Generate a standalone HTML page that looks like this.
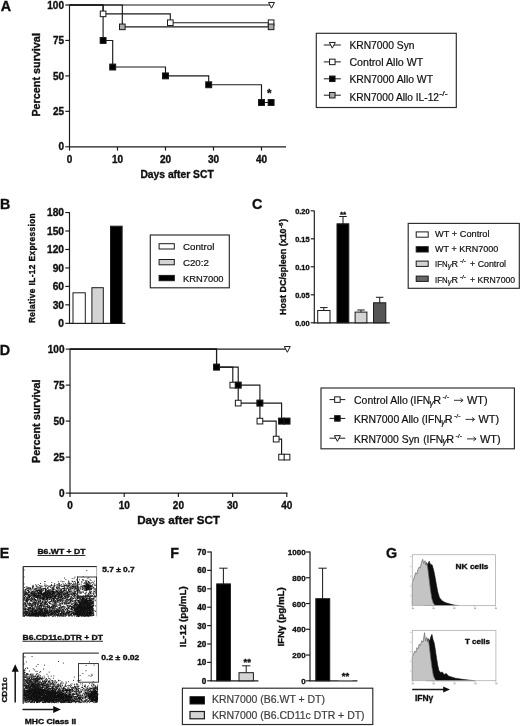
<!DOCTYPE html>
<html><head><meta charset="utf-8"><title>Figure</title>
<style>
html,body{margin:0;padding:0;background:#fff;}
body{width:520px;height:726px;overflow:hidden;}
svg{display:block;font-family:"Liberation Sans",sans-serif;}
</style></head><body>
<svg width="520" height="726" viewBox="0 0 520 726">
<defs><filter id="bl" x="0" y="0" width="520" height="726" filterUnits="userSpaceOnUse"><feGaussianBlur stdDeviation="0.35"/></filter></defs>
<rect x="0" y="0" width="520" height="726" fill="#fff"/>
<g filter="url(#bl)">
<text x="0.80" y="10.80" font-size="14.3" font-weight="bold" stroke="#111" stroke-width="0.35" fill="#111" >A</text>
<line x1="69.50" y1="4.50" x2="69.50" y2="147.30" stroke="#1a1a1a" stroke-width="1.15" />
<line x1="69.00" y1="146.80" x2="286.00" y2="146.80" stroke="#1a1a1a" stroke-width="1.15" />
<line x1="65.30" y1="146.80" x2="69.50" y2="146.80" stroke="#1a1a1a" stroke-width="1.15" />
<text x="64.00" y="150.40" font-size="10" font-weight="bold" stroke="#111" stroke-width="0.35" text-anchor="end" fill="#111" >0</text>
<line x1="65.30" y1="111.35" x2="69.50" y2="111.35" stroke="#1a1a1a" stroke-width="1.15" />
<text x="64.00" y="114.95" font-size="10" font-weight="bold" stroke="#111" stroke-width="0.35" text-anchor="end" fill="#111" >25</text>
<line x1="65.30" y1="75.90" x2="69.50" y2="75.90" stroke="#1a1a1a" stroke-width="1.15" />
<text x="64.00" y="79.50" font-size="10" font-weight="bold" stroke="#111" stroke-width="0.35" text-anchor="end" fill="#111" >50</text>
<line x1="65.30" y1="40.45" x2="69.50" y2="40.45" stroke="#1a1a1a" stroke-width="1.15" />
<text x="64.00" y="44.05" font-size="10" font-weight="bold" stroke="#111" stroke-width="0.35" text-anchor="end" fill="#111" >75</text>
<line x1="65.30" y1="5.00" x2="69.50" y2="5.00" stroke="#1a1a1a" stroke-width="1.15" />
<text x="64.00" y="8.60" font-size="10" font-weight="bold" stroke="#111" stroke-width="0.35" text-anchor="end" fill="#111" >100</text>
<line x1="69.50" y1="146.80" x2="69.50" y2="150.60" stroke="#1a1a1a" stroke-width="1.15" />
<text x="69.50" y="162.60" font-size="10" font-weight="bold" stroke="#111" stroke-width="0.35" text-anchor="middle" fill="#111" >0</text>
<line x1="117.50" y1="146.80" x2="117.50" y2="150.60" stroke="#1a1a1a" stroke-width="1.15" />
<text x="117.50" y="162.60" font-size="10" font-weight="bold" stroke="#111" stroke-width="0.35" text-anchor="middle" fill="#111" >10</text>
<line x1="165.50" y1="146.80" x2="165.50" y2="150.60" stroke="#1a1a1a" stroke-width="1.15" />
<text x="165.50" y="162.60" font-size="10" font-weight="bold" stroke="#111" stroke-width="0.35" text-anchor="middle" fill="#111" >20</text>
<line x1="213.50" y1="146.80" x2="213.50" y2="150.60" stroke="#1a1a1a" stroke-width="1.15" />
<text x="213.50" y="162.60" font-size="10" font-weight="bold" stroke="#111" stroke-width="0.35" text-anchor="middle" fill="#111" >30</text>
<line x1="261.50" y1="146.80" x2="261.50" y2="150.60" stroke="#1a1a1a" stroke-width="1.15" />
<text x="261.50" y="162.60" font-size="10" font-weight="bold" stroke="#111" stroke-width="0.35" text-anchor="middle" fill="#111" >40</text>
<text x="40.00" y="116.60" font-size="10.8" font-weight="bold" stroke="#111" stroke-width="0.35" textLength="83.5" lengthAdjust="spacingAndGlyphs" transform="rotate(-90 40.00 116.60)" fill="#111" >Percent survival</text>
<text x="140.40" y="178.30" font-size="10.5" font-weight="bold" stroke="#111" stroke-width="0.35" textLength="73.3" lengthAdjust="spacingAndGlyphs" fill="#111" >Days after SCT</text>
<path d="M69.50 5.00 L271.10 5.00" stroke="#1a1a1a" stroke-width="1.15" fill="none" />
<path d="M69.50 5.00 L103.10 5.00 L103.10 13.86 L170.30 13.86 L170.30 22.73 L271.10 22.73" stroke="#1a1a1a" stroke-width="1.15" fill="none" />
<path d="M69.50 5.00 L122.30 5.00 L122.30 26.84 L271.10 26.84" stroke="#1a1a1a" stroke-width="1.15" fill="none" />
<path d="M69.50 5.00 L103.10 5.00 L103.10 40.45 L112.70 40.45 L112.70 67.04 L165.50 67.04 L165.50 75.90 L208.70 75.90 L208.70 84.76 L261.50 84.76 L261.50 102.49 L271.10 102.49" stroke="#1a1a1a" stroke-width="1.15" fill="none" />
<path d="M268.50 2.45 L274.50 2.45 L271.50 8.15 Z" fill="#fff" stroke="#1a1a1a" stroke-width="1.0"/>
<rect x="100.30" y="11.06" width="5.60" height="5.60" fill="#fff" stroke="#1a1a1a" stroke-width="1.0"/>
<rect x="167.50" y="19.93" width="5.60" height="5.60" fill="#fff" stroke="#1a1a1a" stroke-width="1.0"/>
<rect x="268.30" y="19.93" width="5.60" height="5.60" fill="#fff" stroke="#1a1a1a" stroke-width="1.0"/>
<rect x="119.50" y="24.04" width="5.60" height="5.60" fill="#aaa" stroke="#1a1a1a" stroke-width="1.0"/>
<rect x="268.30" y="24.04" width="5.60" height="5.60" fill="#aaa" stroke="#1a1a1a" stroke-width="1.0"/>
<rect x="100.15" y="37.50" width="5.90" height="5.90" fill="#000" stroke="#1a1a1a" stroke-width="1.0"/>
<rect x="109.75" y="64.09" width="5.90" height="5.90" fill="#000" stroke="#1a1a1a" stroke-width="1.0"/>
<rect x="162.55" y="72.95" width="5.90" height="5.90" fill="#000" stroke="#1a1a1a" stroke-width="1.0"/>
<rect x="205.75" y="81.81" width="5.90" height="5.90" fill="#000" stroke="#1a1a1a" stroke-width="1.0"/>
<rect x="258.55" y="99.54" width="5.90" height="5.90" fill="#000" stroke="#1a1a1a" stroke-width="1.0"/>
<rect x="268.15" y="99.54" width="5.90" height="5.90" fill="#000" stroke="#1a1a1a" stroke-width="1.0"/>
<text x="269.30" y="97.00" font-size="11.5" font-weight="bold" stroke="#111" stroke-width="0.35" text-anchor="middle" fill="#111" >*</text>
<rect x="316.30" y="33.30" width="140.00" height="74.20" fill="#fff" stroke="#2a2a2a" stroke-width="1.15"/>
<line x1="323.80" y1="45.00" x2="340.80" y2="45.00" stroke="#1a1a1a" stroke-width="1.0" />
<path d="M329.30 42.45 L335.30 42.45 L332.30 48.15 Z" fill="#fff" stroke="#1a1a1a" stroke-width="1.0"/>
<text x="349.40" y="49.00" font-size="10.3" stroke="#111" stroke-width="0.2" textLength="65.2" lengthAdjust="spacingAndGlyphs" fill="#111" >KRN7000 Syn</text>
<line x1="323.80" y1="61.90" x2="340.80" y2="61.90" stroke="#1a1a1a" stroke-width="1.0" />
<rect x="329.55" y="59.15" width="5.50" height="5.50" fill="#fff" stroke="#1a1a1a" stroke-width="1.0"/>
<text x="349.40" y="65.70" font-size="10.3" stroke="#111" stroke-width="0.2" textLength="73.8" lengthAdjust="spacingAndGlyphs" fill="#111" >Control Allo WT</text>
<line x1="323.80" y1="78.80" x2="340.80" y2="78.80" stroke="#1a1a1a" stroke-width="1.0" />
<rect x="329.55" y="76.05" width="5.50" height="5.50" fill="#000" stroke="#1a1a1a" stroke-width="1.0"/>
<text x="349.40" y="82.60" font-size="10.3" stroke="#111" stroke-width="0.2" textLength="83.6" lengthAdjust="spacingAndGlyphs" fill="#111" >KRN7000 Allo WT</text>
<line x1="323.80" y1="95.20" x2="340.80" y2="95.20" stroke="#1a1a1a" stroke-width="1.0" />
<rect x="329.55" y="92.45" width="5.50" height="5.50" fill="#aaa" stroke="#1a1a1a" stroke-width="1.0"/>
<text x="349.40" y="101.00" font-size="10.3" stroke="#111" stroke-width="0.2" textLength="89.6" lengthAdjust="spacingAndGlyphs" fill="#111" >KRN7000 Allo IL-12</text>
<text x="439.30" y="96.30" font-size="6.5" stroke="#111" stroke-width="0.2" textLength="8.3" lengthAdjust="spacingAndGlyphs" fill="#111" >-/-</text>
<text x="-0.10" y="209.10" font-size="14.3" font-weight="bold" stroke="#111" stroke-width="0.35" fill="#111" >B</text>
<line x1="69.50" y1="212.00" x2="69.50" y2="323.80" stroke="#1a1a1a" stroke-width="1.15" />
<line x1="69.00" y1="323.30" x2="125.30" y2="323.30" stroke="#1a1a1a" stroke-width="1.15" />
<line x1="65.30" y1="323.30" x2="69.50" y2="323.30" stroke="#1a1a1a" stroke-width="1.15" />
<text x="64.00" y="327.00" font-size="10.2" font-weight="bold" stroke="#111" stroke-width="0.35" text-anchor="end" fill="#111" >0</text>
<line x1="65.30" y1="304.84" x2="69.50" y2="304.84" stroke="#1a1a1a" stroke-width="1.15" />
<text x="64.00" y="308.54" font-size="10.2" font-weight="bold" stroke="#111" stroke-width="0.35" text-anchor="end" fill="#111" >30</text>
<line x1="65.30" y1="286.38" x2="69.50" y2="286.38" stroke="#1a1a1a" stroke-width="1.15" />
<text x="64.00" y="290.08" font-size="10.2" font-weight="bold" stroke="#111" stroke-width="0.35" text-anchor="end" fill="#111" >60</text>
<line x1="65.30" y1="267.93" x2="69.50" y2="267.93" stroke="#1a1a1a" stroke-width="1.15" />
<text x="64.00" y="271.62" font-size="10.2" font-weight="bold" stroke="#111" stroke-width="0.35" text-anchor="end" fill="#111" >90</text>
<line x1="65.30" y1="249.47" x2="69.50" y2="249.47" stroke="#1a1a1a" stroke-width="1.15" />
<text x="64.00" y="253.17" font-size="10.2" font-weight="bold" stroke="#111" stroke-width="0.35" text-anchor="end" fill="#111" >120</text>
<line x1="65.30" y1="231.01" x2="69.50" y2="231.01" stroke="#1a1a1a" stroke-width="1.15" />
<text x="64.00" y="234.71" font-size="10.2" font-weight="bold" stroke="#111" stroke-width="0.35" text-anchor="end" fill="#111" >150</text>
<line x1="65.30" y1="212.55" x2="69.50" y2="212.55" stroke="#1a1a1a" stroke-width="1.15" />
<text x="64.00" y="216.25" font-size="10.2" font-weight="bold" stroke="#111" stroke-width="0.35" text-anchor="end" fill="#111" >180</text>
<rect x="73.00" y="292.80" width="12.30" height="30.50" fill="#fff" stroke="#1a1a1a" stroke-width="1.0"/>
<rect x="91.90" y="287.70" width="11.40" height="35.60" fill="#d4d4d4" stroke="#1a1a1a" stroke-width="1.0"/>
<rect x="110.50" y="226.20" width="11.60" height="97.10" fill="#000" stroke="#1a1a1a" stroke-width="1.0"/>
<text x="34.80" y="323.10" font-size="8.3" font-weight="bold" stroke="#111" stroke-width="0.35" textLength="109.8" lengthAdjust="spacing" transform="rotate(-90 34.80 323.10)" fill="#111" >Relative IL-12 Expression</text>
<rect x="150.30" y="235.00" width="79.00" height="52.80" fill="#fff" stroke="#2a2a2a" stroke-width="1.15"/>
<rect x="159.10" y="243.70" width="15.20" height="5.30" fill="#fff" stroke="#1a1a1a" stroke-width="1.0"/>
<text x="182.90" y="249.80" font-size="9.6" stroke="#111" stroke-width="0.2" textLength="31.5" lengthAdjust="spacingAndGlyphs" fill="#111" >Control</text>
<rect x="159.10" y="259.50" width="15.20" height="5.30" fill="#d4d4d4" stroke="#1a1a1a" stroke-width="1.0"/>
<text x="182.90" y="265.60" font-size="9.6" stroke="#111" stroke-width="0.2" textLength="26.0" lengthAdjust="spacingAndGlyphs" fill="#111" >C20:2</text>
<rect x="159.10" y="275.40" width="15.20" height="5.30" fill="#000" stroke="#1a1a1a" stroke-width="1.0"/>
<text x="182.90" y="281.70" font-size="9.6" stroke="#111" stroke-width="0.2" textLength="40.7" lengthAdjust="spacingAndGlyphs" fill="#111" >KRN7000</text>
<text x="251.90" y="209.40" font-size="14.3" font-weight="bold" stroke="#111" stroke-width="0.35" fill="#111" >C</text>
<line x1="314.30" y1="210.70" x2="314.30" y2="323.30" stroke="#1a1a1a" stroke-width="1.15" />
<line x1="313.80" y1="322.80" x2="389.70" y2="322.80" stroke="#1a1a1a" stroke-width="1.15" />
<line x1="310.70" y1="322.80" x2="314.30" y2="322.80" stroke="#1a1a1a" stroke-width="1.15" />
<text x="309.60" y="325.50" font-size="7.6" font-weight="bold" stroke="#111" stroke-width="0.35" text-anchor="end" textLength="14.4" lengthAdjust="spacingAndGlyphs" fill="#111" >0.00</text>
<line x1="310.70" y1="294.80" x2="314.30" y2="294.80" stroke="#1a1a1a" stroke-width="1.15" />
<text x="309.60" y="297.50" font-size="7.6" font-weight="bold" stroke="#111" stroke-width="0.35" text-anchor="end" textLength="14.4" lengthAdjust="spacingAndGlyphs" fill="#111" >0.05</text>
<line x1="310.70" y1="266.80" x2="314.30" y2="266.80" stroke="#1a1a1a" stroke-width="1.15" />
<text x="309.60" y="269.50" font-size="7.6" font-weight="bold" stroke="#111" stroke-width="0.35" text-anchor="end" textLength="14.4" lengthAdjust="spacingAndGlyphs" fill="#111" >0.10</text>
<line x1="310.70" y1="238.80" x2="314.30" y2="238.80" stroke="#1a1a1a" stroke-width="1.15" />
<text x="309.60" y="241.50" font-size="7.6" font-weight="bold" stroke="#111" stroke-width="0.35" text-anchor="end" textLength="14.4" lengthAdjust="spacingAndGlyphs" fill="#111" >0.15</text>
<line x1="310.70" y1="210.80" x2="314.30" y2="210.80" stroke="#1a1a1a" stroke-width="1.15" />
<text x="309.60" y="213.50" font-size="7.6" font-weight="bold" stroke="#111" stroke-width="0.35" text-anchor="end" textLength="14.4" lengthAdjust="spacingAndGlyphs" fill="#111" >0.20</text>
<line x1="323.80" y1="307.60" x2="323.80" y2="311.00" stroke="#1a1a1a" stroke-width="1.0" />
<line x1="320.05" y1="307.60" x2="327.55" y2="307.60" stroke="#1a1a1a" stroke-width="1.0" />
<rect x="317.70" y="310.50" width="12.30" height="12.30" fill="#fff" stroke="#1a1a1a" stroke-width="1.0"/>
<line x1="343.00" y1="216.50" x2="343.00" y2="224.00" stroke="#1a1a1a" stroke-width="1.0" />
<line x1="339.25" y1="216.50" x2="346.75" y2="216.50" stroke="#1a1a1a" stroke-width="1.0" />
<rect x="337.00" y="223.80" width="11.80" height="99.00" fill="#000" stroke="#1a1a1a" stroke-width="1.0"/>
<line x1="361.00" y1="310.00" x2="361.00" y2="313.00" stroke="#1a1a1a" stroke-width="1.0" />
<line x1="357.25" y1="310.00" x2="364.75" y2="310.00" stroke="#1a1a1a" stroke-width="1.0" />
<rect x="355.10" y="312.10" width="11.80" height="10.70" fill="#d4d4d4" stroke="#1a1a1a" stroke-width="1.0"/>
<line x1="379.70" y1="297.30" x2="379.70" y2="303.00" stroke="#1a1a1a" stroke-width="1.0" />
<line x1="375.95" y1="297.30" x2="383.45" y2="297.30" stroke="#1a1a1a" stroke-width="1.0" />
<rect x="373.50" y="302.80" width="12.30" height="20.00" fill="#555" stroke="#1a1a1a" stroke-width="1.0"/>
<text x="343.00" y="217.00" font-size="8" font-weight="bold" stroke="#111" stroke-width="0.35" text-anchor="middle" fill="#111" >**</text>
<text x="286.50" y="314.90" font-size="8.6" font-weight="bold" stroke="#111" stroke-width="0.35" textLength="86.5" lengthAdjust="spacingAndGlyphs" transform="rotate(-90 286.50 314.90)" fill="#111" >Host DC/spleen (x10</text>
<text x="283.00" y="228.00" font-size="5.5" font-weight="bold" stroke="#111" stroke-width="0.35" textLength="5.5" lengthAdjust="spacingAndGlyphs" transform="rotate(-90 283.00 228.00)" fill="#111" >-6</text>
<text x="286.50" y="221.80" font-size="8.6" font-weight="bold" stroke="#111" stroke-width="0.35" transform="rotate(-90 286.50 221.80)" fill="#111" >)</text>
<rect x="408.20" y="223.40" width="111.10" height="64.90" fill="#fff" stroke="#2a2a2a" stroke-width="1.15"/>
<rect x="416.20" y="231.90" width="12.00" height="5.30" fill="#fff" stroke="#1a1a1a" stroke-width="1.0"/>
<rect x="416.20" y="246.70" width="12.00" height="5.30" fill="#000" stroke="#1a1a1a" stroke-width="1.0"/>
<rect x="416.20" y="261.10" width="12.00" height="5.30" fill="#d4d4d4" stroke="#1a1a1a" stroke-width="1.0"/>
<rect x="416.20" y="276.10" width="12.00" height="5.30" fill="#666" stroke="#1a1a1a" stroke-width="1.0"/>
<text x="435.10" y="237.20" font-size="9.0" stroke="#111" stroke-width="0.2" textLength="54.4" lengthAdjust="spacingAndGlyphs" fill="#111" >WT + Control</text>
<text x="435.10" y="252.00" font-size="9.0" stroke="#111" stroke-width="0.2" textLength="63.2" lengthAdjust="spacingAndGlyphs" fill="#111" >WT + KRN7000</text>
<text x="435.10" y="266.80" font-size="9.0" stroke="#111" stroke-width="0.2" textLength="12.6" lengthAdjust="spacingAndGlyphs" fill="#111" >IFN</text>
<text x="447.80" y="268.30" font-size="7.38" stroke="#111" stroke-width="0.2" fill="#111" font-style="italic">γ</text>
<text x="451.50" y="266.80" font-size="9.0" stroke="#111" stroke-width="0.2" fill="#111" >R</text>
<text x="459.80" y="262.80" font-size="5.3" stroke="#111" stroke-width="0.2" textLength="6.2" lengthAdjust="spacingAndGlyphs" fill="#111" >-/-</text>
<text x="470.10" y="266.80" font-size="9.0" stroke="#111" stroke-width="0.2" textLength="36.0" lengthAdjust="spacingAndGlyphs" fill="#111" >+ Control</text>
<text x="435.10" y="282.50" font-size="9.0" stroke="#111" stroke-width="0.2" textLength="12.6" lengthAdjust="spacingAndGlyphs" fill="#111" >IFN</text>
<text x="447.80" y="284.00" font-size="7.38" stroke="#111" stroke-width="0.2" fill="#111" font-style="italic">γ</text>
<text x="451.50" y="282.50" font-size="9.0" stroke="#111" stroke-width="0.2" fill="#111" >R</text>
<text x="459.80" y="278.50" font-size="5.3" stroke="#111" stroke-width="0.2" textLength="6.2" lengthAdjust="spacingAndGlyphs" fill="#111" >-/-</text>
<text x="470.10" y="282.50" font-size="9.0" stroke="#111" stroke-width="0.2" textLength="45.0" lengthAdjust="spacingAndGlyphs" fill="#111" >+ KRN7000</text>
<text x="-0.30" y="354.50" font-size="14.3" font-weight="bold" stroke="#111" stroke-width="0.35" fill="#111" >D</text>
<line x1="70.00" y1="348.60" x2="70.00" y2="493.60" stroke="#1a1a1a" stroke-width="1.15" />
<line x1="69.50" y1="493.10" x2="287.40" y2="493.10" stroke="#1a1a1a" stroke-width="1.15" />
<line x1="65.80" y1="493.10" x2="70.00" y2="493.10" stroke="#1a1a1a" stroke-width="1.15" />
<text x="64.50" y="496.70" font-size="10" font-weight="bold" stroke="#111" stroke-width="0.35" text-anchor="end" fill="#111" >0</text>
<line x1="65.80" y1="457.10" x2="70.00" y2="457.10" stroke="#1a1a1a" stroke-width="1.15" />
<text x="64.50" y="460.70" font-size="10" font-weight="bold" stroke="#111" stroke-width="0.35" text-anchor="end" fill="#111" >25</text>
<line x1="65.80" y1="421.10" x2="70.00" y2="421.10" stroke="#1a1a1a" stroke-width="1.15" />
<text x="64.50" y="424.70" font-size="10" font-weight="bold" stroke="#111" stroke-width="0.35" text-anchor="end" fill="#111" >50</text>
<line x1="65.80" y1="385.10" x2="70.00" y2="385.10" stroke="#1a1a1a" stroke-width="1.15" />
<text x="64.50" y="388.70" font-size="10" font-weight="bold" stroke="#111" stroke-width="0.35" text-anchor="end" fill="#111" >75</text>
<line x1="65.80" y1="349.10" x2="70.00" y2="349.10" stroke="#1a1a1a" stroke-width="1.15" />
<text x="64.50" y="352.70" font-size="10" font-weight="bold" stroke="#111" stroke-width="0.35" text-anchor="end" fill="#111" >100</text>
<line x1="70.00" y1="493.10" x2="70.00" y2="496.90" stroke="#1a1a1a" stroke-width="1.15" />
<text x="70.00" y="508.60" font-size="10" font-weight="bold" stroke="#111" stroke-width="0.35" text-anchor="middle" fill="#111" >0</text>
<line x1="124.20" y1="493.10" x2="124.20" y2="496.90" stroke="#1a1a1a" stroke-width="1.15" />
<text x="124.20" y="508.60" font-size="10" font-weight="bold" stroke="#111" stroke-width="0.35" text-anchor="middle" fill="#111" >10</text>
<line x1="178.40" y1="493.10" x2="178.40" y2="496.90" stroke="#1a1a1a" stroke-width="1.15" />
<text x="178.40" y="508.60" font-size="10" font-weight="bold" stroke="#111" stroke-width="0.35" text-anchor="middle" fill="#111" >20</text>
<line x1="232.60" y1="493.10" x2="232.60" y2="496.90" stroke="#1a1a1a" stroke-width="1.15" />
<text x="232.60" y="508.60" font-size="10" font-weight="bold" stroke="#111" stroke-width="0.35" text-anchor="middle" fill="#111" >30</text>
<line x1="286.80" y1="493.10" x2="286.80" y2="496.90" stroke="#1a1a1a" stroke-width="1.15" />
<text x="286.80" y="508.60" font-size="10" font-weight="bold" stroke="#111" stroke-width="0.35" text-anchor="middle" fill="#111" >40</text>
<text x="40.00" y="463.00" font-size="10.8" font-weight="bold" stroke="#111" stroke-width="0.35" textLength="83.5" lengthAdjust="spacingAndGlyphs" transform="rotate(-90 40.00 463.00)" fill="#111" >Percent survival</text>
<text x="137.20" y="524.20" font-size="11.6" font-weight="bold" stroke="#111" stroke-width="0.35" textLength="82.7" lengthAdjust="spacingAndGlyphs" fill="#111" >Days after SCT</text>
<path d="M70.20 349.10 L287.00 349.10" stroke="#1a1a1a" stroke-width="1.15" fill="none" />
<path d="M70.20 349.10 L216.54 349.10 L216.54 367.10 L232.80 367.10 L232.80 385.10 L238.22 385.10 L238.22 403.10 L259.90 403.10 L259.90 421.10 L276.16 421.10 L276.16 439.10 L281.58 439.10 L281.58 457.10 L287.00 457.10" stroke="#1a1a1a" stroke-width="1.15" fill="none" />
<path d="M70.20 349.10 L216.54 349.10 L216.54 367.10 L238.22 367.10 L238.22 385.10 L259.90 385.10 L259.90 403.10 L281.58 403.10 L281.58 421.10 L287.00 421.10" stroke="#1a1a1a" stroke-width="1.15" fill="none" />
<path d="M284.30 346.55 L290.30 346.55 L287.30 352.25 Z" fill="#fff" stroke="#1a1a1a" stroke-width="1.0"/>
<rect x="229.95" y="382.25" width="5.70" height="5.70" fill="#fff" stroke="#1a1a1a" stroke-width="1.0"/>
<rect x="235.37" y="400.25" width="5.70" height="5.70" fill="#fff" stroke="#1a1a1a" stroke-width="1.0"/>
<rect x="257.05" y="418.25" width="5.70" height="5.70" fill="#fff" stroke="#1a1a1a" stroke-width="1.0"/>
<rect x="273.31" y="436.25" width="5.70" height="5.70" fill="#fff" stroke="#1a1a1a" stroke-width="1.0"/>
<rect x="278.73" y="454.25" width="5.70" height="5.70" fill="#fff" stroke="#1a1a1a" stroke-width="1.0"/>
<rect x="284.15" y="454.25" width="5.70" height="5.70" fill="#fff" stroke="#1a1a1a" stroke-width="1.0"/>
<rect x="213.54" y="364.10" width="6.00" height="6.00" fill="#000" stroke="#1a1a1a" stroke-width="1.0"/>
<rect x="235.22" y="382.10" width="6.00" height="6.00" fill="#000" stroke="#1a1a1a" stroke-width="1.0"/>
<rect x="256.90" y="400.10" width="6.00" height="6.00" fill="#000" stroke="#1a1a1a" stroke-width="1.0"/>
<rect x="278.58" y="418.10" width="6.00" height="6.00" fill="#000" stroke="#1a1a1a" stroke-width="1.0"/>
<rect x="284.00" y="418.10" width="6.00" height="6.00" fill="#000" stroke="#1a1a1a" stroke-width="1.0"/>
<rect x="321.00" y="388.00" width="193.40" height="60.80" fill="#fff" stroke="#2a2a2a" stroke-width="1.15"/>
<line x1="329.50" y1="399.60" x2="345.30" y2="399.60" stroke="#1a1a1a" stroke-width="1.0" />
<rect x="334.65" y="396.85" width="5.50" height="5.50" fill="#fff" stroke="#1a1a1a" stroke-width="1.0"/>
<text x="354.00" y="403.90" font-size="10.3" stroke="#111" stroke-width="0.2" textLength="53.8" lengthAdjust="spacingAndGlyphs" fill="#111" >Control Allo</text>
<text x="410.20" y="403.90" font-size="10.3" stroke="#111" stroke-width="0.2" textLength="20.0" lengthAdjust="spacingAndGlyphs" fill="#111" >(IFN</text>
<text x="429.60" y="405.70" font-size="8.446" stroke="#111" stroke-width="0.2" fill="#111" font-style="italic">γ</text>
<text x="433.20" y="403.90" font-size="10.3" stroke="#111" stroke-width="0.2" textLength="7.8" lengthAdjust="spacingAndGlyphs" fill="#111" >R</text>
<text x="442.40" y="399.30" font-size="6.0" stroke="#111" stroke-width="0.2" textLength="6.7" lengthAdjust="spacingAndGlyphs" fill="#111" >-/-</text>
<line x1="454.00" y1="400.30" x2="462.80" y2="400.30" stroke="#1a1a1a" stroke-width="0.9" />
<path d="M460.50 398.30 L463.10 400.30 L460.50 402.30" stroke="#1a1a1a" stroke-width="0.9" fill="none" />
<text x="467.00" y="403.90" font-size="10.3" stroke="#111" stroke-width="0.2" textLength="20.6" lengthAdjust="spacingAndGlyphs" fill="#111" >WT)</text>
<line x1="329.50" y1="418.40" x2="345.30" y2="418.40" stroke="#1a1a1a" stroke-width="1.0" />
<rect x="334.65" y="415.65" width="5.50" height="5.50" fill="#000" stroke="#1a1a1a" stroke-width="1.0"/>
<text x="354.00" y="423.00" font-size="10.3" stroke="#111" stroke-width="0.2" textLength="64.9" lengthAdjust="spacingAndGlyphs" fill="#111" >KRN7000 Allo</text>
<text x="421.70" y="423.00" font-size="10.3" stroke="#111" stroke-width="0.2" textLength="20.0" lengthAdjust="spacingAndGlyphs" fill="#111" >(IFN</text>
<text x="441.10" y="424.80" font-size="8.446" stroke="#111" stroke-width="0.2" fill="#111" font-style="italic">γ</text>
<text x="444.70" y="423.00" font-size="10.3" stroke="#111" stroke-width="0.2" textLength="7.8" lengthAdjust="spacingAndGlyphs" fill="#111" >R</text>
<text x="453.90" y="418.40" font-size="6.0" stroke="#111" stroke-width="0.2" textLength="6.7" lengthAdjust="spacingAndGlyphs" fill="#111" >-/-</text>
<line x1="465.50" y1="419.40" x2="474.30" y2="419.40" stroke="#1a1a1a" stroke-width="0.9" />
<path d="M472.00 417.40 L474.60 419.40 L472.00 421.40" stroke="#1a1a1a" stroke-width="0.9" fill="none" />
<text x="478.50" y="423.00" font-size="10.3" stroke="#111" stroke-width="0.2" textLength="20.6" lengthAdjust="spacingAndGlyphs" fill="#111" >WT)</text>
<line x1="329.50" y1="438.20" x2="345.30" y2="438.20" stroke="#1a1a1a" stroke-width="1.0" />
<path d="M334.40 435.65 L340.40 435.65 L337.40 441.35 Z" fill="#fff" stroke="#1a1a1a" stroke-width="1.0"/>
<text x="354.00" y="442.50" font-size="10.3" stroke="#111" stroke-width="0.2" textLength="65.6" lengthAdjust="spacingAndGlyphs" fill="#111" >KRN7000 Syn</text>
<text x="423.20" y="442.50" font-size="10.3" stroke="#111" stroke-width="0.2" textLength="20.0" lengthAdjust="spacingAndGlyphs" fill="#111" >(IFN</text>
<text x="442.60" y="444.30" font-size="8.446" stroke="#111" stroke-width="0.2" fill="#111" font-style="italic">γ</text>
<text x="446.20" y="442.50" font-size="10.3" stroke="#111" stroke-width="0.2" textLength="7.8" lengthAdjust="spacingAndGlyphs" fill="#111" >R</text>
<text x="455.40" y="437.90" font-size="6.0" stroke="#111" stroke-width="0.2" textLength="6.7" lengthAdjust="spacingAndGlyphs" fill="#111" >-/-</text>
<line x1="467.00" y1="438.90" x2="475.80" y2="438.90" stroke="#1a1a1a" stroke-width="0.9" />
<path d="M473.50 436.90 L476.10 438.90 L473.50 440.90" stroke="#1a1a1a" stroke-width="0.9" fill="none" />
<text x="480.00" y="442.50" font-size="10.3" stroke="#111" stroke-width="0.2" textLength="20.6" lengthAdjust="spacingAndGlyphs" fill="#111" >WT)</text>
<text x="-0.20" y="557.80" font-size="14.3" font-weight="bold" stroke="#111" stroke-width="0.35" fill="#111" >E</text>
<text x="37.40" y="554.00" font-size="7.4" font-weight="bold" stroke="#111" stroke-width="0.35" textLength="48.0" lengthAdjust="spacingAndGlyphs" fill="#111" >B6.WT + DT</text>
<line x1="37.40" y1="555.50" x2="85.40" y2="555.50" stroke="#1a1a1a" stroke-width="0.9" />
<text x="102.30" y="572.00" font-size="7.4" font-weight="bold" stroke="#111" stroke-width="0.35" textLength="32.4" lengthAdjust="spacingAndGlyphs" fill="#111" >5.7 ± 0.7</text>
<text x="22.50" y="639.80" font-size="7.4" font-weight="bold" stroke="#111" stroke-width="0.35" textLength="80.5" lengthAdjust="spacingAndGlyphs" fill="#111" >B6.CD11c.DTR + DT</text>
<line x1="22.50" y1="641.30" x2="103.00" y2="641.30" stroke="#1a1a1a" stroke-width="0.9" />
<text x="101.30" y="660.30" font-size="7.4" font-weight="bold" stroke="#111" stroke-width="0.35" textLength="38.0" lengthAdjust="spacingAndGlyphs" fill="#111" >0.2 ± 0.02</text>
<text x="24.70" y="724.20" font-size="7.4" font-weight="bold" stroke="#111" stroke-width="0.35" textLength="51.5" lengthAdjust="spacingAndGlyphs" fill="#111" >MHC Class II</text>
<text x="6.60" y="702.60" font-size="7.2" font-weight="bold" stroke="#111" stroke-width="0.35" textLength="25.1" lengthAdjust="spacingAndGlyphs" transform="rotate(-90 6.60 702.60)" fill="#111" >CD11c</text>
<line x1="15.20" y1="702.60" x2="15.20" y2="671.00" stroke="#1a1a1a" stroke-width="1.5" />
<path d="M15.2 664.3 L11.7 671.8 L18.7 671.8 Z" fill="#111"/>
<line x1="22.50" y1="709.50" x2="53.50" y2="709.50" stroke="#1a1a1a" stroke-width="1.5" />
<path d="M60.8 709.5 L53.2 706 L53.2 713 Z" fill="#111"/>
<path d="M24.2 587.5h0.9M23.9 591.8h0.9M23.4 592.3h0.9M23.8 593.5h0.9M24.1 594.9h0.9M23.6 594.8h0.9M24.3 595.3h0.9M23.7 596.0h0.9M23.5 595.7h0.9M24.0 597.8h0.9M23.9 597.7h0.9M24.2 598.1h0.9M23.8 597.9h0.9M23.7 599.9h0.9M23.4 599.7h0.9M23.5 599.3h0.9M23.4 600.0h0.9M23.8 602.7h0.9M24.2 603.0h0.9M23.7 603.6h0.9M23.5 604.4h0.9M23.6 604.7h0.9M23.3 605.6h0.9M24.3 606.9h0.9M23.4 608.1h0.9M24.1 608.1h0.9M23.4 608.8h0.9M23.4 608.3h0.9M23.7 609.3h0.9M23.7 611.2h0.9M23.6 612.5h0.9M23.7 612.3h0.9M23.4 613.5h0.9M23.6 614.0h0.9M23.5 613.2h0.9M24.3 613.7h0.9M23.4 614.7h0.9M23.5 616.0h0.9M23.9 616.0h0.9M23.7 615.4h0.9M24.1 616.2h0.9M25.0 590.0h0.9M24.4 589.9h0.9M25.2 590.0h0.9M24.5 591.0h0.9M25.3 591.6h0.9M24.5 592.4h0.9M25.2 593.0h0.9M24.5 593.0h0.9M24.5 593.2h0.9M25.3 593.8h0.9M24.9 594.1h0.9M24.6 594.5h0.9M24.6 594.8h0.9M24.6 594.6h0.9M25.2 596.6h0.9M25.2 596.7h0.9M24.9 596.7h0.9M24.3 599.0h0.9M24.7 600.7h0.9M24.9 601.0h0.9M24.6 603.0h0.9M25.2 603.6h0.9M24.9 603.7h0.9M24.9 604.7h0.9M25.3 604.9h0.9M24.9 606.1h0.9M25.2 605.3h0.9M24.6 607.3h0.9M25.0 608.9h0.9M24.5 609.1h0.9M25.3 608.4h0.9M24.5 609.6h0.9M24.8 609.5h0.9M24.5 609.5h0.9M25.1 609.2h0.9M24.7 610.8h0.9M24.8 610.3h0.9M24.6 611.2h0.9M25.1 611.5h0.9M24.5 611.6h0.9M25.2 612.8h0.9M25.0 612.3h0.9M24.4 612.9h0.9M25.3 613.8h0.9M25.2 614.3h0.9M25.3 615.5h0.9M24.5 615.7h0.9M24.6 615.3h0.9M25.8 587.0h0.9M26.3 588.5h0.9M25.7 589.5h0.9M25.4 589.3h0.9M25.5 591.3h0.9M25.6 592.5h0.9M25.8 592.4h0.9M25.8 592.5h0.9M26.3 593.5h0.9M25.7 593.2h0.9M25.7 593.7h0.9M25.8 594.2h0.9M25.7 595.2h0.9M25.9 597.7h0.9M25.7 599.2h0.9M25.5 598.9h0.9M26.0 598.2h0.9M26.2 599.1h0.9M25.9 599.7h0.9M26.2 600.0h0.9M26.2 599.8h0.9M25.4 600.3h0.9M25.7 600.3h0.9M26.2 600.8h0.9M25.3 602.0h0.9M26.1 601.7h0.9M25.9 601.9h0.9M25.4 603.5h0.9M26.1 605.2h0.9M25.8 605.9h0.9M25.5 606.5h0.9M26.1 606.5h0.9M25.9 606.2h0.9M26.0 608.9h0.9M25.8 609.7h0.9M25.8 612.0h0.9M26.3 611.6h0.9M25.6 611.4h0.9M26.3 611.4h0.9M26.3 612.3h0.9M26.2 612.7h0.9M25.3 613.7h0.9M25.8 613.5h0.9M25.5 613.5h0.9M25.6 614.0h0.9M25.3 614.0h0.9M25.6 614.6h0.9M25.7 615.2h0.9M25.9 614.6h0.9M25.8 614.5h0.9M26.6 587.2h0.9M26.8 588.5h0.9M27.0 590.5h0.9M26.9 590.6h0.9M26.6 594.1h0.9M27.3 593.6h0.9M26.4 594.5h0.9M26.9 597.1h0.9M26.9 597.6h0.9M26.7 597.3h0.9M26.8 598.8h0.9M27.2 598.4h0.9M26.7 599.6h0.9M26.4 600.9h0.9M27.2 600.7h0.9M26.9 600.2h0.9M26.4 601.4h0.9M26.9 601.9h0.9M27.3 601.9h0.9M27.0 602.0h0.9M26.8 601.8h0.9M27.2 603.8h0.9M26.6 604.8h0.9M26.4 605.7h0.9M26.6 606.8h0.9M27.3 608.8h0.9M26.6 610.2h0.9M27.0 609.5h0.9M27.0 612.1h0.9M26.6 611.2h0.9M26.7 611.6h0.9M26.5 613.2h0.9M26.6 613.0h0.9M26.6 612.4h0.9M27.1 612.5h0.9M26.7 613.9h0.9M27.3 613.3h0.9M26.7 613.4h0.9M26.4 614.6h0.9M27.2 615.1h0.9M27.3 615.9h0.9M26.4 615.9h0.9M26.7 615.6h0.9M26.7 615.4h0.9M27.4 587.3h0.9M28.3 587.5h0.9M27.6 589.2h0.9M27.9 588.5h0.9M27.6 589.2h0.9M27.6 590.7h0.9M28.3 591.2h0.9M27.7 590.5h0.9M27.8 590.7h0.9M28.1 591.9h0.9M27.6 592.6h0.9M28.1 592.3h0.9M27.5 593.0h0.9M27.4 593.8h0.9M27.4 594.3h0.9M27.8 594.9h0.9M27.8 594.4h0.9M27.7 594.8h0.9M28.2 595.5h0.9M27.9 595.6h0.9M28.1 595.4h0.9M27.6 595.4h0.9M27.7 596.6h0.9M28.3 596.7h0.9M28.3 597.3h0.9M27.8 598.0h0.9M27.6 598.3h0.9M27.5 599.2h0.9M27.8 599.5h0.9M28.1 600.1h0.9M27.4 599.8h0.9M27.7 600.3h0.9M27.3 603.5h0.9M28.0 603.4h0.9M28.1 604.7h0.9M27.4 607.4h0.9M28.0 607.6h0.9M28.3 608.5h0.9M28.2 610.2h0.9M27.7 609.4h0.9M28.2 610.6h0.9M28.2 610.6h0.9M27.3 611.8h0.9M28.0 612.1h0.9M27.7 612.7h0.9M27.9 614.1h0.9M28.3 614.4h0.9M27.5 615.1h0.9M28.3 615.6h0.9M28.2 615.8h0.9M28.9 587.8h0.9M28.8 588.8h0.9M28.8 589.6h0.9M29.1 592.0h0.9M28.8 591.4h0.9M28.5 592.6h0.9M29.0 594.3h0.9M29.1 595.0h0.9M28.8 595.6h0.9M29.3 596.9h0.9M29.1 596.4h0.9M29.1 598.1h0.9M28.4 597.6h0.9M29.1 597.4h0.9M29.2 597.5h0.9M28.8 599.1h0.9M28.8 599.5h0.9M29.1 603.3h0.9M28.9 603.8h0.9M28.7 604.1h0.9M29.3 604.8h0.9M28.7 605.0h0.9M28.6 605.2h0.9M29.1 605.6h0.9M29.1 607.5h0.9M28.3 608.2h0.9M28.5 608.8h0.9M28.8 608.7h0.9M29.2 608.3h0.9M28.3 609.6h0.9M28.4 609.6h0.9M28.5 610.8h0.9M28.8 610.3h0.9M28.4 611.8h0.9M29.2 612.0h0.9M29.0 612.8h0.9M28.7 612.8h0.9M28.9 613.6h0.9M28.6 613.3h0.9M29.1 613.2h0.9M28.9 614.1h0.9M28.5 613.4h0.9M28.6 614.5h0.9M28.4 615.1h0.9M29.1 614.9h0.9M28.3 615.0h0.9M28.4 615.4h0.9M28.4 615.5h0.9M29.1 615.9h0.9M29.2 615.9h0.9M30.0 588.2h0.9M29.8 588.0h0.9M30.1 588.8h0.9M29.6 588.4h0.9M30.2 589.3h0.9M29.4 592.2h0.9M30.0 592.8h0.9M29.9 593.6h0.9M30.1 594.0h0.9M30.2 595.1h0.9M29.4 595.2h0.9M30.2 596.0h0.9M29.4 596.3h0.9M30.1 596.4h0.9M29.6 596.6h0.9M30.0 598.6h0.9M30.2 599.8h0.9M29.4 599.6h0.9M30.0 600.7h0.9M29.5 601.1h0.9M29.3 602.4h0.9M29.8 603.7h0.9M30.1 603.4h0.9M30.2 604.5h0.9M30.0 605.7h0.9M29.4 605.8h0.9M29.7 607.6h0.9M30.2 607.3h0.9M30.2 607.2h0.9M29.5 607.5h0.9M29.6 608.7h0.9M29.9 609.0h0.9M30.1 608.8h0.9M29.5 610.0h0.9M29.8 611.0h0.9M29.9 610.3h0.9M29.6 611.9h0.9M30.2 611.4h0.9M29.5 611.4h0.9M29.7 612.4h0.9M30.3 612.9h0.9M29.7 614.2h0.9M30.1 613.9h0.9M29.5 614.6h0.9M29.4 614.6h0.9M30.1 614.9h0.9M29.9 615.6h0.9M30.1 616.1h0.9M29.8 615.8h0.9M31.0 589.1h0.9M30.8 591.2h0.9M30.4 590.7h0.9M30.9 592.7h0.9M31.0 592.7h0.9M31.0 593.0h0.9M31.0 593.6h0.9M31.1 593.3h0.9M31.3 593.6h0.9M30.7 595.6h0.9M31.0 595.6h0.9M31.1 597.1h0.9M31.1 597.6h0.9M31.1 599.0h0.9M30.6 600.2h0.9M30.7 599.8h0.9M30.9 600.3h0.9M31.2 600.6h0.9M31.2 600.5h0.9M30.8 601.4h0.9M30.6 603.5h0.9M31.0 604.9h0.9M31.2 606.1h0.9M31.1 605.3h0.9M31.2 605.8h0.9M30.4 608.3h0.9M30.6 609.0h0.9M31.2 610.0h0.9M31.0 611.1h0.9M31.1 611.0h0.9M30.5 610.9h0.9M30.6 611.3h0.9M30.8 611.3h0.9M30.8 611.3h0.9M30.8 611.7h0.9M30.9 612.1h0.9M31.3 613.3h0.9M31.0 613.8h0.9M30.4 613.8h0.9M31.0 614.1h0.9M30.7 614.2h0.9M30.8 613.7h0.9M31.0 614.5h0.9M31.2 614.6h0.9M30.8 615.8h0.9M31.2 615.5h0.9M31.2 615.6h0.9M30.8 615.5h0.9M32.0 586.0h0.9M31.9 586.8h0.9M32.0 587.4h0.9M32.1 588.3h0.9M32.2 592.0h0.9M31.9 591.5h0.9M31.6 591.6h0.9M32.3 592.3h0.9M31.9 592.2h0.9M32.2 593.6h0.9M31.3 593.6h0.9M32.0 594.4h0.9M31.5 594.2h0.9M31.3 594.9h0.9M31.5 595.2h0.9M31.4 595.1h0.9M32.0 595.4h0.9M32.1 596.9h0.9M32.2 596.9h0.9M32.3 598.9h0.9M31.3 598.2h0.9M32.0 599.0h0.9M31.4 598.5h0.9M32.2 599.7h0.9M31.8 601.9h0.9M32.0 603.6h0.9M31.7 604.0h0.9M31.4 605.2h0.9M32.0 605.0h0.9M31.7 604.8h0.9M31.8 606.1h0.9M31.7 605.9h0.9M31.9 606.1h0.9M31.3 606.5h0.9M31.4 608.0h0.9M32.1 608.1h0.9M31.9 607.5h0.9M31.4 608.8h0.9M32.1 608.4h0.9M32.1 609.1h0.9M31.6 608.8h0.9M31.6 610.0h0.9M32.1 609.7h0.9M32.1 610.4h0.9M31.5 611.4h0.9M32.0 611.6h0.9M31.9 611.6h0.9M31.8 611.3h0.9M31.4 612.2h0.9M31.7 611.3h0.9M31.8 612.2h0.9M31.4 613.2h0.9M32.2 612.7h0.9M31.9 612.5h0.9M31.5 613.4h0.9M31.4 613.3h0.9M31.9 614.1h0.9M31.8 614.1h0.9M32.2 613.3h0.9M31.9 613.6h0.9M31.4 614.2h0.9M31.5 615.2h0.9M32.3 614.4h0.9M31.4 614.5h0.9M31.7 615.1h0.9M32.2 615.0h0.9M31.4 615.0h0.9M31.5 616.0h0.9M32.3 615.9h0.9M31.6 615.8h0.9M32.8 585.3h0.9M32.8 586.5h0.9M33.2 586.7h0.9M32.6 587.3h0.9M32.5 589.1h0.9M32.6 591.0h0.9M32.8 591.5h0.9M33.3 592.3h0.9M32.6 593.5h0.9M32.5 593.6h0.9M33.3 594.2h0.9M33.2 594.3h0.9M33.1 594.5h0.9M33.1 595.5h0.9M33.2 596.7h0.9M33.2 597.4h0.9M32.5 599.0h0.9M32.4 599.3h0.9M32.5 600.8h0.9M33.0 601.0h0.9M32.4 601.9h0.9M33.1 602.5h0.9M33.2 603.1h0.9M33.2 603.7h0.9M32.5 605.0h0.9M32.7 605.8h0.9M32.5 607.9h0.9M33.1 608.1h0.9M33.1 608.3h0.9M33.2 609.2h0.9M32.4 610.2h0.9M32.6 609.4h0.9M32.4 609.5h0.9M32.4 610.9h0.9M32.9 611.8h0.9M32.4 612.3h0.9M32.8 612.7h0.9M32.6 612.3h0.9M32.7 612.3h0.9M33.2 614.1h0.9M32.7 613.6h0.9M33.2 613.7h0.9M32.7 614.1h0.9M33.1 613.5h0.9M32.8 615.2h0.9M33.3 614.4h0.9M32.8 614.8h0.9M32.7 614.7h0.9M32.4 614.6h0.9M32.8 614.2h0.9M32.5 615.2h0.9M33.1 615.1h0.9M33.0 615.5h0.9M33.0 615.5h0.9M32.9 616.1h0.9M33.0 615.5h0.9M33.9 588.9h0.9M33.5 588.9h0.9M33.9 589.7h0.9M33.6 590.7h0.9M33.7 592.1h0.9M33.6 591.8h0.9M34.1 592.4h0.9M33.4 593.1h0.9M33.8 592.3h0.9M33.6 594.2h0.9M34.1 593.4h0.9M33.7 593.6h0.9M33.8 595.0h0.9M34.0 595.1h0.9M33.5 595.1h0.9M33.3 595.0h0.9M33.9 594.7h0.9M34.3 594.8h0.9M33.7 595.0h0.9M34.1 595.5h0.9M33.7 595.8h0.9M33.7 595.5h0.9M34.1 596.0h0.9M33.6 596.3h0.9M33.9 596.8h0.9M33.8 599.1h0.9M33.3 598.2h0.9M33.9 598.7h0.9M34.3 599.0h0.9M33.9 599.2h0.9M33.7 599.8h0.9M33.7 600.1h0.9M34.0 599.7h0.9M33.9 601.8h0.9M34.0 603.2h0.9M33.7 602.7h0.9M34.1 602.4h0.9M33.4 604.1h0.9M34.0 604.0h0.9M34.3 604.1h0.9M33.6 604.7h0.9M33.5 605.8h0.9M34.3 606.8h0.9M34.0 608.2h0.9M33.6 609.0h0.9M33.8 609.8h0.9M33.6 609.8h0.9M33.5 611.0h0.9M33.4 610.3h0.9M33.5 610.7h0.9M34.2 610.8h0.9M34.1 611.5h0.9M34.0 611.6h0.9M34.2 612.8h0.9M33.7 612.6h0.9M34.0 613.4h0.9M33.4 614.1h0.9M34.2 613.5h0.9M34.2 614.0h0.9M33.6 613.8h0.9M33.6 615.1h0.9M33.8 615.0h0.9M33.6 614.4h0.9M33.7 614.4h0.9M34.3 614.5h0.9M33.9 614.3h0.9M33.5 616.0h0.9M33.7 615.4h0.9M33.5 615.5h0.9M35.3 584.7h0.9M35.2 588.8h0.9M34.9 589.4h0.9M34.8 590.7h0.9M35.0 591.8h0.9M34.6 591.6h0.9M35.0 593.3h0.9M34.9 593.6h0.9M34.6 594.4h0.9M34.5 594.9h0.9M34.5 595.5h0.9M34.4 595.9h0.9M35.0 595.6h0.9M34.7 595.9h0.9M35.0 595.4h0.9M34.4 597.1h0.9M35.1 596.9h0.9M34.4 596.2h0.9M34.6 597.6h0.9M35.2 599.8h0.9M35.0 599.5h0.9M34.3 601.0h0.9M35.1 600.5h0.9M34.6 602.3h0.9M35.1 602.4h0.9M35.0 603.6h0.9M35.1 604.0h0.9M35.3 604.6h0.9M34.4 605.9h0.9M34.8 605.7h0.9M35.3 605.3h0.9M35.1 605.2h0.9M35.0 606.0h0.9M35.3 606.8h0.9M34.4 607.6h0.9M34.6 608.3h0.9M34.6 609.7h0.9M34.8 610.1h0.9M34.9 610.5h0.9M35.1 610.7h0.9M35.1 610.4h0.9M34.6 611.6h0.9M34.5 611.3h0.9M34.6 611.4h0.9M35.0 611.6h0.9M34.4 611.5h0.9M34.3 613.2h0.9M35.1 612.3h0.9M35.0 613.2h0.9M34.9 613.2h0.9M35.2 613.8h0.9M35.0 614.1h0.9M35.0 613.5h0.9M35.1 615.0h0.9M34.6 614.4h0.9M34.5 616.0h0.9M34.7 615.6h0.9M34.9 615.6h0.9M35.2 615.4h0.9M34.4 615.8h0.9M35.0 616.0h0.9M35.0 616.1h0.9M35.8 585.5h0.9M35.8 586.5h0.9M35.6 588.6h0.9M35.9 588.5h0.9M35.5 588.3h0.9M36.3 590.1h0.9M36.0 590.8h0.9M35.6 590.8h0.9M36.3 590.7h0.9M36.0 590.5h0.9M35.7 591.1h0.9M35.4 592.9h0.9M35.7 592.8h0.9M35.4 593.4h0.9M36.2 593.7h0.9M35.4 594.1h0.9M35.9 594.5h0.9M35.4 595.7h0.9M35.9 595.3h0.9M35.7 595.3h0.9M36.3 596.9h0.9M35.4 597.0h0.9M35.7 596.4h0.9M36.3 596.8h0.9M36.1 596.3h0.9M35.6 597.6h0.9M35.6 599.9h0.9M36.2 601.1h0.9M35.5 600.9h0.9M35.7 601.0h0.9M36.0 601.0h0.9M35.4 602.8h0.9M35.4 602.7h0.9M36.1 602.3h0.9M35.5 603.6h0.9M36.2 603.8h0.9M35.9 607.5h0.9M36.2 608.7h0.9M36.0 609.0h0.9M35.7 609.4h0.9M35.5 611.0h0.9M36.0 610.6h0.9M35.8 610.4h0.9M35.7 611.4h0.9M36.2 611.8h0.9M35.4 611.4h0.9M35.7 611.7h0.9M35.9 612.5h0.9M35.4 612.7h0.9M36.3 612.2h0.9M35.6 613.8h0.9M35.9 614.2h0.9M36.3 613.2h0.9M35.9 614.0h0.9M36.1 614.9h0.9M35.8 614.8h0.9M35.7 614.8h0.9M35.7 614.3h0.9M35.7 614.5h0.9M36.3 614.7h0.9M35.7 614.4h0.9M35.6 614.5h0.9M35.5 614.2h0.9M36.2 614.7h0.9M35.4 615.5h0.9M35.6 615.9h0.9M35.9 616.1h0.9M36.7 586.4h0.9M36.5 587.9h0.9M37.3 587.8h0.9M36.5 589.4h0.9M36.9 590.1h0.9M36.7 590.9h0.9M37.0 590.6h0.9M36.7 591.2h0.9M37.0 591.5h0.9M36.8 592.2h0.9M37.3 592.8h0.9M36.9 593.9h0.9M36.5 594.3h0.9M36.9 595.8h0.9M36.9 595.9h0.9M36.9 595.5h0.9M37.1 597.2h0.9M36.8 596.5h0.9M36.9 597.1h0.9M36.5 596.2h0.9M36.8 596.9h0.9M37.1 597.3h0.9M36.4 597.3h0.9M36.4 597.7h0.9M37.3 598.6h0.9M37.1 600.1h0.9M37.3 602.7h0.9M37.1 603.7h0.9M37.1 604.3h0.9M37.0 604.6h0.9M36.9 605.6h0.9M36.6 606.5h0.9M36.8 606.4h0.9M36.5 607.0h0.9M37.3 607.4h0.9M37.2 609.1h0.9M36.7 609.7h0.9M37.2 609.4h0.9M37.0 609.8h0.9M37.2 610.6h0.9M37.1 611.1h0.9M36.5 611.1h0.9M36.4 612.2h0.9M36.3 612.1h0.9M36.5 612.9h0.9M36.4 612.5h0.9M37.1 613.9h0.9M36.4 613.7h0.9M36.6 613.6h0.9M36.4 613.2h0.9M37.3 613.5h0.9M36.8 614.4h0.9M37.0 614.3h0.9M37.1 614.7h0.9M36.5 616.2h0.9M37.2 615.9h0.9M36.6 615.4h0.9M36.6 615.3h0.9M37.7 584.6h0.9M37.9 587.1h0.9M37.6 588.4h0.9M38.0 590.5h0.9M38.0 590.7h0.9M37.6 591.2h0.9M38.0 592.9h0.9M37.7 592.9h0.9M37.7 592.7h0.9M37.9 592.9h0.9M37.7 592.8h0.9M38.2 593.7h0.9M38.1 593.7h0.9M37.8 593.4h0.9M37.9 595.0h0.9M37.6 594.4h0.9M38.2 594.7h0.9M37.7 596.0h0.9M38.1 595.3h0.9M37.5 595.5h0.9M37.4 595.6h0.9M37.7 597.2h0.9M38.0 596.6h0.9M37.8 597.0h0.9M37.7 597.7h0.9M37.6 597.6h0.9M37.5 598.8h0.9M37.4 598.4h0.9M37.6 600.0h0.9M37.4 599.8h0.9M37.8 601.0h0.9M37.8 601.6h0.9M38.0 601.5h0.9M37.7 602.6h0.9M37.9 603.1h0.9M38.0 604.5h0.9M37.4 605.0h0.9M37.8 606.1h0.9M37.9 606.7h0.9M37.8 608.1h0.9M37.8 607.7h0.9M37.4 608.9h0.9M37.9 609.0h0.9M38.1 608.3h0.9M37.6 608.3h0.9M37.4 610.0h0.9M38.0 610.9h0.9M38.0 611.6h0.9M37.3 613.2h0.9M37.6 612.5h0.9M37.6 612.5h0.9M38.2 612.8h0.9M37.8 612.6h0.9M37.4 612.5h0.9M37.9 613.6h0.9M37.8 613.7h0.9M37.9 613.6h0.9M38.1 613.4h0.9M38.2 613.8h0.9M37.9 614.5h0.9M37.6 615.0h0.9M37.6 614.9h0.9M37.8 615.8h0.9M37.4 616.1h0.9M37.4 615.8h0.9M37.5 616.1h0.9M37.9 616.0h0.9M37.8 615.9h0.9M39.2 585.5h0.9M38.9 587.4h0.9M39.2 588.4h0.9M38.7 589.8h0.9M38.6 589.7h0.9M38.4 589.7h0.9M39.2 590.3h0.9M39.3 591.2h0.9M39.3 590.7h0.9M39.1 591.7h0.9M39.2 592.8h0.9M38.9 592.3h0.9M39.2 594.0h0.9M38.9 595.2h0.9M38.7 595.1h0.9M38.7 595.6h0.9M39.1 596.5h0.9M38.4 596.8h0.9M39.1 597.8h0.9M38.8 598.3h0.9M38.9 599.6h0.9M38.5 601.1h0.9M38.7 601.0h0.9M38.4 602.1h0.9M38.4 601.7h0.9M38.8 602.4h0.9M38.5 603.6h0.9M38.5 603.3h0.9M39.3 605.7h0.9M39.1 605.8h0.9M39.0 605.4h0.9M38.6 606.2h0.9M39.2 607.3h0.9M38.9 607.4h0.9M38.6 608.8h0.9M39.3 608.2h0.9M38.9 608.9h0.9M39.3 609.2h0.9M39.3 609.6h0.9M38.7 609.3h0.9M38.7 610.3h0.9M38.5 610.4h0.9M38.7 611.2h0.9M39.0 612.0h0.9M39.1 611.3h0.9M39.0 611.5h0.9M38.5 612.2h0.9M39.0 611.9h0.9M38.5 612.0h0.9M39.3 612.1h0.9M39.1 612.0h0.9M39.3 613.0h0.9M38.6 613.0h0.9M38.6 612.4h0.9M38.8 612.4h0.9M38.8 613.1h0.9M39.0 612.9h0.9M38.7 613.0h0.9M39.1 612.9h0.9M39.3 613.0h0.9M38.7 612.3h0.9M38.8 613.2h0.9M38.4 614.0h0.9M38.7 613.8h0.9M38.8 613.5h0.9M38.5 613.6h0.9M39.2 613.8h0.9M39.0 614.6h0.9M39.0 615.0h0.9M39.2 615.4h0.9M38.6 616.2h0.9M40.1 583.5h0.9M39.8 586.6h0.9M40.0 587.6h0.9M40.3 587.6h0.9M40.0 587.8h0.9M40.0 589.1h0.9M40.3 589.3h0.9M40.1 591.1h0.9M40.1 590.9h0.9M39.4 590.5h0.9M39.9 591.8h0.9M39.4 591.6h0.9M40.1 591.8h0.9M39.9 592.6h0.9M40.3 592.8h0.9M39.5 593.8h0.9M40.2 594.0h0.9M39.7 593.3h0.9M39.8 594.1h0.9M39.5 593.9h0.9M39.5 593.5h0.9M39.7 595.2h0.9M39.7 595.6h0.9M39.4 595.5h0.9M39.7 595.6h0.9M40.3 595.5h0.9M40.1 596.5h0.9M39.5 597.0h0.9M39.8 596.8h0.9M40.0 597.0h0.9M39.6 597.8h0.9M39.6 598.0h0.9M39.4 598.0h0.9M39.6 598.3h0.9M39.9 599.0h0.9M40.0 598.6h0.9M39.6 599.8h0.9M40.3 600.9h0.9M39.7 600.6h0.9M40.1 600.5h0.9M39.5 601.1h0.9M40.2 601.3h0.9M39.7 601.3h0.9M40.2 602.9h0.9M39.9 603.5h0.9M40.0 605.0h0.9M39.8 605.1h0.9M40.2 604.9h0.9M40.0 605.9h0.9M39.9 605.5h0.9M39.4 605.8h0.9M39.5 606.4h0.9M39.4 609.0h0.9M39.7 608.2h0.9M40.0 608.3h0.9M39.6 608.3h0.9M40.2 609.3h0.9M39.6 609.8h0.9M39.7 609.5h0.9M40.2 611.0h0.9M39.9 610.2h0.9M40.1 610.2h0.9M40.0 611.9h0.9M39.9 611.6h0.9M39.8 612.3h0.9M39.8 612.9h0.9M40.0 612.7h0.9M39.7 612.4h0.9M39.7 612.5h0.9M39.5 612.9h0.9M39.8 612.6h0.9M39.5 612.9h0.9M39.5 612.5h0.9M39.3 614.1h0.9M40.1 613.8h0.9M39.6 613.6h0.9M39.5 613.8h0.9M40.3 613.5h0.9M39.4 613.4h0.9M39.7 614.1h0.9M40.1 613.7h0.9M39.4 613.3h0.9M39.4 614.8h0.9M39.8 614.4h0.9M39.6 614.2h0.9M40.2 614.9h0.9M40.3 615.2h0.9M39.8 614.9h0.9M39.7 615.0h0.9M40.2 614.3h0.9M39.9 615.6h0.9M40.5 585.7h0.9M41.0 586.6h0.9M40.8 588.6h0.9M41.0 589.9h0.9M40.8 589.3h0.9M40.6 591.2h0.9M40.6 590.6h0.9M40.4 592.2h0.9M41.1 591.2h0.9M40.4 591.4h0.9M41.3 591.4h0.9M40.3 593.0h0.9M40.4 593.2h0.9M41.0 592.4h0.9M41.1 592.4h0.9M40.8 592.3h0.9M41.2 593.8h0.9M41.2 593.7h0.9M40.9 593.8h0.9M40.9 594.5h0.9M40.7 594.2h0.9M41.2 596.0h0.9M40.5 596.6h0.9M40.4 597.2h0.9M41.1 598.0h0.9M41.2 597.3h0.9M40.5 598.8h0.9M41.3 599.0h0.9M40.8 602.6h0.9M40.9 602.8h0.9M41.0 604.0h0.9M40.8 604.1h0.9M40.5 604.1h0.9M40.8 603.9h0.9M40.6 603.5h0.9M40.7 603.5h0.9M41.2 606.2h0.9M41.1 605.5h0.9M40.6 605.6h0.9M40.4 605.4h0.9M41.1 607.1h0.9M41.1 606.7h0.9M40.4 607.0h0.9M40.7 607.7h0.9M40.9 608.8h0.9M40.5 609.5h0.9M41.2 609.2h0.9M40.6 609.9h0.9M41.3 609.4h0.9M40.8 609.9h0.9M41.0 609.9h0.9M40.4 610.9h0.9M40.5 610.5h0.9M40.4 611.3h0.9M40.3 611.6h0.9M40.5 611.3h0.9M40.8 612.2h0.9M41.0 611.5h0.9M41.1 611.4h0.9M40.8 612.9h0.9M40.4 613.1h0.9M40.7 613.0h0.9M41.2 614.0h0.9M41.0 613.5h0.9M41.2 614.4h0.9M40.4 616.2h0.9M40.7 615.9h0.9M40.9 615.4h0.9M40.4 615.2h0.9M42.2 588.3h0.9M41.4 589.6h0.9M41.4 589.7h0.9M41.4 590.7h0.9M41.8 591.3h0.9M41.8 593.1h0.9M41.6 593.9h0.9M41.6 594.4h0.9M42.2 594.4h0.9M41.4 594.5h0.9M42.3 594.7h0.9M42.1 594.3h0.9M41.8 594.5h0.9M42.3 595.7h0.9M41.5 595.2h0.9M42.0 595.7h0.9M41.8 597.8h0.9M42.0 597.3h0.9M42.1 598.1h0.9M41.6 598.8h0.9M42.2 598.3h0.9M41.5 598.2h0.9M41.8 598.3h0.9M42.3 599.6h0.9M42.0 599.2h0.9M41.8 601.1h0.9M41.8 601.2h0.9M42.2 601.4h0.9M42.3 602.5h0.9M41.7 602.5h0.9M41.7 603.4h0.9M41.9 604.5h0.9M42.0 605.3h0.9M42.3 606.3h0.9M41.6 608.4h0.9M41.9 608.7h0.9M41.7 609.1h0.9M41.4 610.1h0.9M41.4 609.2h0.9M41.6 609.5h0.9M42.3 610.1h0.9M41.8 609.7h0.9M41.6 610.9h0.9M41.9 611.0h0.9M42.2 611.2h0.9M41.5 610.3h0.9M41.6 611.6h0.9M41.9 611.9h0.9M41.4 611.9h0.9M42.0 611.7h0.9M41.8 612.9h0.9M42.0 612.8h0.9M41.7 614.2h0.9M42.2 613.4h0.9M42.1 613.6h0.9M42.0 614.0h0.9M41.5 613.4h0.9M41.5 613.5h0.9M41.7 614.6h0.9M42.0 615.6h0.9M41.5 615.7h0.9M41.3 615.9h0.9M41.5 615.6h0.9M42.4 586.2h0.9M42.6 588.5h0.9M42.4 590.1h0.9M43.3 589.3h0.9M42.7 590.7h0.9M42.6 590.3h0.9M43.0 592.9h0.9M42.5 594.1h0.9M42.9 593.3h0.9M42.5 593.9h0.9M42.7 593.9h0.9M42.9 594.4h0.9M43.0 595.0h0.9M43.1 594.4h0.9M42.5 595.8h0.9M42.4 595.8h0.9M42.6 595.5h0.9M43.1 596.4h0.9M42.6 596.8h0.9M43.0 596.8h0.9M43.0 597.5h0.9M42.5 597.4h0.9M43.1 598.3h0.9M42.9 598.3h0.9M42.4 598.7h0.9M42.5 599.1h0.9M43.2 598.7h0.9M42.5 598.3h0.9M43.0 599.7h0.9M43.1 599.3h0.9M42.6 601.9h0.9M43.0 604.0h0.9M43.3 605.1h0.9M42.8 605.8h0.9M43.3 607.1h0.9M42.4 609.0h0.9M43.1 608.6h0.9M43.3 610.3h0.9M42.4 611.3h0.9M42.5 611.7h0.9M42.7 612.3h0.9M42.6 613.2h0.9M42.4 612.5h0.9M43.1 613.1h0.9M42.5 614.2h0.9M42.4 614.0h0.9M42.7 613.4h0.9M42.6 613.7h0.9M43.3 613.3h0.9M43.2 613.5h0.9M42.5 613.9h0.9M42.7 613.4h0.9M43.1 614.8h0.9M43.2 615.2h0.9M42.7 615.0h0.9M43.1 614.5h0.9M42.6 616.1h0.9M42.7 615.8h0.9M43.2 616.0h0.9M42.6 616.1h0.9M44.3 583.9h0.9M44.2 585.7h0.9M43.7 588.4h0.9M43.4 588.5h0.9M43.4 589.0h0.9M44.1 593.2h0.9M43.6 592.8h0.9M44.2 592.7h0.9M43.9 594.0h0.9M43.8 593.7h0.9M43.7 594.1h0.9M44.0 593.4h0.9M43.7 593.6h0.9M43.9 594.6h0.9M44.0 594.6h0.9M43.4 594.7h0.9M44.2 595.0h0.9M44.2 596.2h0.9M43.8 595.6h0.9M44.0 596.1h0.9M43.5 595.5h0.9M43.8 596.9h0.9M43.5 597.2h0.9M44.3 596.8h0.9M44.2 597.6h0.9M44.3 597.4h0.9M43.4 597.7h0.9M44.2 598.1h0.9M44.0 599.0h0.9M43.8 598.8h0.9M43.6 598.5h0.9M43.8 598.7h0.9M43.3 599.5h0.9M43.6 600.7h0.9M43.5 600.8h0.9M43.9 601.9h0.9M44.2 603.1h0.9M43.4 603.1h0.9M43.8 602.3h0.9M43.8 604.8h0.9M44.3 604.5h0.9M43.5 605.4h0.9M43.5 606.4h0.9M43.4 606.4h0.9M43.5 607.7h0.9M43.5 608.8h0.9M43.5 608.4h0.9M43.4 608.9h0.9M44.3 608.6h0.9M44.0 609.6h0.9M43.5 610.1h0.9M44.2 610.9h0.9M43.6 611.8h0.9M44.0 611.9h0.9M44.3 611.3h0.9M43.7 612.1h0.9M43.4 613.1h0.9M44.1 612.2h0.9M43.7 612.7h0.9M43.8 612.6h0.9M44.2 612.5h0.9M43.9 613.1h0.9M44.0 612.7h0.9M43.7 613.6h0.9M44.2 613.7h0.9M43.6 613.5h0.9M44.2 613.4h0.9M44.0 613.2h0.9M43.6 614.3h0.9M43.6 614.9h0.9M44.1 615.1h0.9M44.1 616.1h0.9M43.7 615.3h0.9M44.2 616.0h0.9M43.9 616.2h0.9M43.4 615.3h0.9M43.5 615.2h0.9M44.5 581.4h0.9M44.5 581.6h0.9M44.8 586.0h0.9M45.2 586.8h0.9M44.9 588.3h0.9M44.5 588.6h0.9M45.0 588.2h0.9M45.1 589.6h0.9M45.0 589.8h0.9M45.1 589.6h0.9M44.6 591.1h0.9M45.1 591.0h0.9M45.2 591.2h0.9M45.0 590.5h0.9M45.1 590.5h0.9M44.8 591.5h0.9M45.3 591.3h0.9M45.2 592.8h0.9M44.8 593.1h0.9M44.4 593.0h0.9M44.4 592.5h0.9M44.6 593.9h0.9M45.0 593.3h0.9M44.8 593.9h0.9M45.2 595.1h0.9M45.3 594.6h0.9M44.9 595.0h0.9M45.1 595.3h0.9M45.0 595.3h0.9M45.3 595.7h0.9M45.1 595.3h0.9M45.0 595.6h0.9M44.6 596.0h0.9M45.2 598.1h0.9M44.7 600.1h0.9M44.5 599.3h0.9M45.1 599.3h0.9M44.7 600.4h0.9M45.2 601.4h0.9M45.2 601.8h0.9M45.3 602.0h0.9M44.4 603.1h0.9M45.1 602.9h0.9M45.1 602.4h0.9M45.0 603.8h0.9M44.7 603.4h0.9M44.5 603.7h0.9M44.8 603.5h0.9M45.1 604.8h0.9M44.9 607.2h0.9M44.7 606.7h0.9M44.6 606.2h0.9M44.5 606.3h0.9M44.9 608.1h0.9M44.9 609.1h0.9M45.0 608.6h0.9M44.9 608.5h0.9M44.3 609.8h0.9M44.5 609.7h0.9M44.4 610.0h0.9M44.4 610.6h0.9M45.3 610.5h0.9M44.9 610.2h0.9M44.7 611.1h0.9M44.9 611.0h0.9M44.3 610.4h0.9M45.3 611.5h0.9M45.2 611.7h0.9M45.2 613.2h0.9M44.4 612.9h0.9M44.6 612.3h0.9M44.7 612.9h0.9M45.2 613.5h0.9M44.5 613.4h0.9M44.5 613.8h0.9M45.1 613.4h0.9M44.8 613.8h0.9M44.9 613.6h0.9M44.9 613.2h0.9M44.4 613.6h0.9M44.4 614.7h0.9M44.7 614.5h0.9M45.1 614.4h0.9M45.0 615.0h0.9M44.4 615.5h0.9M44.4 615.8h0.9M44.8 615.5h0.9M44.8 616.1h0.9M44.6 615.4h0.9M45.5 584.9h0.9M46.2 586.2h0.9M45.4 588.9h0.9M46.0 589.4h0.9M45.7 589.9h0.9M45.4 590.7h0.9M45.8 591.7h0.9M45.5 591.9h0.9M45.5 592.7h0.9M45.5 592.9h0.9M46.0 592.8h0.9M46.3 592.2h0.9M46.0 593.0h0.9M45.4 593.8h0.9M46.3 594.6h0.9M45.3 594.3h0.9M46.1 595.1h0.9M46.0 594.4h0.9M46.2 594.9h0.9M45.3 595.2h0.9M45.7 596.1h0.9M45.5 596.7h0.9M45.8 596.5h0.9M45.7 596.7h0.9M45.9 596.4h0.9M45.6 596.7h0.9M45.8 596.6h0.9M46.0 596.4h0.9M45.9 596.5h0.9M46.1 596.9h0.9M45.7 597.5h0.9M45.7 597.9h0.9M46.1 597.7h0.9M46.1 597.4h0.9M45.7 599.0h0.9M46.1 598.4h0.9M46.0 599.8h0.9M46.0 599.5h0.9M46.3 601.7h0.9M45.7 602.3h0.9M46.1 602.9h0.9M45.8 602.6h0.9M46.2 604.6h0.9M45.8 604.5h0.9M46.3 604.4h0.9M45.7 607.1h0.9M46.2 606.6h0.9M46.2 608.6h0.9M45.7 608.8h0.9M45.7 609.6h0.9M45.5 611.2h0.9M46.0 611.8h0.9M45.6 611.4h0.9M46.2 612.1h0.9M45.4 612.5h0.9M46.0 612.8h0.9M45.8 612.3h0.9M46.2 613.3h0.9M46.3 613.4h0.9M46.2 613.4h0.9M46.1 615.0h0.9M45.6 615.0h0.9M45.6 615.8h0.9M46.1 616.0h0.9M45.9 615.6h0.9M46.8 585.7h0.9M47.2 587.6h0.9M46.9 588.5h0.9M47.0 590.7h0.9M46.7 590.5h0.9M46.7 591.4h0.9M47.0 591.9h0.9M46.8 591.6h0.9M46.6 592.0h0.9M46.5 593.2h0.9M47.0 592.9h0.9M46.8 592.7h0.9M46.5 592.4h0.9M46.9 593.4h0.9M46.8 593.5h0.9M46.9 593.3h0.9M46.8 593.8h0.9M46.9 594.8h0.9M47.1 594.8h0.9M46.8 596.2h0.9M47.2 595.9h0.9M46.4 595.8h0.9M46.4 596.1h0.9M47.3 595.9h0.9M47.2 596.7h0.9M46.3 597.1h0.9M47.2 597.5h0.9M46.4 597.5h0.9M46.4 597.3h0.9M47.0 597.3h0.9M46.5 597.5h0.9M47.1 598.5h0.9M47.3 599.0h0.9M47.1 598.4h0.9M46.4 599.1h0.9M46.9 598.8h0.9M47.0 599.7h0.9M47.3 600.5h0.9M47.1 601.0h0.9M46.7 601.4h0.9M46.8 603.2h0.9M47.1 603.9h0.9M46.7 604.9h0.9M47.0 604.6h0.9M47.2 605.7h0.9M47.1 606.6h0.9M47.1 606.3h0.9M46.8 607.6h0.9M46.8 608.2h0.9M46.9 609.8h0.9M46.5 610.0h0.9M46.6 610.1h0.9M46.4 610.6h0.9M46.8 610.3h0.9M46.6 611.1h0.9M46.7 610.3h0.9M46.5 610.8h0.9M46.5 610.7h0.9M47.3 611.4h0.9M46.4 612.0h0.9M46.9 611.7h0.9M46.5 612.0h0.9M47.0 612.6h0.9M46.8 612.3h0.9M47.0 612.9h0.9M47.2 614.1h0.9M46.4 613.4h0.9M46.4 613.5h0.9M46.6 614.7h0.9M46.7 615.0h0.9M46.3 615.5h0.9M46.4 615.9h0.9M48.0 586.8h0.9M47.6 587.8h0.9M47.7 589.1h0.9M48.0 589.8h0.9M47.6 590.9h0.9M48.1 590.4h0.9M47.8 591.5h0.9M47.9 591.5h0.9M47.5 591.9h0.9M48.1 592.3h0.9M48.1 592.3h0.9M48.3 592.2h0.9M47.8 593.6h0.9M47.5 593.7h0.9M47.6 594.2h0.9M48.0 595.0h0.9M47.7 595.0h0.9M47.6 594.3h0.9M47.4 594.6h0.9M47.5 595.7h0.9M47.8 596.1h0.9M48.2 595.4h0.9M47.9 595.6h0.9M47.4 598.1h0.9M47.4 597.5h0.9M48.0 597.2h0.9M47.7 597.3h0.9M47.5 598.4h0.9M48.2 602.6h0.9M48.1 605.3h0.9M48.2 606.3h0.9M47.4 606.9h0.9M47.8 607.4h0.9M47.8 607.5h0.9M47.6 608.8h0.9M47.4 610.7h0.9M47.8 610.9h0.9M48.3 612.1h0.9M48.3 612.1h0.9M47.6 612.0h0.9M47.4 613.1h0.9M47.5 612.5h0.9M47.9 612.4h0.9M47.8 612.9h0.9M47.4 612.9h0.9M47.4 613.4h0.9M48.3 613.6h0.9M47.8 613.6h0.9M48.3 615.2h0.9M48.1 615.2h0.9M47.8 615.0h0.9M47.6 614.9h0.9M48.0 615.1h0.9M48.2 615.1h0.9M47.7 616.0h0.9M48.2 616.0h0.9M48.0 615.4h0.9M48.3 586.2h0.9M48.6 591.2h0.9M48.7 591.2h0.9M49.2 590.3h0.9M49.0 592.0h0.9M48.9 592.5h0.9M48.7 592.4h0.9M49.0 592.8h0.9M49.3 593.6h0.9M48.4 593.5h0.9M49.0 594.1h0.9M49.0 593.9h0.9M49.3 594.0h0.9M48.8 593.7h0.9M48.9 595.0h0.9M48.6 594.9h0.9M48.8 595.5h0.9M49.3 596.2h0.9M49.3 596.4h0.9M48.4 596.7h0.9M48.3 596.7h0.9M48.6 597.5h0.9M48.8 597.6h0.9M49.0 597.7h0.9M48.7 597.8h0.9M49.3 597.4h0.9M48.4 598.3h0.9M48.9 599.2h0.9M48.7 599.5h0.9M49.0 599.3h0.9M48.9 599.6h0.9M48.8 599.6h0.9M48.9 602.1h0.9M49.3 602.0h0.9M48.4 602.1h0.9M49.3 603.0h0.9M48.9 603.6h0.9M48.9 606.1h0.9M48.9 606.1h0.9M48.8 606.8h0.9M49.1 607.2h0.9M48.9 607.9h0.9M49.3 607.2h0.9M49.1 608.2h0.9M49.0 609.0h0.9M48.6 609.9h0.9M49.3 611.0h0.9M49.3 610.4h0.9M48.8 610.6h0.9M48.9 612.0h0.9M49.3 611.2h0.9M49.2 612.6h0.9M48.9 613.1h0.9M48.4 612.5h0.9M48.6 613.9h0.9M48.5 615.0h0.9M49.2 614.4h0.9M49.3 615.0h0.9M49.2 616.0h0.9M50.0 585.9h0.9M49.5 586.0h0.9M49.4 586.5h0.9M50.1 587.4h0.9M49.4 590.0h0.9M49.4 589.9h0.9M49.8 591.2h0.9M49.7 591.4h0.9M50.1 591.9h0.9M49.7 592.5h0.9M49.6 592.9h0.9M49.5 592.5h0.9M50.3 594.1h0.9M49.8 593.8h0.9M50.2 593.5h0.9M49.6 593.3h0.9M50.3 594.7h0.9M49.7 595.0h0.9M50.2 594.6h0.9M49.6 595.7h0.9M49.6 595.6h0.9M49.8 596.1h0.9M50.2 596.1h0.9M50.2 596.6h0.9M50.3 596.2h0.9M50.2 597.0h0.9M49.7 597.0h0.9M49.5 598.0h0.9M50.1 597.3h0.9M50.3 597.4h0.9M50.2 599.1h0.9M50.0 598.6h0.9M50.3 601.6h0.9M49.7 601.6h0.9M49.6 603.5h0.9M49.8 603.6h0.9M50.3 603.8h0.9M50.1 607.6h0.9M49.9 607.7h0.9M49.4 607.3h0.9M50.2 609.0h0.9M49.6 608.3h0.9M49.4 609.7h0.9M49.4 609.9h0.9M49.6 610.4h0.9M49.5 611.0h0.9M50.0 611.6h0.9M49.9 611.4h0.9M50.3 611.9h0.9M49.9 611.8h0.9M49.6 613.0h0.9M50.0 614.5h0.9M50.1 614.5h0.9M50.1 614.8h0.9M50.1 615.2h0.9M49.7 615.2h0.9M51.0 584.6h0.9M50.9 585.8h0.9M51.1 585.4h0.9M50.5 589.9h0.9M50.4 590.0h0.9M50.6 590.7h0.9M51.1 591.9h0.9M50.9 591.5h0.9M51.3 592.2h0.9M50.8 594.1h0.9M50.4 594.0h0.9M51.2 594.5h0.9M50.7 595.3h0.9M50.9 596.6h0.9M51.2 598.0h0.9M50.9 597.7h0.9M50.7 597.3h0.9M51.2 597.8h0.9M51.0 599.4h0.9M50.9 600.0h0.9M51.0 600.4h0.9M51.0 601.2h0.9M50.6 601.3h0.9M50.5 601.7h0.9M51.0 604.1h0.9M50.7 607.2h0.9M50.7 607.2h0.9M51.2 606.4h0.9M51.2 608.0h0.9M51.1 607.8h0.9M51.1 609.9h0.9M51.1 610.2h0.9M51.3 610.6h0.9M50.4 611.7h0.9M50.4 612.1h0.9M51.0 611.6h0.9M51.3 612.1h0.9M51.1 612.8h0.9M50.3 613.1h0.9M51.3 613.5h0.9M50.4 613.3h0.9M51.3 613.9h0.9M50.5 613.3h0.9M51.3 614.2h0.9M50.7 614.3h0.9M51.3 614.3h0.9M51.3 615.0h0.9M51.0 615.7h0.9M51.3 582.5h0.9M52.1 588.0h0.9M51.6 587.9h0.9M51.5 587.8h0.9M51.7 589.0h0.9M52.1 589.2h0.9M52.1 590.9h0.9M52.0 591.8h0.9M51.8 592.0h0.9M51.9 591.3h0.9M51.8 591.6h0.9M51.8 591.8h0.9M51.7 593.2h0.9M51.4 592.2h0.9M51.6 593.2h0.9M52.2 594.1h0.9M51.6 593.7h0.9M51.7 593.3h0.9M52.1 594.7h0.9M51.7 594.4h0.9M52.1 595.1h0.9M52.2 594.3h0.9M51.4 595.9h0.9M51.4 596.0h0.9M52.0 595.7h0.9M52.2 596.1h0.9M51.8 596.4h0.9M52.3 596.9h0.9M51.7 597.8h0.9M52.1 598.5h0.9M52.3 599.2h0.9M51.7 598.8h0.9M51.7 600.2h0.9M51.5 600.8h0.9M52.2 602.7h0.9M52.1 604.4h0.9M51.5 606.3h0.9M51.5 606.5h0.9M51.8 607.6h0.9M52.1 608.1h0.9M52.3 608.7h0.9M52.0 608.6h0.9M52.2 609.6h0.9M51.5 610.5h0.9M52.0 610.7h0.9M51.3 610.9h0.9M51.6 611.4h0.9M51.6 612.5h0.9M51.7 613.0h0.9M52.1 612.9h0.9M51.5 613.5h0.9M51.9 614.0h0.9M51.9 613.6h0.9M52.3 614.5h0.9M52.2 614.3h0.9M52.0 614.6h0.9M52.2 614.5h0.9M52.1 616.2h0.9M52.5 585.4h0.9M52.9 586.9h0.9M53.2 587.2h0.9M52.6 587.3h0.9M52.6 589.1h0.9M53.0 588.3h0.9M53.0 589.5h0.9M52.5 589.4h0.9M52.7 589.3h0.9M52.7 591.0h0.9M52.4 590.5h0.9M52.6 591.3h0.9M53.2 591.5h0.9M52.7 591.7h0.9M52.4 591.9h0.9M53.1 592.0h0.9M53.2 591.5h0.9M52.5 592.0h0.9M53.2 592.7h0.9M53.1 592.5h0.9M52.7 592.7h0.9M53.1 593.8h0.9M52.7 593.5h0.9M53.2 594.0h0.9M52.6 593.3h0.9M52.5 594.2h0.9M52.4 596.1h0.9M52.4 595.3h0.9M53.0 595.8h0.9M53.1 595.9h0.9M53.3 595.3h0.9M52.9 598.0h0.9M52.5 597.7h0.9M53.3 599.0h0.9M53.0 598.5h0.9M53.1 598.7h0.9M53.1 598.6h0.9M53.1 599.7h0.9M53.3 599.2h0.9M53.2 599.9h0.9M52.7 600.9h0.9M53.2 600.6h0.9M52.5 601.3h0.9M52.9 601.5h0.9M53.2 604.0h0.9M52.6 604.8h0.9M53.2 605.3h0.9M52.5 605.5h0.9M52.5 605.6h0.9M52.6 606.2h0.9M52.6 606.3h0.9M52.9 606.5h0.9M52.6 607.9h0.9M53.0 607.9h0.9M52.6 608.2h0.9M53.2 610.1h0.9M53.2 610.0h0.9M52.6 610.9h0.9M52.7 611.5h0.9M52.9 611.3h0.9M52.5 613.2h0.9M52.9 613.0h0.9M52.4 612.7h0.9M53.1 613.2h0.9M53.3 613.7h0.9M53.3 613.5h0.9M52.9 616.1h0.9M53.3 616.1h0.9M52.6 616.0h0.9M54.1 584.2h0.9M54.3 583.7h0.9M54.0 586.0h0.9M53.7 585.8h0.9M54.2 586.2h0.9M53.5 588.1h0.9M53.7 588.8h0.9M53.4 589.9h0.9M53.3 592.0h0.9M53.9 591.6h0.9M53.3 591.6h0.9M53.6 591.8h0.9M54.0 592.3h0.9M53.6 592.6h0.9M53.5 593.6h0.9M54.0 593.5h0.9M54.1 593.4h0.9M54.2 594.3h0.9M54.1 594.9h0.9M53.9 596.0h0.9M53.5 596.7h0.9M53.9 597.1h0.9M54.3 596.8h0.9M53.7 596.4h0.9M54.3 597.6h0.9M54.3 597.6h0.9M54.0 598.1h0.9M54.3 598.3h0.9M54.1 599.8h0.9M53.4 600.2h0.9M53.8 600.2h0.9M54.2 601.6h0.9M54.3 601.6h0.9M54.1 602.2h0.9M53.6 602.5h0.9M53.6 603.8h0.9M54.1 603.3h0.9M53.9 604.6h0.9M54.0 605.3h0.9M53.4 606.0h0.9M54.0 605.8h0.9M53.6 605.5h0.9M53.7 606.5h0.9M53.4 607.2h0.9M53.7 607.3h0.9M54.1 608.0h0.9M53.3 608.3h0.9M54.2 609.0h0.9M54.2 609.3h0.9M54.3 610.6h0.9M54.1 611.4h0.9M53.7 611.5h0.9M54.3 611.3h0.9M53.8 611.3h0.9M54.3 611.7h0.9M54.0 611.7h0.9M54.1 611.5h0.9M54.2 612.9h0.9M53.9 612.6h0.9M53.9 612.3h0.9M53.4 612.5h0.9M54.0 613.9h0.9M53.6 614.8h0.9M53.7 614.5h0.9M53.5 615.1h0.9M54.0 615.1h0.9M53.8 615.3h0.9M54.6 585.6h0.9M54.7 589.6h0.9M55.2 590.9h0.9M54.6 592.1h0.9M55.2 592.3h0.9M54.8 592.8h0.9M54.9 593.9h0.9M54.3 595.0h0.9M55.2 595.1h0.9M54.4 595.0h0.9M55.2 596.0h0.9M55.2 595.6h0.9M54.7 596.3h0.9M55.1 596.4h0.9M54.5 596.5h0.9M55.0 596.8h0.9M54.9 597.4h0.9M54.6 597.3h0.9M54.4 597.6h0.9M54.5 598.8h0.9M54.9 598.2h0.9M55.1 600.4h0.9M54.9 600.7h0.9M54.8 601.7h0.9M55.2 602.2h0.9M55.3 603.2h0.9M55.1 602.4h0.9M54.9 602.6h0.9M55.0 604.7h0.9M55.1 606.2h0.9M55.0 606.7h0.9M55.3 606.6h0.9M54.8 607.7h0.9M54.8 608.3h0.9M54.9 610.6h0.9M54.5 610.2h0.9M54.6 611.9h0.9M54.8 612.0h0.9M54.3 611.3h0.9M54.7 612.6h0.9M54.7 613.2h0.9M55.3 613.7h0.9M54.9 613.3h0.9M55.1 613.6h0.9M55.0 613.5h0.9M55.2 613.6h0.9M54.6 614.7h0.9M55.3 614.3h0.9M54.7 616.0h0.9M55.0 616.0h0.9M56.2 588.2h0.9M55.9 587.3h0.9M56.2 587.4h0.9M55.8 590.3h0.9M56.0 590.7h0.9M55.7 591.6h0.9M55.6 591.9h0.9M56.2 591.3h0.9M55.8 592.2h0.9M56.2 591.7h0.9M55.8 593.0h0.9M56.3 593.2h0.9M56.1 594.6h0.9M55.4 595.3h0.9M55.4 595.6h0.9M56.3 595.6h0.9M55.8 596.7h0.9M56.2 598.9h0.9M55.5 598.3h0.9M56.3 601.2h0.9M56.1 602.0h0.9M55.4 602.4h0.9M55.5 602.8h0.9M55.3 604.2h0.9M55.6 603.5h0.9M56.1 605.1h0.9M55.3 605.8h0.9M55.4 606.4h0.9M56.0 606.3h0.9M55.9 608.6h0.9M55.9 610.1h0.9M55.7 609.6h0.9M55.9 610.5h0.9M55.8 610.9h0.9M55.4 610.7h0.9M56.0 611.5h0.9M55.6 611.7h0.9M55.9 611.4h0.9M56.2 613.1h0.9M56.3 612.4h0.9M55.4 612.8h0.9M56.0 614.4h0.9M55.7 615.0h0.9M56.0 614.8h0.9M55.6 615.2h0.9M56.4 584.9h0.9M56.9 584.9h0.9M56.8 586.0h0.9M56.5 587.1h0.9M57.0 588.1h0.9M56.8 589.0h0.9M56.7 588.3h0.9M57.2 588.9h0.9M56.9 591.4h0.9M56.7 591.3h0.9M56.8 591.2h0.9M57.0 591.8h0.9M57.2 592.7h0.9M57.3 592.7h0.9M56.5 594.2h0.9M57.0 594.7h0.9M56.6 594.6h0.9M57.0 594.4h0.9M56.5 594.7h0.9M56.6 596.2h0.9M56.4 596.7h0.9M57.2 597.0h0.9M56.5 598.9h0.9M56.5 598.5h0.9M57.2 598.8h0.9M56.8 598.9h0.9M56.4 599.6h0.9M56.4 600.2h0.9M57.2 600.5h0.9M57.1 600.9h0.9M57.2 601.7h0.9M57.1 602.0h0.9M56.4 604.1h0.9M56.9 605.1h0.9M56.9 606.7h0.9M57.3 609.5h0.9M56.8 609.3h0.9M56.7 609.3h0.9M56.6 611.1h0.9M56.4 611.0h0.9M57.2 610.3h0.9M56.9 611.7h0.9M57.2 612.1h0.9M56.7 611.2h0.9M56.4 613.1h0.9M56.7 612.7h0.9M57.3 612.4h0.9M56.9 613.9h0.9M57.1 615.1h0.9M57.0 614.7h0.9M57.2 615.0h0.9M56.7 615.5h0.9M57.2 616.0h0.9M57.9 581.7h0.9M57.8 584.3h0.9M58.2 585.2h0.9M57.6 586.6h0.9M57.7 587.7h0.9M57.6 588.2h0.9M57.4 590.9h0.9M57.7 591.1h0.9M57.6 591.7h0.9M58.0 592.5h0.9M57.8 592.8h0.9M57.4 593.3h0.9M57.5 593.4h0.9M58.0 593.5h0.9M57.5 594.3h0.9M58.0 594.8h0.9M57.9 595.9h0.9M57.8 595.3h0.9M57.7 596.1h0.9M58.1 597.1h0.9M57.7 596.6h0.9M57.5 597.9h0.9M57.8 598.2h0.9M57.5 599.2h0.9M58.2 598.8h0.9M57.9 598.6h0.9M57.8 598.3h0.9M57.5 600.1h0.9M57.9 600.5h0.9M58.2 600.4h0.9M57.4 601.7h0.9M57.9 602.0h0.9M58.0 605.2h0.9M57.8 608.1h0.9M57.7 607.8h0.9M57.4 609.1h0.9M57.6 609.4h0.9M57.5 610.2h0.9M58.1 610.4h0.9M57.9 610.2h0.9M57.4 610.4h0.9M57.3 612.2h0.9M57.8 612.1h0.9M57.4 612.0h0.9M57.8 611.4h0.9M57.9 612.4h0.9M57.9 613.9h0.9M58.3 613.5h0.9M57.6 615.1h0.9M58.3 615.1h0.9M57.7 615.0h0.9M58.0 615.0h0.9M58.1 614.7h0.9M58.2 615.2h0.9M57.3 615.7h0.9M57.4 616.0h0.9M58.9 583.6h0.9M58.4 583.3h0.9M59.2 584.4h0.9M59.2 585.4h0.9M58.7 585.7h0.9M58.6 587.1h0.9M58.6 587.7h0.9M58.8 588.2h0.9M59.3 588.5h0.9M58.4 589.4h0.9M58.5 590.1h0.9M58.6 590.7h0.9M59.2 591.6h0.9M58.8 592.8h0.9M58.4 592.7h0.9M58.5 593.4h0.9M59.0 594.0h0.9M58.4 593.6h0.9M58.6 593.7h0.9M58.9 594.6h0.9M58.8 594.7h0.9M59.0 594.4h0.9M59.2 594.4h0.9M59.3 595.4h0.9M58.4 596.0h0.9M58.5 596.0h0.9M58.3 595.3h0.9M58.7 595.3h0.9M59.3 597.0h0.9M58.5 597.1h0.9M59.2 596.8h0.9M58.7 597.4h0.9M58.7 599.0h0.9M59.2 599.7h0.9M59.0 599.4h0.9M58.9 600.3h0.9M58.6 601.0h0.9M58.7 602.7h0.9M58.8 602.9h0.9M58.9 604.5h0.9M59.1 607.5h0.9M58.9 607.2h0.9M58.8 608.7h0.9M59.0 608.5h0.9M59.1 610.1h0.9M58.6 609.9h0.9M59.2 610.4h0.9M59.1 610.9h0.9M59.0 611.6h0.9M58.8 611.7h0.9M58.5 611.5h0.9M59.2 612.0h0.9M59.0 611.9h0.9M58.8 611.8h0.9M58.8 613.2h0.9M58.4 613.5h0.9M59.1 615.0h0.9M58.8 616.2h0.9M58.9 615.9h0.9M58.4 615.2h0.9M59.5 585.4h0.9M59.4 586.6h0.9M60.1 589.0h0.9M60.3 589.8h0.9M60.3 590.5h0.9M59.8 590.5h0.9M60.3 591.9h0.9M59.8 592.0h0.9M59.4 591.8h0.9M59.8 592.5h0.9M59.9 592.6h0.9M59.8 592.7h0.9M59.5 593.3h0.9M60.2 594.1h0.9M59.5 593.6h0.9M59.6 594.7h0.9M59.3 594.5h0.9M59.8 594.9h0.9M59.5 594.3h0.9M59.7 594.3h0.9M60.1 596.1h0.9M59.4 597.2h0.9M60.3 597.4h0.9M60.2 598.0h0.9M59.4 597.3h0.9M60.0 598.9h0.9M59.5 600.1h0.9M60.2 601.0h0.9M59.8 600.8h0.9M59.8 601.0h0.9M59.8 601.4h0.9M59.5 603.7h0.9M59.9 603.8h0.9M60.0 605.1h0.9M59.4 605.5h0.9M59.6 605.6h0.9M60.3 606.9h0.9M60.3 607.4h0.9M60.2 609.0h0.9M59.6 608.3h0.9M59.8 609.9h0.9M60.2 610.1h0.9M59.7 610.2h0.9M59.5 611.7h0.9M60.0 613.5h0.9M59.4 614.0h0.9M60.0 614.3h0.9M60.3 614.9h0.9M59.9 614.3h0.9M60.3 615.3h0.9M60.6 581.2h0.9M61.1 584.7h0.9M60.4 585.3h0.9M61.1 586.4h0.9M61.1 589.2h0.9M60.8 589.5h0.9M60.4 590.8h0.9M61.0 590.2h0.9M61.2 591.1h0.9M61.3 591.8h0.9M60.8 592.0h0.9M60.9 592.6h0.9M60.6 593.9h0.9M61.2 593.7h0.9M61.1 595.0h0.9M60.7 594.4h0.9M60.9 595.6h0.9M61.2 595.9h0.9M61.1 595.8h0.9M61.1 595.3h0.9M60.4 596.9h0.9M61.1 596.9h0.9M60.6 596.7h0.9M61.1 597.2h0.9M61.0 597.7h0.9M60.4 597.6h0.9M60.8 599.0h0.9M60.4 599.1h0.9M60.5 599.4h0.9M60.7 599.9h0.9M61.0 600.2h0.9M60.7 600.2h0.9M60.5 601.0h0.9M60.4 603.3h0.9M60.4 604.7h0.9M60.5 606.3h0.9M60.9 607.6h0.9M61.3 607.9h0.9M60.9 607.5h0.9M60.7 608.8h0.9M60.8 611.0h0.9M61.1 610.9h0.9M60.9 611.2h0.9M60.5 611.4h0.9M61.2 612.3h0.9M61.3 613.1h0.9M61.1 613.8h0.9M61.1 613.3h0.9M60.4 613.7h0.9M60.9 613.9h0.9M60.5 613.8h0.9M60.8 614.6h0.9M60.8 614.3h0.9M60.4 614.5h0.9M60.5 615.1h0.9M61.0 615.6h0.9M60.6 615.8h0.9M60.6 616.0h0.9M60.4 615.8h0.9M62.0 581.7h0.9M61.8 586.3h0.9M61.9 586.4h0.9M62.0 588.8h0.9M61.8 588.6h0.9M61.7 591.2h0.9M61.8 592.0h0.9M61.4 591.4h0.9M61.3 591.7h0.9M61.8 592.2h0.9M62.1 592.7h0.9M61.5 593.1h0.9M61.4 592.4h0.9M61.6 594.0h0.9M61.7 594.1h0.9M62.2 595.3h0.9M61.8 596.4h0.9M61.5 596.4h0.9M62.1 596.8h0.9M61.5 596.5h0.9M61.6 598.4h0.9M62.0 598.8h0.9M61.8 599.0h0.9M61.9 598.5h0.9M62.0 599.1h0.9M62.1 600.6h0.9M61.9 602.2h0.9M62.1 601.5h0.9M61.4 602.1h0.9M62.1 603.8h0.9M61.6 603.3h0.9M62.1 603.7h0.9M61.5 603.8h0.9M61.8 606.7h0.9M61.8 606.6h0.9M62.1 607.1h0.9M61.3 608.9h0.9M61.7 610.0h0.9M62.2 609.3h0.9M62.2 609.6h0.9M61.9 610.7h0.9M62.0 611.9h0.9M61.5 612.2h0.9M61.9 612.7h0.9M61.6 612.7h0.9M62.0 615.7h0.9M61.9 616.0h0.9M62.7 583.8h0.9M63.0 585.1h0.9M63.2 586.5h0.9M63.3 588.7h0.9M63.1 588.6h0.9M63.3 590.8h0.9M62.8 590.2h0.9M63.0 591.4h0.9M62.9 592.9h0.9M63.0 593.7h0.9M63.1 594.1h0.9M62.7 594.1h0.9M63.2 594.6h0.9M62.8 594.7h0.9M63.0 595.8h0.9M62.6 597.8h0.9M62.7 598.1h0.9M62.6 598.4h0.9M63.0 600.1h0.9M63.1 606.2h0.9M62.5 606.8h0.9M63.2 607.1h0.9M62.9 609.2h0.9M63.1 610.0h0.9M62.7 609.2h0.9M62.7 611.0h0.9M63.3 610.6h0.9M62.6 611.2h0.9M62.6 611.9h0.9M62.8 613.0h0.9M63.3 613.0h0.9M63.0 613.0h0.9M62.9 613.6h0.9M62.3 614.2h0.9M62.6 614.1h0.9M62.3 613.6h0.9M63.2 615.0h0.9M62.8 614.8h0.9M63.1 614.7h0.9M62.8 614.7h0.9M62.7 615.9h0.9M62.7 616.1h0.9M63.3 616.0h0.9M64.0 578.0h0.9M63.5 581.7h0.9M64.3 584.8h0.9M64.1 585.6h0.9M63.9 585.8h0.9M64.0 586.6h0.9M64.3 587.5h0.9M63.3 588.1h0.9M64.3 588.6h0.9M64.1 589.0h0.9M63.7 588.6h0.9M63.7 588.5h0.9M64.3 590.0h0.9M63.9 589.8h0.9M63.8 590.4h0.9M63.6 591.1h0.9M64.0 590.6h0.9M63.3 591.6h0.9M63.9 592.5h0.9M64.1 593.9h0.9M63.7 593.2h0.9M64.2 594.2h0.9M64.3 594.8h0.9M63.7 595.1h0.9M64.2 594.8h0.9M64.2 596.3h0.9M64.2 596.5h0.9M63.4 597.5h0.9M63.6 598.6h0.9M64.0 598.6h0.9M63.4 599.8h0.9M63.4 600.9h0.9M63.7 602.3h0.9M63.4 602.6h0.9M63.9 603.7h0.9M64.0 603.7h0.9M63.7 604.0h0.9M63.8 606.6h0.9M63.5 606.6h0.9M63.8 607.5h0.9M63.8 608.4h0.9M64.0 608.9h0.9M63.7 611.1h0.9M63.5 611.7h0.9M64.3 611.3h0.9M63.7 611.4h0.9M63.4 612.9h0.9M63.8 613.0h0.9M63.6 613.8h0.9M63.4 614.1h0.9M63.4 614.8h0.9M64.1 614.3h0.9M65.1 583.6h0.9M65.1 585.8h0.9M65.2 585.3h0.9M64.4 588.3h0.9M64.3 590.7h0.9M64.6 590.3h0.9M64.8 593.4h0.9M65.3 594.3h0.9M65.0 595.0h0.9M64.8 595.1h0.9M65.2 596.6h0.9M64.6 596.2h0.9M64.5 596.3h0.9M65.3 596.5h0.9M64.7 597.2h0.9M64.7 597.5h0.9M65.3 597.6h0.9M65.2 598.3h0.9M65.1 598.8h0.9M65.3 601.1h0.9M64.7 600.9h0.9M65.1 600.9h0.9M64.4 602.3h0.9M64.9 602.3h0.9M65.3 603.9h0.9M65.2 607.1h0.9M65.1 609.8h0.9M65.2 609.3h0.9M65.3 609.9h0.9M64.6 612.7h0.9M64.8 613.1h0.9M65.3 614.1h0.9M65.1 613.7h0.9M64.4 613.4h0.9M65.0 614.5h0.9M64.9 616.2h0.9M65.3 615.8h0.9M64.4 616.1h0.9M64.4 615.3h0.9M65.4 579.6h0.9M66.1 585.4h0.9M66.0 586.8h0.9M65.5 588.7h0.9M66.2 588.8h0.9M66.2 589.3h0.9M65.3 590.3h0.9M66.2 590.7h0.9M65.4 591.3h0.9M65.6 592.3h0.9M65.6 592.7h0.9M65.5 593.9h0.9M65.5 594.1h0.9M65.4 593.3h0.9M66.3 593.6h0.9M65.9 593.8h0.9M66.1 596.0h0.9M65.8 597.1h0.9M66.3 598.2h0.9M66.2 599.3h0.9M65.9 599.5h0.9M65.5 601.0h0.9M66.0 600.8h0.9M66.0 602.0h0.9M65.6 602.1h0.9M65.7 603.7h0.9M65.9 604.0h0.9M65.7 604.1h0.9M65.5 603.7h0.9M66.1 608.7h0.9M66.0 608.3h0.9M65.5 610.0h0.9M66.2 612.0h0.9M66.3 612.2h0.9M65.7 612.7h0.9M66.2 612.3h0.9M66.2 612.9h0.9M65.7 613.9h0.9M65.8 613.9h0.9M65.3 615.1h0.9M65.7 615.4h0.9M66.4 584.5h0.9M66.7 585.8h0.9M67.2 586.3h0.9M66.9 587.7h0.9M67.2 588.5h0.9M66.7 591.9h0.9M66.9 592.1h0.9M66.5 591.5h0.9M67.0 592.5h0.9M67.0 592.5h0.9M66.5 592.5h0.9M67.1 592.9h0.9M67.1 593.5h0.9M67.0 593.7h0.9M66.6 594.9h0.9M66.3 595.6h0.9M66.9 595.3h0.9M67.2 595.3h0.9M66.9 595.5h0.9M66.6 596.4h0.9M67.3 597.3h0.9M66.6 597.5h0.9M67.2 598.3h0.9M66.7 599.6h0.9M67.2 600.0h0.9M66.7 601.0h0.9M67.0 601.2h0.9M66.4 602.6h0.9M66.9 603.5h0.9M66.7 605.1h0.9M66.8 605.6h0.9M67.2 605.6h0.9M66.9 606.5h0.9M67.3 607.8h0.9M67.3 608.9h0.9M67.2 609.8h0.9M67.0 609.5h0.9M67.1 609.7h0.9M67.2 610.9h0.9M66.7 611.2h0.9M67.2 610.9h0.9M67.2 612.0h0.9M66.9 611.7h0.9M66.7 612.5h0.9M67.2 613.6h0.9M66.4 613.2h0.9M66.4 614.3h0.9M66.3 615.1h0.9M68.1 581.0h0.9M67.9 582.1h0.9M67.8 583.0h0.9M67.8 583.7h0.9M67.3 585.6h0.9M68.1 585.3h0.9M67.7 586.2h0.9M68.0 586.4h0.9M67.4 588.2h0.9M68.1 588.1h0.9M68.0 589.6h0.9M68.3 589.6h0.9M68.2 590.5h0.9M68.2 590.3h0.9M67.8 592.4h0.9M67.4 593.8h0.9M67.4 593.9h0.9M67.9 594.1h0.9M67.4 594.9h0.9M68.0 594.8h0.9M67.8 594.7h0.9M68.2 594.6h0.9M67.8 596.7h0.9M67.7 597.0h0.9M67.6 597.2h0.9M67.5 596.5h0.9M68.2 596.4h0.9M67.7 597.7h0.9M67.4 599.6h0.9M68.1 599.7h0.9M68.3 600.2h0.9M67.7 600.3h0.9M67.5 602.7h0.9M67.8 603.4h0.9M68.1 603.6h0.9M67.8 606.2h0.9M68.0 607.6h0.9M68.2 607.8h0.9M67.7 608.3h0.9M67.7 608.5h0.9M68.0 610.3h0.9M67.5 610.9h0.9M67.7 612.6h0.9M68.1 612.7h0.9M68.1 613.2h0.9M68.1 612.7h0.9M68.3 614.2h0.9M67.9 613.8h0.9M67.4 613.8h0.9M67.6 614.9h0.9M67.6 614.8h0.9M68.2 615.7h0.9M68.6 581.9h0.9M68.5 583.9h0.9M68.9 583.6h0.9M69.0 584.0h0.9M69.3 585.1h0.9M68.5 585.4h0.9M68.8 585.3h0.9M68.6 585.9h0.9M69.0 587.5h0.9M68.3 589.1h0.9M69.3 589.6h0.9M68.7 591.1h0.9M68.4 591.3h0.9M69.0 591.7h0.9M68.7 591.9h0.9M68.7 592.3h0.9M69.1 594.0h0.9M68.5 594.9h0.9M68.7 594.8h0.9M68.5 596.0h0.9M69.2 596.4h0.9M69.3 599.9h0.9M69.2 599.6h0.9M68.6 601.1h0.9M68.8 603.0h0.9M68.6 602.4h0.9M68.4 602.7h0.9M68.6 603.8h0.9M68.5 605.8h0.9M68.6 605.3h0.9M68.6 606.9h0.9M69.2 606.6h0.9M68.8 607.8h0.9M68.9 608.2h0.9M68.9 610.8h0.9M69.2 612.1h0.9M68.9 612.0h0.9M68.9 611.6h0.9M68.5 611.7h0.9M68.3 612.6h0.9M68.9 613.0h0.9M68.6 612.2h0.9M69.1 612.4h0.9M69.2 612.8h0.9M69.3 614.3h0.9M68.5 614.8h0.9M68.4 615.7h0.9M68.7 615.6h0.9M68.7 616.1h0.9M69.4 583.0h0.9M69.6 583.6h0.9M70.3 584.3h0.9M69.9 586.2h0.9M70.3 587.1h0.9M69.6 587.0h0.9M69.7 588.0h0.9M69.8 588.4h0.9M69.6 589.1h0.9M70.1 589.8h0.9M69.4 591.0h0.9M69.7 592.1h0.9M70.1 591.9h0.9M69.6 591.3h0.9M69.5 591.5h0.9M69.5 594.1h0.9M69.3 594.8h0.9M69.8 596.8h0.9M70.2 598.2h0.9M69.9 598.6h0.9M70.1 598.4h0.9M69.6 598.7h0.9M69.3 599.6h0.9M70.2 599.3h0.9M70.2 600.5h0.9M69.7 601.9h0.9M70.1 601.9h0.9M70.0 601.6h0.9M69.6 602.3h0.9M69.6 603.5h0.9M69.9 605.6h0.9M69.9 606.0h0.9M69.7 606.4h0.9M69.7 609.8h0.9M70.1 611.9h0.9M69.5 611.7h0.9M69.6 611.9h0.9M69.4 613.2h0.9M69.7 614.6h0.9M70.0 615.0h0.9M69.5 615.2h0.9M69.6 615.8h0.9M71.0 583.6h0.9M71.3 585.7h0.9M70.8 586.9h0.9M70.9 587.2h0.9M71.3 588.0h0.9M70.5 588.6h0.9M70.6 589.7h0.9M71.0 590.9h0.9M70.8 592.9h0.9M70.4 593.3h0.9M70.8 594.1h0.9M70.5 594.8h0.9M71.1 594.6h0.9M71.1 596.6h0.9M70.5 598.1h0.9M71.0 597.3h0.9M70.8 598.2h0.9M70.4 599.8h0.9M71.3 599.9h0.9M70.6 600.8h0.9M70.7 600.4h0.9M70.4 601.1h0.9M70.8 602.1h0.9M71.2 604.0h0.9M70.8 604.5h0.9M71.2 606.6h0.9M71.2 607.0h0.9M70.6 606.6h0.9M71.0 606.4h0.9M70.6 606.4h0.9M70.8 608.7h0.9M70.5 608.4h0.9M70.7 608.6h0.9M71.0 608.4h0.9M70.6 609.1h0.9M70.8 610.0h0.9M71.1 609.4h0.9M70.8 609.8h0.9M70.8 611.8h0.9M70.9 611.5h0.9M71.1 614.2h0.9M70.4 614.1h0.9M70.8 614.0h0.9M71.1 613.3h0.9M70.9 613.3h0.9M70.6 615.0h0.9M71.0 614.5h0.9M71.1 615.8h0.9M71.8 578.6h0.9M71.6 581.2h0.9M72.1 581.6h0.9M72.1 585.0h0.9M72.0 584.8h0.9M71.7 587.1h0.9M72.0 586.5h0.9M72.0 586.4h0.9M71.8 588.4h0.9M72.1 588.8h0.9M71.7 588.6h0.9M71.4 591.6h0.9M71.7 593.2h0.9M72.1 592.7h0.9M71.5 593.7h0.9M71.8 594.4h0.9M72.1 595.6h0.9M71.7 595.3h0.9M72.3 598.1h0.9M71.7 597.7h0.9M71.7 598.9h0.9M71.9 599.3h0.9M71.5 600.7h0.9M72.0 601.6h0.9M72.3 601.4h0.9M71.7 603.5h0.9M71.6 604.0h0.9M71.9 604.7h0.9M71.4 607.0h0.9M71.4 606.9h0.9M71.5 606.9h0.9M71.4 606.3h0.9M72.2 606.7h0.9M72.0 607.6h0.9M71.8 607.5h0.9M71.6 607.5h0.9M72.2 608.6h0.9M72.3 610.1h0.9M72.2 609.5h0.9M72.2 609.8h0.9M72.2 612.2h0.9M71.7 612.1h0.9M71.3 612.0h0.9M71.4 611.7h0.9M72.0 613.0h0.9M72.1 613.7h0.9M71.6 615.7h0.9M72.2 616.0h0.9M72.6 581.7h0.9M73.0 583.2h0.9M72.9 584.4h0.9M73.0 586.0h0.9M72.7 586.5h0.9M72.8 587.2h0.9M72.4 586.9h0.9M72.6 587.9h0.9M72.8 588.2h0.9M72.7 590.9h0.9M73.3 592.6h0.9M72.8 593.9h0.9M73.1 593.9h0.9M72.7 594.7h0.9M72.9 596.5h0.9M73.2 598.3h0.9M72.7 598.4h0.9M72.9 598.6h0.9M73.3 598.4h0.9M72.7 600.9h0.9M72.5 600.9h0.9M73.2 603.1h0.9M73.1 605.8h0.9M72.6 605.9h0.9M73.2 606.9h0.9M73.0 607.6h0.9M73.3 608.3h0.9M73.3 610.2h0.9M72.5 611.3h0.9M73.2 612.5h0.9M73.3 612.3h0.9M73.2 612.7h0.9M72.8 612.4h0.9M72.8 613.0h0.9M72.9 613.2h0.9M73.1 613.8h0.9M73.2 613.5h0.9M72.7 615.0h0.9M73.0 614.7h0.9M73.7 578.3h0.9M74.2 581.6h0.9M73.8 584.3h0.9M73.4 585.7h0.9M74.0 586.3h0.9M73.5 586.2h0.9M73.6 587.3h0.9M74.0 589.0h0.9M74.1 589.9h0.9M73.4 589.9h0.9M73.8 591.9h0.9M73.8 593.1h0.9M73.9 592.8h0.9M73.6 593.9h0.9M73.9 594.1h0.9M74.1 593.5h0.9M73.5 593.9h0.9M73.4 593.7h0.9M73.6 593.6h0.9M74.2 594.9h0.9M74.2 594.8h0.9M74.0 595.1h0.9M73.4 595.9h0.9M74.2 595.6h0.9M74.2 597.0h0.9M74.2 600.6h0.9M74.2 602.2h0.9M73.4 603.4h0.9M74.1 604.8h0.9M73.8 604.9h0.9M73.9 605.2h0.9M73.5 605.1h0.9M74.1 604.6h0.9M73.9 606.2h0.9M73.6 606.0h0.9M74.0 607.1h0.9M74.2 606.9h0.9M73.8 608.2h0.9M74.3 607.2h0.9M73.6 607.4h0.9M73.5 608.5h0.9M74.3 608.3h0.9M74.0 609.5h0.9M74.3 609.5h0.9M74.0 609.2h0.9M74.1 610.6h0.9M73.5 611.1h0.9M74.0 610.5h0.9M73.4 610.8h0.9M73.5 612.9h0.9M74.1 613.8h0.9M73.9 613.3h0.9M74.2 614.1h0.9M73.6 615.2h0.9M73.6 614.5h0.9M74.1 616.0h0.9M74.5 577.1h0.9M74.5 581.3h0.9M75.1 582.7h0.9M74.7 584.0h0.9M74.7 584.1h0.9M74.7 583.8h0.9M74.8 585.9h0.9M74.5 586.4h0.9M74.8 587.2h0.9M74.7 587.8h0.9M74.6 588.0h0.9M74.5 587.6h0.9M75.0 588.6h0.9M75.1 592.0h0.9M74.9 591.7h0.9M74.5 591.4h0.9M74.4 591.3h0.9M74.9 593.0h0.9M74.5 593.8h0.9M74.5 593.3h0.9M74.3 594.2h0.9M74.4 596.1h0.9M74.7 595.5h0.9M75.0 595.7h0.9M74.4 596.9h0.9M74.6 597.7h0.9M74.8 598.5h0.9M74.9 601.0h0.9M74.9 600.5h0.9M74.8 601.7h0.9M75.2 601.8h0.9M74.9 601.7h0.9M74.5 602.4h0.9M74.4 603.2h0.9M74.9 603.4h0.9M75.2 603.6h0.9M74.8 605.0h0.9M74.8 604.4h0.9M74.8 604.5h0.9M74.6 605.0h0.9M74.4 606.0h0.9M75.1 605.9h0.9M74.8 607.0h0.9M74.4 608.0h0.9M74.3 607.5h0.9M74.7 607.9h0.9M74.5 608.5h0.9M74.4 609.2h0.9M74.9 608.7h0.9M74.4 609.1h0.9M74.6 609.3h0.9M74.9 609.5h0.9M74.8 610.6h0.9M74.8 610.6h0.9M74.5 610.3h0.9M75.2 611.7h0.9M74.8 611.5h0.9M74.7 612.2h0.9M74.7 612.0h0.9M74.5 611.8h0.9M74.7 612.8h0.9M74.7 613.1h0.9M74.6 614.1h0.9M75.0 613.9h0.9M74.9 613.9h0.9M75.3 613.9h0.9M74.7 615.1h0.9M74.5 614.4h0.9M74.5 614.5h0.9M74.7 614.6h0.9M74.8 614.2h0.9M74.7 614.7h0.9M76.0 584.1h0.9M75.7 585.5h0.9M75.8 586.3h0.9M75.3 586.3h0.9M75.3 587.3h0.9M76.3 588.9h0.9M75.7 588.3h0.9M75.5 589.0h0.9M75.5 589.8h0.9M76.3 590.7h0.9M75.6 593.3h0.9M75.5 593.4h0.9M76.0 594.4h0.9M75.5 595.3h0.9M75.8 599.1h0.9M75.7 599.6h0.9M75.5 600.3h0.9M75.4 601.8h0.9M76.0 602.7h0.9M75.4 603.9h0.9M75.7 603.5h0.9M75.4 603.4h0.9M75.6 605.1h0.9M75.6 604.8h0.9M76.3 604.7h0.9M75.8 605.2h0.9M75.4 605.2h0.9M76.3 605.7h0.9M76.2 606.2h0.9M75.5 606.5h0.9M76.3 607.1h0.9M75.6 607.7h0.9M76.3 607.8h0.9M76.2 607.4h0.9M75.8 608.1h0.9M75.9 608.0h0.9M76.2 609.2h0.9M75.7 608.9h0.9M75.9 609.1h0.9M75.6 608.7h0.9M75.6 609.0h0.9M76.0 608.2h0.9M75.9 610.0h0.9M75.6 610.5h0.9M75.6 611.0h0.9M75.7 610.9h0.9M75.9 610.4h0.9M75.4 611.4h0.9M75.7 611.9h0.9M76.2 611.8h0.9M75.5 611.6h0.9M75.5 611.5h0.9M75.7 612.5h0.9M76.1 612.2h0.9M76.0 613.2h0.9M76.0 612.2h0.9M75.4 613.0h0.9M75.5 612.6h0.9M76.2 613.9h0.9M76.3 614.0h0.9M76.3 613.5h0.9M76.0 613.4h0.9M75.4 613.5h0.9M76.3 613.5h0.9M75.6 614.1h0.9M75.3 614.3h0.9M75.7 614.4h0.9M76.2 614.6h0.9M76.2 614.7h0.9M75.8 616.2h0.9M76.3 616.1h0.9M77.0 577.0h0.9M76.5 579.9h0.9M76.5 579.6h0.9M77.2 582.2h0.9M76.7 586.2h0.9M76.5 586.9h0.9M77.3 586.3h0.9M76.5 587.9h0.9M76.5 588.7h0.9M76.8 590.4h0.9M76.5 590.8h0.9M77.2 592.2h0.9M76.7 591.4h0.9M77.2 591.8h0.9M77.1 592.3h0.9M77.0 596.1h0.9M76.7 596.5h0.9M76.3 596.5h0.9M76.5 597.4h0.9M77.3 597.8h0.9M76.7 597.7h0.9M76.8 597.5h0.9M77.2 598.5h0.9M76.8 598.4h0.9M76.8 599.2h0.9M76.5 600.7h0.9M76.8 600.5h0.9M76.4 602.8h0.9M77.0 603.2h0.9M77.1 605.0h0.9M76.8 605.1h0.9M76.4 605.1h0.9M76.7 604.7h0.9M77.1 604.4h0.9M76.8 604.2h0.9M77.3 606.7h0.9M77.2 606.5h0.9M76.8 606.4h0.9M76.5 607.9h0.9M77.3 608.0h0.9M76.6 608.1h0.9M76.8 607.8h0.9M77.0 607.8h0.9M77.2 608.1h0.9M76.6 609.2h0.9M77.0 608.6h0.9M77.3 608.3h0.9M77.1 608.8h0.9M76.3 608.7h0.9M76.5 610.1h0.9M76.9 609.8h0.9M76.6 609.4h0.9M76.7 609.2h0.9M76.5 610.7h0.9M77.0 610.5h0.9M76.5 610.3h0.9M76.7 610.6h0.9M77.3 612.1h0.9M76.6 611.5h0.9M76.8 611.4h0.9M77.1 612.1h0.9M77.0 611.6h0.9M77.1 612.5h0.9M76.4 612.7h0.9M76.4 612.7h0.9M77.2 612.8h0.9M76.6 612.4h0.9M76.9 612.7h0.9M77.2 612.4h0.9M76.9 613.4h0.9M76.7 613.7h0.9M77.3 613.7h0.9M76.7 613.2h0.9M76.7 614.9h0.9M77.0 614.3h0.9M76.4 614.7h0.9M76.9 614.8h0.9M76.6 615.8h0.9M76.8 615.2h0.9M77.1 616.0h0.9M77.3 616.1h0.9M77.9 582.0h0.9M77.7 581.8h0.9M77.9 582.1h0.9M78.2 582.8h0.9M78.0 582.5h0.9M78.3 584.4h0.9M77.5 585.8h0.9M77.4 586.5h0.9M77.4 586.7h0.9M78.0 587.6h0.9M78.2 588.2h0.9M77.6 588.2h0.9M78.2 589.2h0.9M78.0 590.0h0.9M77.7 590.1h0.9M78.1 589.7h0.9M77.4 590.7h0.9M77.9 591.3h0.9M77.5 592.7h0.9M78.3 595.1h0.9M78.3 595.9h0.9M77.4 595.3h0.9M77.4 595.5h0.9M77.9 596.6h0.9M77.4 597.1h0.9M78.0 597.2h0.9M78.0 596.8h0.9M77.8 598.6h0.9M77.3 598.4h0.9M77.5 598.3h0.9M78.2 600.6h0.9M78.2 600.4h0.9M77.6 600.7h0.9M77.6 600.5h0.9M77.9 601.8h0.9M78.2 601.8h0.9M78.3 601.7h0.9M77.8 601.2h0.9M77.7 601.7h0.9M77.6 604.1h0.9M77.8 604.3h0.9M77.6 604.7h0.9M77.9 605.8h0.9M77.5 605.8h0.9M77.9 606.8h0.9M77.7 606.6h0.9M78.0 606.6h0.9M77.8 606.6h0.9M77.6 606.8h0.9M78.2 606.4h0.9M78.0 606.7h0.9M78.0 606.9h0.9M77.7 606.2h0.9M78.2 607.7h0.9M77.8 607.9h0.9M77.9 608.2h0.9M77.5 607.3h0.9M77.9 607.4h0.9M77.6 608.2h0.9M77.9 607.5h0.9M77.7 607.4h0.9M78.3 609.1h0.9M77.4 609.1h0.9M77.9 609.2h0.9M77.8 608.6h0.9M77.3 608.8h0.9M77.7 609.5h0.9M77.6 609.3h0.9M77.6 609.5h0.9M78.2 609.2h0.9M77.8 609.7h0.9M77.5 609.9h0.9M77.5 609.9h0.9M77.5 610.1h0.9M77.5 610.3h0.9M77.6 611.2h0.9M78.2 611.5h0.9M77.5 611.4h0.9M78.1 612.2h0.9M77.7 611.9h0.9M78.1 612.3h0.9M77.7 612.9h0.9M77.4 613.2h0.9M77.9 612.9h0.9M78.1 613.4h0.9M77.4 613.8h0.9M77.4 614.0h0.9M78.2 613.5h0.9M78.0 614.3h0.9M77.7 614.4h0.9M77.4 614.7h0.9M77.8 615.6h0.9M78.2 616.2h0.9M78.1 616.1h0.9M77.6 615.3h0.9M77.6 615.7h0.9M78.1 615.9h0.9M78.2 616.0h0.9M77.6 615.3h0.9M79.1 579.8h0.9M79.2 584.2h0.9M78.8 590.3h0.9M78.8 590.8h0.9M79.3 590.3h0.9M79.3 591.4h0.9M78.5 592.7h0.9M78.8 597.3h0.9M79.1 597.9h0.9M78.4 597.6h0.9M79.2 599.3h0.9M79.0 601.1h0.9M79.2 600.4h0.9M78.8 602.1h0.9M78.3 601.9h0.9M79.2 602.3h0.9M79.0 602.5h0.9M78.4 602.4h0.9M79.3 603.3h0.9M79.0 603.7h0.9M78.9 604.1h0.9M79.3 604.9h0.9M78.8 604.4h0.9M79.2 604.8h0.9M79.3 605.1h0.9M78.4 605.3h0.9M78.5 606.0h0.9M79.1 605.9h0.9M78.7 606.1h0.9M78.5 605.4h0.9M78.9 606.7h0.9M78.5 607.0h0.9M79.1 607.0h0.9M78.4 606.4h0.9M79.1 607.0h0.9M78.9 607.1h0.9M78.8 606.4h0.9M78.4 607.7h0.9M79.2 607.8h0.9M79.2 607.8h0.9M79.3 607.2h0.9M78.8 607.4h0.9M79.1 607.5h0.9M78.7 608.5h0.9M79.0 608.8h0.9M78.5 608.9h0.9M79.2 610.1h0.9M78.8 611.0h0.9M79.3 610.8h0.9M78.4 610.7h0.9M78.5 610.7h0.9M79.1 610.9h0.9M78.8 610.4h0.9M79.3 611.1h0.9M78.8 610.3h0.9M79.0 610.6h0.9M78.7 610.6h0.9M79.1 611.7h0.9M78.5 611.5h0.9M78.9 611.9h0.9M79.0 611.9h0.9M79.0 613.0h0.9M79.3 613.0h0.9M79.2 612.8h0.9M78.6 612.5h0.9M78.4 613.4h0.9M79.1 614.0h0.9M78.4 613.4h0.9M79.3 613.4h0.9M79.3 614.5h0.9M78.8 614.7h0.9M78.9 614.8h0.9M78.4 615.1h0.9M78.9 614.3h0.9M78.8 614.4h0.9M78.8 614.9h0.9M78.9 615.4h0.9M78.4 615.9h0.9M78.4 615.3h0.9M79.0 616.2h0.9M78.4 615.9h0.9M79.8 586.9h0.9M79.4 587.9h0.9M79.7 589.0h0.9M79.7 592.8h0.9M79.7 592.3h0.9M79.5 593.4h0.9M79.9 596.1h0.9M80.0 597.0h0.9M79.5 596.4h0.9M79.6 597.9h0.9M79.5 597.3h0.9M79.3 597.8h0.9M79.5 598.8h0.9M79.7 598.7h0.9M80.2 598.7h0.9M79.8 599.3h0.9M79.7 600.4h0.9M79.7 602.0h0.9M79.9 602.1h0.9M79.9 601.8h0.9M79.6 603.0h0.9M79.4 602.4h0.9M80.0 602.9h0.9M79.7 604.2h0.9M79.9 603.5h0.9M80.0 604.2h0.9M79.8 603.6h0.9M80.2 604.7h0.9M80.2 604.3h0.9M79.7 604.2h0.9M80.2 605.1h0.9M79.8 604.7h0.9M80.3 604.6h0.9M79.6 604.3h0.9M79.8 605.8h0.9M79.5 605.4h0.9M80.0 606.2h0.9M79.4 605.9h0.9M79.8 605.2h0.9M79.5 605.5h0.9M80.0 605.3h0.9M79.7 605.8h0.9M80.1 606.2h0.9M79.6 606.9h0.9M80.2 606.9h0.9M80.0 607.2h0.9M79.6 606.8h0.9M80.2 606.9h0.9M79.3 606.7h0.9M80.2 607.9h0.9M79.7 607.8h0.9M79.6 607.3h0.9M79.8 607.2h0.9M79.6 608.0h0.9M80.3 607.4h0.9M79.5 607.6h0.9M79.8 607.3h0.9M79.8 609.0h0.9M79.3 608.4h0.9M79.4 609.0h0.9M80.0 608.4h0.9M80.2 608.4h0.9M79.5 610.1h0.9M80.2 609.5h0.9M79.4 609.8h0.9M79.5 610.1h0.9M80.0 610.6h0.9M80.3 611.0h0.9M79.8 610.9h0.9M79.9 610.8h0.9M79.3 610.4h0.9M79.6 610.9h0.9M80.2 610.8h0.9M80.0 611.5h0.9M79.6 611.4h0.9M79.7 611.8h0.9M79.4 612.1h0.9M79.3 611.9h0.9M79.7 612.1h0.9M79.7 613.0h0.9M80.0 612.6h0.9M79.5 613.6h0.9M79.4 613.7h0.9M79.7 613.5h0.9M80.1 613.9h0.9M79.4 613.8h0.9M80.3 613.8h0.9M79.5 614.5h0.9M79.8 615.0h0.9M80.1 614.2h0.9M80.1 614.8h0.9M80.2 615.3h0.9M80.8 584.1h0.9M80.4 586.1h0.9M81.3 586.8h0.9M80.4 587.9h0.9M80.4 588.8h0.9M80.4 591.9h0.9M81.3 592.7h0.9M80.6 593.5h0.9M80.6 597.8h0.9M80.5 600.0h0.9M81.2 599.3h0.9M80.7 599.7h0.9M81.1 601.1h0.9M81.0 600.9h0.9M80.6 600.5h0.9M80.8 602.2h0.9M81.0 601.9h0.9M80.7 602.2h0.9M80.8 601.9h0.9M80.7 602.9h0.9M80.5 602.4h0.9M81.0 602.7h0.9M81.1 603.6h0.9M80.8 603.6h0.9M80.3 603.3h0.9M81.0 604.8h0.9M80.6 604.5h0.9M80.3 605.0h0.9M80.7 604.5h0.9M80.4 605.4h0.9M80.9 605.5h0.9M80.4 606.1h0.9M80.6 606.6h0.9M81.0 606.5h0.9M80.7 607.1h0.9M80.8 607.2h0.9M80.6 607.4h0.9M80.5 608.0h0.9M81.3 607.5h0.9M81.1 607.5h0.9M80.9 607.4h0.9M81.2 607.7h0.9M80.5 608.4h0.9M81.3 608.8h0.9M80.3 608.4h0.9M80.9 608.7h0.9M81.3 609.1h0.9M80.4 609.0h0.9M81.3 608.9h0.9M80.9 610.1h0.9M81.1 609.9h0.9M80.5 609.4h0.9M80.6 609.9h0.9M80.4 609.9h0.9M80.4 609.4h0.9M80.6 609.7h0.9M81.0 610.1h0.9M80.6 609.3h0.9M81.2 609.8h0.9M81.2 609.9h0.9M80.6 611.1h0.9M81.2 610.4h0.9M81.3 611.2h0.9M80.4 611.4h0.9M81.1 611.5h0.9M81.0 611.6h0.9M81.0 611.5h0.9M80.4 611.9h0.9M80.6 611.4h0.9M80.8 611.7h0.9M81.2 611.9h0.9M80.9 613.1h0.9M80.9 612.4h0.9M81.3 613.0h0.9M80.6 612.6h0.9M81.2 613.9h0.9M81.1 613.8h0.9M80.3 614.7h0.9M81.1 614.3h0.9M80.5 615.4h0.9M80.6 616.1h0.9M81.2 615.3h0.9M80.9 615.6h0.9M81.4 581.6h0.9M81.4 582.4h0.9M81.4 586.3h0.9M82.0 587.3h0.9M82.0 587.4h0.9M82.2 588.0h0.9M81.9 589.6h0.9M82.0 589.3h0.9M81.8 589.3h0.9M81.5 592.1h0.9M81.5 596.3h0.9M81.4 596.9h0.9M81.4 596.7h0.9M81.7 596.9h0.9M81.4 596.9h0.9M82.3 596.5h0.9M81.7 596.9h0.9M81.8 597.3h0.9M81.9 597.6h0.9M82.3 597.9h0.9M81.7 599.1h0.9M82.3 598.4h0.9M81.8 598.6h0.9M82.0 598.8h0.9M81.6 599.1h0.9M82.1 599.4h0.9M81.4 600.0h0.9M82.0 599.9h0.9M82.1 599.4h0.9M82.2 599.8h0.9M81.5 600.8h0.9M82.0 600.6h0.9M81.4 601.1h0.9M82.0 601.8h0.9M81.6 601.5h0.9M81.5 602.9h0.9M81.6 603.1h0.9M81.7 602.5h0.9M82.0 603.1h0.9M81.3 603.7h0.9M82.0 603.5h0.9M81.7 603.6h0.9M81.7 603.4h0.9M81.9 603.9h0.9M81.8 604.4h0.9M82.0 604.6h0.9M81.7 606.0h0.9M81.6 606.0h0.9M81.8 605.3h0.9M81.9 605.5h0.9M81.5 606.2h0.9M81.5 607.0h0.9M81.9 606.4h0.9M82.1 607.2h0.9M81.8 607.2h0.9M81.8 606.2h0.9M81.8 606.6h0.9M81.4 607.9h0.9M81.4 607.4h0.9M81.8 608.1h0.9M81.6 607.2h0.9M82.0 607.9h0.9M82.0 608.6h0.9M81.7 608.5h0.9M81.4 609.0h0.9M82.1 608.2h0.9M81.8 608.2h0.9M81.9 608.4h0.9M82.3 608.5h0.9M81.6 609.4h0.9M82.1 609.6h0.9M82.2 609.5h0.9M81.5 610.7h0.9M81.9 610.4h0.9M81.3 611.3h0.9M82.1 611.9h0.9M81.5 611.5h0.9M81.6 612.1h0.9M81.7 611.9h0.9M81.6 612.8h0.9M81.5 613.8h0.9M81.8 613.3h0.9M81.4 613.7h0.9M82.0 613.6h0.9M81.8 613.8h0.9M82.0 613.9h0.9M81.7 613.4h0.9M82.2 613.2h0.9M81.8 614.8h0.9M82.0 614.3h0.9M82.1 614.5h0.9M81.7 614.3h0.9M81.4 616.0h0.9M81.3 615.6h0.9M81.4 616.0h0.9M82.3 615.2h0.9M81.7 616.2h0.9M81.6 615.5h0.9M82.7 576.6h0.9M82.3 579.5h0.9M82.5 580.0h0.9M83.3 580.4h0.9M82.6 585.5h0.9M82.7 585.9h0.9M82.5 586.6h0.9M83.3 586.7h0.9M82.7 588.0h0.9M83.0 588.2h0.9M83.2 589.8h0.9M82.6 591.7h0.9M83.1 592.3h0.9M83.2 595.9h0.9M83.2 596.5h0.9M82.5 596.4h0.9M82.8 598.1h0.9M83.3 597.4h0.9M83.3 597.3h0.9M83.0 599.1h0.9M83.2 598.8h0.9M82.5 598.4h0.9M82.9 599.5h0.9M82.5 600.1h0.9M82.4 599.8h0.9M83.1 601.0h0.9M82.3 600.4h0.9M83.1 601.1h0.9M82.9 601.1h0.9M82.4 600.5h0.9M82.7 601.5h0.9M83.1 601.9h0.9M82.7 601.9h0.9M82.6 601.7h0.9M82.5 601.5h0.9M82.7 602.7h0.9M83.2 603.0h0.9M82.6 602.3h0.9M82.4 603.6h0.9M83.1 603.3h0.9M82.8 603.3h0.9M82.5 603.8h0.9M83.0 604.1h0.9M82.7 603.4h0.9M82.3 604.3h0.9M82.9 604.7h0.9M83.0 606.2h0.9M83.1 605.4h0.9M82.7 605.6h0.9M83.2 607.2h0.9M83.3 606.6h0.9M83.0 606.4h0.9M82.7 608.0h0.9M82.8 609.1h0.9M82.8 609.2h0.9M83.1 608.3h0.9M83.2 608.9h0.9M82.5 609.6h0.9M83.3 609.8h0.9M82.8 609.8h0.9M83.0 609.8h0.9M82.9 610.2h0.9M82.8 611.0h0.9M83.3 610.3h0.9M82.5 610.7h0.9M82.9 611.2h0.9M82.4 610.3h0.9M83.0 611.6h0.9M82.5 611.3h0.9M83.1 611.7h0.9M83.1 612.7h0.9M82.9 612.5h0.9M83.3 612.5h0.9M82.7 612.3h0.9M83.2 613.0h0.9M82.4 612.3h0.9M83.2 613.9h0.9M82.8 614.2h0.9M82.8 615.2h0.9M83.2 614.8h0.9M83.2 614.7h0.9M82.8 614.9h0.9M82.5 614.8h0.9M82.8 615.3h0.9M82.9 615.3h0.9M83.2 615.2h0.9M83.1 615.5h0.9M83.3 615.5h0.9M84.0 582.8h0.9M83.5 583.5h0.9M84.3 586.1h0.9M83.7 585.5h0.9M83.7 586.2h0.9M83.8 585.6h0.9M84.1 588.1h0.9M84.3 587.9h0.9M84.3 589.0h0.9M84.0 589.9h0.9M84.1 596.6h0.9M83.6 597.8h0.9M84.1 599.0h0.9M83.4 598.6h0.9M83.4 599.0h0.9M83.5 599.1h0.9M84.0 599.4h0.9M84.0 601.0h0.9M84.3 600.8h0.9M83.8 600.7h0.9M84.0 602.1h0.9M83.8 602.0h0.9M83.6 601.4h0.9M84.2 601.8h0.9M84.3 601.8h0.9M83.6 601.3h0.9M84.2 601.5h0.9M84.1 602.9h0.9M83.7 603.1h0.9M83.8 603.0h0.9M83.4 602.5h0.9M84.2 603.2h0.9M83.6 603.5h0.9M83.8 603.3h0.9M83.8 603.3h0.9M83.5 605.1h0.9M83.7 605.1h0.9M83.6 604.7h0.9M83.9 604.6h0.9M83.9 606.0h0.9M83.8 605.6h0.9M84.0 605.4h0.9M83.8 605.4h0.9M84.2 606.0h0.9M83.7 606.0h0.9M83.9 605.9h0.9M84.1 607.0h0.9M83.5 606.9h0.9M83.6 606.5h0.9M83.7 607.0h0.9M84.0 606.6h0.9M84.0 607.0h0.9M83.5 607.1h0.9M83.7 607.7h0.9M83.8 607.7h0.9M84.2 607.3h0.9M84.0 607.5h0.9M83.4 607.7h0.9M83.5 607.7h0.9M83.8 608.8h0.9M84.0 608.3h0.9M84.2 608.6h0.9M83.4 608.6h0.9M83.7 609.7h0.9M83.7 609.4h0.9M83.9 609.3h0.9M83.5 609.6h0.9M84.3 609.6h0.9M84.3 609.9h0.9M84.0 610.1h0.9M84.3 610.2h0.9M84.0 610.3h0.9M84.1 610.6h0.9M83.5 611.0h0.9M83.6 611.1h0.9M83.7 611.3h0.9M83.6 611.5h0.9M84.0 611.3h0.9M83.5 612.2h0.9M84.0 611.3h0.9M84.2 612.0h0.9M83.4 612.7h0.9M83.9 613.0h0.9M83.4 612.3h0.9M83.4 612.6h0.9M83.6 613.5h0.9M83.6 613.5h0.9M83.6 613.5h0.9M83.9 613.8h0.9M83.9 614.5h0.9M83.5 614.6h0.9M84.2 616.0h0.9M83.4 616.2h0.9M83.3 616.0h0.9M83.8 616.1h0.9M84.3 615.9h0.9M85.1 581.1h0.9M85.3 583.3h0.9M84.6 584.1h0.9M84.8 585.8h0.9M84.9 586.1h0.9M84.4 585.9h0.9M84.6 587.0h0.9M85.1 587.0h0.9M84.8 586.2h0.9M84.4 586.8h0.9M85.1 588.2h0.9M85.3 589.7h0.9M85.3 590.5h0.9M84.4 590.5h0.9M85.2 593.0h0.9M85.0 594.1h0.9M84.5 593.6h0.9M85.2 595.5h0.9M84.6 596.3h0.9M85.0 596.6h0.9M84.6 597.3h0.9M84.5 598.6h0.9M85.1 599.8h0.9M84.9 600.1h0.9M85.0 599.8h0.9M85.3 599.7h0.9M84.4 599.2h0.9M84.9 600.2h0.9M84.4 600.3h0.9M84.6 600.6h0.9M84.5 600.9h0.9M85.1 601.0h0.9M84.7 601.2h0.9M84.9 601.3h0.9M84.8 601.4h0.9M84.4 602.1h0.9M84.7 602.2h0.9M85.1 601.8h0.9M84.8 601.8h0.9M84.5 603.0h0.9M85.3 602.6h0.9M84.5 602.4h0.9M84.6 602.6h0.9M84.4 603.5h0.9M84.9 603.8h0.9M84.6 603.3h0.9M84.9 603.4h0.9M84.3 604.2h0.9M85.1 604.1h0.9M84.6 604.6h0.9M84.8 604.8h0.9M84.5 604.4h0.9M84.4 604.6h0.9M85.2 605.4h0.9M84.8 605.8h0.9M85.0 606.9h0.9M84.9 606.6h0.9M84.8 606.9h0.9M84.6 607.8h0.9M84.4 607.5h0.9M84.5 607.7h0.9M84.5 608.0h0.9M84.4 607.6h0.9M85.1 608.0h0.9M85.0 608.4h0.9M84.5 608.8h0.9M84.7 608.3h0.9M84.5 609.0h0.9M84.7 609.0h0.9M84.9 608.2h0.9M84.7 608.8h0.9M84.8 610.2h0.9M84.6 609.2h0.9M85.0 609.9h0.9M85.2 609.3h0.9M84.5 610.2h0.9M84.8 610.3h0.9M84.4 610.3h0.9M84.7 612.1h0.9M84.4 611.3h0.9M84.8 611.6h0.9M84.4 612.0h0.9M84.6 612.8h0.9M85.1 612.7h0.9M84.7 612.7h0.9M85.0 612.4h0.9M85.2 612.6h0.9M84.7 612.7h0.9M85.1 612.4h0.9M84.5 612.7h0.9M84.5 613.4h0.9M84.8 614.9h0.9M85.1 615.2h0.9M84.3 614.7h0.9M84.7 614.6h0.9M85.1 614.6h0.9M84.9 615.0h0.9M85.1 615.9h0.9M84.5 615.8h0.9M85.2 616.0h0.9M84.7 615.6h0.9M84.9 615.6h0.9M86.3 570.6h0.9M85.7 580.3h0.9M86.0 582.1h0.9M85.7 581.4h0.9M85.3 582.5h0.9M86.0 582.4h0.9M85.5 583.9h0.9M86.0 583.8h0.9M86.2 584.5h0.9M85.6 584.6h0.9M86.2 584.9h0.9M85.9 585.4h0.9M85.3 586.1h0.9M85.7 586.0h0.9M86.2 586.1h0.9M86.1 585.9h0.9M86.2 586.7h0.9M86.3 586.5h0.9M85.4 586.3h0.9M86.2 587.0h0.9M85.8 586.9h0.9M85.4 587.1h0.9M85.6 586.4h0.9M85.7 588.1h0.9M86.1 587.9h0.9M86.1 587.6h0.9M85.7 587.7h0.9M86.2 587.4h0.9M86.0 587.7h0.9M85.5 588.5h0.9M85.5 588.8h0.9M85.9 588.9h0.9M86.1 589.2h0.9M85.9 588.8h0.9M85.6 589.5h0.9M85.8 589.6h0.9M86.3 590.5h0.9M85.9 590.8h0.9M85.8 590.7h0.9M86.1 592.7h0.9M85.9 595.6h0.9M85.4 596.9h0.9M85.3 596.7h0.9M85.6 596.9h0.9M85.5 597.5h0.9M86.0 598.6h0.9M85.9 598.4h0.9M85.7 598.4h0.9M86.0 599.1h0.9M85.7 598.7h0.9M86.0 599.5h0.9M85.8 599.8h0.9M85.9 600.2h0.9M86.2 601.1h0.9M85.4 600.4h0.9M86.1 602.1h0.9M86.1 601.5h0.9M86.1 601.5h0.9M86.1 602.7h0.9M85.9 602.5h0.9M85.9 602.2h0.9M86.1 603.2h0.9M86.0 603.9h0.9M85.6 603.3h0.9M86.0 603.3h0.9M86.2 603.2h0.9M86.2 604.0h0.9M85.8 604.1h0.9M85.4 604.9h0.9M86.0 605.1h0.9M85.7 604.6h0.9M86.2 605.0h0.9M86.1 605.4h0.9M85.9 606.0h0.9M86.1 605.9h0.9M86.1 606.8h0.9M86.0 606.4h0.9M85.5 607.2h0.9M85.5 607.4h0.9M85.8 607.7h0.9M85.4 608.1h0.9M86.0 607.7h0.9M85.6 607.6h0.9M86.2 607.6h0.9M85.6 608.3h0.9M86.2 609.1h0.9M86.1 608.7h0.9M85.4 608.7h0.9M86.2 608.9h0.9M85.3 609.2h0.9M85.3 609.6h0.9M85.3 609.3h0.9M86.0 610.0h0.9M85.7 609.4h0.9M85.6 610.8h0.9M85.8 610.3h0.9M85.7 610.5h0.9M86.1 610.4h0.9M86.0 610.9h0.9M85.6 612.1h0.9M85.5 612.2h0.9M85.5 611.2h0.9M85.7 612.5h0.9M86.0 612.5h0.9M85.8 612.9h0.9M85.8 614.0h0.9M85.9 613.9h0.9M86.3 613.4h0.9M85.7 613.3h0.9M86.1 614.4h0.9M86.1 614.7h0.9M86.0 614.3h0.9M85.9 614.3h0.9M86.0 615.0h0.9M85.7 614.6h0.9M86.0 614.8h0.9M86.3 615.0h0.9M86.0 615.9h0.9M86.2 615.3h0.9M85.8 615.5h0.9M85.7 615.5h0.9M87.3 578.2h0.9M86.7 580.8h0.9M87.1 583.9h0.9M86.6 583.5h0.9M86.7 583.3h0.9M87.0 584.5h0.9M87.2 585.7h0.9M86.9 585.5h0.9M87.3 585.8h0.9M87.3 586.9h0.9M86.5 586.6h0.9M86.4 587.7h0.9M87.2 587.5h0.9M87.0 587.3h0.9M87.2 588.1h0.9M86.6 587.9h0.9M87.1 587.6h0.9M87.2 587.2h0.9M87.0 588.7h0.9M86.9 588.6h0.9M86.9 588.8h0.9M86.6 588.6h0.9M86.9 589.6h0.9M86.5 589.3h0.9M86.4 589.9h0.9M86.6 594.9h0.9M87.1 595.8h0.9M86.9 595.2h0.9M86.4 596.3h0.9M86.9 597.4h0.9M86.8 598.5h0.9M87.3 598.7h0.9M86.5 599.9h0.9M86.7 600.6h0.9M87.2 601.1h0.9M86.7 601.1h0.9M87.1 600.9h0.9M86.7 600.5h0.9M86.6 600.9h0.9M86.8 600.4h0.9M86.5 601.0h0.9M86.9 601.3h0.9M86.8 602.2h0.9M87.2 603.1h0.9M86.3 602.8h0.9M87.1 603.0h0.9M86.4 603.7h0.9M87.3 603.9h0.9M86.8 603.5h0.9M86.5 603.6h0.9M86.6 603.7h0.9M86.9 603.6h0.9M86.9 603.6h0.9M86.8 603.7h0.9M87.2 604.1h0.9M86.5 605.0h0.9M87.2 604.8h0.9M86.5 604.3h0.9M87.1 604.8h0.9M86.9 605.8h0.9M86.5 605.5h0.9M87.1 606.2h0.9M86.8 606.1h0.9M87.2 606.1h0.9M86.5 605.6h0.9M87.0 606.0h0.9M87.2 605.3h0.9M87.0 605.2h0.9M87.0 606.6h0.9M87.1 606.5h0.9M87.3 606.3h0.9M86.5 607.4h0.9M86.8 608.0h0.9M87.0 607.4h0.9M86.7 608.0h0.9M86.8 608.4h0.9M86.6 608.5h0.9M87.2 608.3h0.9M86.8 610.1h0.9M87.1 609.5h0.9M87.3 611.2h0.9M86.5 611.0h0.9M86.9 610.6h0.9M86.8 611.1h0.9M86.8 610.8h0.9M87.2 611.2h0.9M86.9 611.5h0.9M87.0 611.8h0.9M86.5 612.7h0.9M86.6 612.3h0.9M87.1 612.7h0.9M87.2 612.3h0.9M86.7 612.3h0.9M87.2 612.6h0.9M86.9 612.3h0.9M86.8 613.5h0.9M86.4 613.2h0.9M87.2 614.2h0.9M86.9 613.3h0.9M86.5 613.5h0.9M86.4 613.5h0.9M87.1 614.9h0.9M87.1 614.6h0.9M87.1 614.3h0.9M87.1 614.9h0.9M86.9 614.8h0.9M86.8 614.6h0.9M87.0 615.2h0.9M87.2 615.2h0.9M86.5 615.9h0.9M86.8 615.5h0.9M86.8 616.1h0.9M87.0 615.6h0.9M88.3 577.8h0.9M87.7 582.1h0.9M88.3 582.0h0.9M88.2 581.5h0.9M87.8 582.2h0.9M87.7 583.9h0.9M87.7 584.5h0.9M88.2 585.0h0.9M88.0 584.8h0.9M87.6 584.5h0.9M88.1 586.1h0.9M87.5 586.1h0.9M87.8 585.3h0.9M87.9 585.4h0.9M87.9 586.7h0.9M87.8 586.7h0.9M87.5 586.6h0.9M87.9 587.0h0.9M88.0 586.3h0.9M87.5 586.7h0.9M88.1 586.5h0.9M88.1 586.4h0.9M87.6 587.1h0.9M87.5 587.0h0.9M87.9 586.2h0.9M87.8 586.7h0.9M87.5 586.6h0.9M87.9 587.9h0.9M88.2 587.3h0.9M88.1 587.4h0.9M88.3 587.5h0.9M88.2 587.4h0.9M88.3 587.7h0.9M87.6 588.1h0.9M87.8 588.5h0.9M87.9 588.9h0.9M87.9 588.2h0.9M87.6 588.5h0.9M87.8 588.5h0.9M87.5 588.4h0.9M87.8 589.1h0.9M87.5 589.2h0.9M88.0 589.6h0.9M87.5 589.5h0.9M88.0 589.3h0.9M87.4 590.0h0.9M88.1 589.2h0.9M87.9 593.6h0.9M88.1 594.3h0.9M87.3 596.0h0.9M88.1 595.6h0.9M87.8 596.6h0.9M87.8 596.5h0.9M88.2 596.6h0.9M87.7 599.1h0.9M88.3 598.6h0.9M87.4 600.1h0.9M87.8 600.8h0.9M87.8 600.7h0.9M87.8 600.6h0.9M87.9 600.6h0.9M87.6 600.6h0.9M87.6 602.1h0.9M87.3 601.5h0.9M87.4 602.2h0.9M87.6 602.6h0.9M88.3 603.1h0.9M87.9 602.9h0.9M88.0 603.0h0.9M87.6 603.6h0.9M87.6 603.8h0.9M87.4 603.5h0.9M88.3 604.9h0.9M88.1 604.3h0.9M87.7 604.5h0.9M88.2 605.0h0.9M87.5 605.2h0.9M88.3 605.2h0.9M88.2 605.9h0.9M87.6 605.4h0.9M87.4 606.5h0.9M88.3 607.0h0.9M88.0 607.2h0.9M88.2 608.2h0.9M88.1 607.5h0.9M87.9 607.3h0.9M87.8 608.0h0.9M87.5 607.4h0.9M87.7 607.6h0.9M87.7 607.5h0.9M87.4 607.8h0.9M87.8 607.8h0.9M87.4 608.7h0.9M87.4 609.1h0.9M88.1 608.3h0.9M87.5 608.9h0.9M87.9 608.6h0.9M87.7 608.4h0.9M87.7 608.3h0.9M87.4 608.4h0.9M87.5 609.6h0.9M87.7 610.3h0.9M88.0 610.6h0.9M87.8 610.4h0.9M88.3 610.5h0.9M87.5 610.6h0.9M87.6 610.4h0.9M88.0 610.6h0.9M88.2 612.2h0.9M87.9 612.0h0.9M87.4 614.0h0.9M88.0 613.5h0.9M87.9 613.7h0.9M87.6 613.7h0.9M88.3 614.4h0.9M87.9 616.1h0.9M87.5 615.7h0.9M87.7 615.3h0.9M88.1 615.4h0.9M87.5 615.3h0.9M88.1 615.9h0.9M87.7 615.7h0.9M87.7 615.7h0.9M88.3 581.7h0.9M88.9 582.5h0.9M88.5 583.6h0.9M89.3 583.2h0.9M88.8 585.0h0.9M88.7 585.2h0.9M89.3 585.7h0.9M89.3 585.8h0.9M88.7 585.4h0.9M88.8 586.3h0.9M88.8 586.7h0.9M88.5 586.7h0.9M89.3 587.1h0.9M88.4 588.1h0.9M88.3 587.7h0.9M89.3 587.8h0.9M88.3 587.5h0.9M89.1 587.9h0.9M88.5 588.3h0.9M88.6 588.6h0.9M88.8 589.4h0.9M88.4 589.5h0.9M89.0 589.8h0.9M89.0 591.1h0.9M89.1 592.2h0.9M88.5 593.1h0.9M88.4 595.1h0.9M89.2 594.3h0.9M88.7 596.4h0.9M89.3 596.8h0.9M88.6 597.1h0.9M89.2 596.7h0.9M89.3 597.4h0.9M89.0 598.0h0.9M88.4 598.7h0.9M89.2 598.5h0.9M89.0 600.0h0.9M89.3 599.6h0.9M89.2 601.0h0.9M88.9 600.5h0.9M89.1 600.3h0.9M89.1 600.6h0.9M88.8 601.3h0.9M88.6 601.8h0.9M88.5 602.1h0.9M88.6 602.6h0.9M88.5 602.5h0.9M89.0 604.2h0.9M89.3 604.2h0.9M88.8 603.9h0.9M89.3 603.9h0.9M89.2 604.1h0.9M88.9 604.1h0.9M88.7 604.0h0.9M88.8 603.4h0.9M89.2 604.2h0.9M89.1 605.1h0.9M88.5 604.2h0.9M89.2 604.5h0.9M88.9 605.1h0.9M88.5 604.7h0.9M88.4 605.1h0.9M88.6 605.9h0.9M89.2 605.7h0.9M89.0 605.7h0.9M88.9 605.5h0.9M88.5 606.1h0.9M88.9 605.5h0.9M88.6 605.5h0.9M88.7 606.2h0.9M89.2 606.5h0.9M89.1 607.1h0.9M88.7 606.5h0.9M89.0 607.6h0.9M89.1 608.0h0.9M88.6 607.7h0.9M88.4 607.5h0.9M88.9 608.0h0.9M88.5 608.0h0.9M89.1 608.9h0.9M88.6 609.2h0.9M89.2 608.6h0.9M88.5 609.0h0.9M89.0 609.3h0.9M88.7 609.6h0.9M88.9 610.0h0.9M88.8 610.2h0.9M88.5 609.9h0.9M88.7 609.4h0.9M88.9 610.2h0.9M89.2 611.1h0.9M89.0 610.7h0.9M89.2 611.2h0.9M88.9 610.3h0.9M88.8 610.4h0.9M88.8 610.8h0.9M89.0 611.7h0.9M89.1 612.2h0.9M88.8 612.7h0.9M88.4 612.5h0.9M89.0 613.1h0.9M88.4 612.5h0.9M88.8 612.6h0.9M88.6 612.4h0.9M88.6 612.3h0.9M88.6 612.3h0.9M88.8 613.6h0.9M89.3 613.4h0.9M88.4 613.4h0.9M89.3 613.8h0.9M89.1 613.7h0.9M89.0 613.6h0.9M88.9 613.9h0.9M89.1 614.1h0.9M88.8 614.4h0.9M88.9 614.5h0.9M89.2 614.3h0.9M89.2 615.2h0.9M88.7 615.0h0.9M88.6 615.3h0.9M88.5 616.1h0.9M88.8 616.1h0.9M89.7 579.7h0.9M89.7 584.1h0.9M90.1 585.4h0.9M90.3 586.7h0.9M89.5 586.7h0.9M89.8 586.3h0.9M89.4 586.7h0.9M90.1 588.0h0.9M89.9 588.1h0.9M89.7 587.6h0.9M89.8 589.8h0.9M89.4 589.7h0.9M90.2 589.3h0.9M89.7 591.6h0.9M89.6 592.5h0.9M90.2 592.8h0.9M89.9 592.3h0.9M89.6 593.2h0.9M90.2 593.4h0.9M89.6 596.2h0.9M89.7 595.9h0.9M89.6 596.4h0.9M89.4 596.7h0.9M90.3 596.9h0.9M90.1 598.0h0.9M89.6 599.0h0.9M89.4 599.9h0.9M89.6 600.1h0.9M89.9 599.9h0.9M90.0 600.1h0.9M89.7 601.0h0.9M89.9 600.8h0.9M89.4 600.4h0.9M89.5 600.3h0.9M90.0 601.3h0.9M90.3 601.2h0.9M89.4 601.9h0.9M89.7 601.8h0.9M90.1 602.8h0.9M90.2 602.3h0.9M89.6 602.2h0.9M89.4 602.7h0.9M89.5 604.1h0.9M89.9 603.6h0.9M90.3 604.8h0.9M90.1 605.1h0.9M89.4 604.3h0.9M89.7 606.0h0.9M89.9 605.9h0.9M89.4 606.5h0.9M89.4 606.3h0.9M90.1 606.7h0.9M89.7 606.9h0.9M89.6 607.1h0.9M89.6 606.4h0.9M89.6 607.2h0.9M90.2 606.4h0.9M89.9 607.4h0.9M89.9 607.9h0.9M89.8 608.1h0.9M90.2 607.4h0.9M89.7 608.3h0.9M90.3 610.0h0.9M89.7 609.7h0.9M89.4 609.3h0.9M89.5 610.4h0.9M89.6 611.1h0.9M89.6 610.9h0.9M89.4 612.0h0.9M90.3 611.6h0.9M90.2 612.1h0.9M89.6 612.0h0.9M90.1 611.9h0.9M89.6 611.3h0.9M89.7 611.5h0.9M89.9 611.6h0.9M90.0 612.5h0.9M90.2 613.1h0.9M89.8 612.5h0.9M90.3 613.5h0.9M89.7 614.0h0.9M89.6 613.9h0.9M89.3 613.6h0.9M89.4 614.0h0.9M89.6 615.0h0.9M90.0 614.6h0.9M89.5 614.4h0.9M89.9 615.8h0.9M89.4 615.2h0.9M89.9 615.6h0.9M90.2 615.4h0.9M89.7 615.5h0.9M90.5 580.5h0.9M90.7 582.6h0.9M90.4 583.4h0.9M90.5 586.2h0.9M90.3 585.4h0.9M91.0 585.8h0.9M90.6 586.5h0.9M90.8 586.3h0.9M90.9 588.1h0.9M91.1 588.2h0.9M90.6 588.5h0.9M90.8 589.5h0.9M91.1 589.2h0.9M90.5 591.0h0.9M91.2 591.7h0.9M90.6 593.8h0.9M90.4 595.8h0.9M90.8 595.2h0.9M91.0 596.4h0.9M91.0 598.8h0.9M90.4 598.4h0.9M90.8 599.2h0.9M91.0 600.0h0.9M91.3 600.7h0.9M90.9 600.8h0.9M90.5 600.6h0.9M90.8 601.0h0.9M90.9 600.5h0.9M90.5 601.5h0.9M91.1 602.3h0.9M90.9 603.1h0.9M90.9 602.4h0.9M90.5 603.0h0.9M91.1 603.9h0.9M91.0 603.2h0.9M90.7 603.7h0.9M90.7 604.8h0.9M90.8 604.5h0.9M90.6 605.5h0.9M90.6 605.6h0.9M91.3 606.3h0.9M90.6 606.9h0.9M91.0 606.5h0.9M91.0 607.4h0.9M90.9 608.1h0.9M91.0 608.1h0.9M90.7 607.5h0.9M90.9 607.6h0.9M90.4 608.4h0.9M90.4 608.9h0.9M90.5 608.5h0.9M90.5 609.4h0.9M91.0 609.7h0.9M91.3 609.4h0.9M91.0 609.6h0.9M90.6 609.9h0.9M90.7 609.4h0.9M90.7 610.3h0.9M90.5 610.4h0.9M90.4 610.7h0.9M91.0 611.1h0.9M90.5 611.4h0.9M91.2 611.9h0.9M90.4 611.4h0.9M90.6 612.7h0.9M90.7 613.0h0.9M90.5 613.1h0.9M90.9 612.6h0.9M91.3 612.5h0.9M91.3 614.0h0.9M90.6 614.0h0.9M90.4 613.6h0.9M90.9 613.5h0.9M90.3 613.8h0.9M90.9 613.9h0.9M90.5 613.3h0.9M90.4 613.7h0.9M91.0 615.3h0.9M90.8 615.6h0.9M92.1 582.2h0.9M92.0 584.7h0.9M91.6 585.4h0.9M91.6 586.4h0.9M91.9 586.9h0.9M91.8 588.6h0.9M91.7 593.2h0.9M92.0 595.5h0.9M91.9 598.9h0.9M91.5 598.4h0.9M91.8 599.0h0.9M92.2 599.9h0.9M91.9 602.9h0.9M92.2 602.9h0.9M91.8 603.3h0.9M91.9 603.9h0.9M91.8 603.6h0.9M92.1 605.8h0.9M91.9 606.6h0.9M92.2 606.8h0.9M91.9 606.8h0.9M92.1 607.2h0.9M91.5 607.2h0.9M91.6 607.7h0.9M91.8 607.6h0.9M91.6 607.2h0.9M92.3 607.5h0.9M91.7 608.4h0.9M91.4 609.0h0.9M91.8 608.4h0.9M91.4 609.8h0.9M91.9 610.2h0.9M91.6 609.3h0.9M91.9 609.9h0.9M92.2 610.8h0.9M91.6 610.6h0.9M92.2 612.0h0.9M92.0 613.1h0.9M91.6 613.0h0.9M91.6 613.2h0.9M92.0 613.5h0.9M91.6 614.8h0.9M91.6 614.7h0.9M91.4 616.0h0.9M92.3 615.5h0.9M93.2 582.8h0.9M92.7 587.8h0.9M93.2 587.3h0.9M93.3 587.4h0.9M93.3 592.0h0.9M93.0 593.2h0.9M93.0 594.3h0.9M92.8 597.2h0.9M92.9 598.8h0.9M93.3 598.6h0.9M93.1 598.7h0.9M93.3 599.9h0.9M92.5 600.1h0.9M92.5 601.6h0.9M92.4 602.1h0.9M92.8 602.2h0.9M92.4 601.7h0.9M92.9 601.6h0.9M93.0 601.5h0.9M92.4 602.1h0.9M92.9 601.5h0.9M92.6 602.7h0.9M93.3 603.6h0.9M92.5 603.7h0.9M92.5 603.4h0.9M92.3 605.2h0.9M93.2 604.8h0.9M93.3 605.4h0.9M92.8 605.8h0.9M92.7 605.8h0.9M92.9 606.1h0.9M92.8 605.6h0.9M92.9 605.2h0.9M92.5 608.7h0.9M92.9 608.9h0.9M92.5 609.1h0.9M92.9 609.2h0.9M93.2 610.9h0.9M92.4 610.8h0.9M92.6 611.0h0.9M92.4 610.9h0.9M92.6 612.0h0.9M93.2 612.8h0.9M92.7 612.2h0.9M92.9 613.3h0.9M93.3 614.0h0.9M93.3 615.1h0.9M93.0 614.3h0.9M92.8 614.8h0.9M92.6 615.4h0.9M93.3 615.4h0.9M93.9 581.1h0.9M93.4 583.9h0.9M93.9 585.3h0.9M93.6 588.7h0.9M93.4 590.1h0.9M93.7 591.5h0.9M93.8 591.7h0.9M93.5 593.8h0.9M94.1 596.3h0.9M94.0 597.9h0.9M94.5 584.3h0.9M94.9 585.6h0.9M94.7 588.6h0.9M94.7 589.9h0.9M95.0 590.2h0.9M94.6 589.2h0.9M95.3 591.4h0.9M95.3 592.6h0.9M94.8 593.3h0.9M94.4 595.2h0.9M95.0 596.7h0.9M94.5 596.2h0.9M95.1 597.1h0.9M94.6 600.0h0.9M94.9 600.8h0.9M95.0 605.9h0.9M94.4 610.4h0.9M94.9 611.5h0.9" stroke="#111" stroke-width="0.9" fill="none"/>
<line x1="23.20" y1="566.60" x2="23.20" y2="616.70" stroke="#1a1a1a" stroke-width="1.2" />
<line x1="23.20" y1="566.60" x2="96.90" y2="566.60" stroke="#1a1a1a" stroke-width="1.0" />
<line x1="96.60" y1="566.60" x2="96.60" y2="616.40" stroke="#777" stroke-width="0.6" />
<rect x="77.50" y="577.00" width="19.00" height="19.20" fill="none" stroke="#222" stroke-width="0.9"/>
<line x1="23.20" y1="570.00" x2="24.80" y2="570.00" stroke="#1a1a1a" stroke-width="0.6" />
<line x1="23.20" y1="577.00" x2="24.80" y2="577.00" stroke="#1a1a1a" stroke-width="0.6" />
<line x1="23.20" y1="584.00" x2="24.80" y2="584.00" stroke="#1a1a1a" stroke-width="0.6" />
<line x1="23.20" y1="591.00" x2="24.80" y2="591.00" stroke="#1a1a1a" stroke-width="0.6" />
<line x1="23.20" y1="598.00" x2="24.80" y2="598.00" stroke="#1a1a1a" stroke-width="0.6" />
<line x1="23.20" y1="605.00" x2="24.80" y2="605.00" stroke="#1a1a1a" stroke-width="0.6" />
<line x1="23.20" y1="612.00" x2="24.80" y2="612.00" stroke="#1a1a1a" stroke-width="0.6" />
<path d="M24.1 670.1h0.9M23.5 670.0h0.9M23.4 670.9h0.9M23.8 672.6h0.9M24.1 672.4h0.9M23.4 673.5h0.9M24.0 672.8h0.9M23.4 673.8h0.9M24.1 674.4h0.9M23.7 675.5h0.9M23.6 676.5h0.9M23.7 677.2h0.9M23.4 677.3h0.9M24.3 679.4h0.9M23.7 678.8h0.9M23.9 680.0h0.9M23.5 680.1h0.9M23.5 680.2h0.9M24.2 681.4h0.9M24.1 682.1h0.9M23.9 683.6h0.9M23.6 683.7h0.9M24.2 685.2h0.9M24.2 685.0h0.9M23.6 685.2h0.9M23.5 685.7h0.9M24.2 688.4h0.9M23.6 689.7h0.9M24.0 690.2h0.9M23.9 689.8h0.9M23.6 690.0h0.9M23.8 690.0h0.9M23.7 691.3h0.9M24.0 691.4h0.9M24.0 690.8h0.9M23.9 692.0h0.9M23.9 692.1h0.9M23.7 691.9h0.9M24.3 692.7h0.9M23.6 692.2h0.9M24.2 692.9h0.9M23.8 693.4h0.9M23.8 694.5h0.9M23.4 694.0h0.9M24.0 693.8h0.9M24.1 694.1h0.9M24.2 693.9h0.9M24.2 695.7h0.9M23.5 695.2h0.9M23.9 695.3h0.9M23.4 695.3h0.9M24.3 695.2h0.9M23.5 695.0h0.9M24.2 695.1h0.9M23.9 695.9h0.9M23.5 697.2h0.9M23.5 697.3h0.9M23.7 697.6h0.9M23.5 697.8h0.9M23.9 698.2h0.9M24.3 699.6h0.9M23.6 698.9h0.9M24.0 700.0h0.9M23.8 700.8h0.9M24.6 656.9h0.9M25.0 668.5h0.9M24.7 670.2h0.9M24.6 672.4h0.9M24.8 674.6h0.9M24.4 676.3h0.9M25.0 677.6h0.9M24.5 677.4h0.9M24.6 677.1h0.9M24.7 679.5h0.9M24.9 680.5h0.9M25.3 680.7h0.9M25.1 681.2h0.9M24.4 682.5h0.9M25.2 683.3h0.9M24.9 683.7h0.9M25.2 685.1h0.9M24.9 685.0h0.9M24.6 686.1h0.9M24.6 686.7h0.9M25.3 685.8h0.9M25.2 687.5h0.9M25.0 687.2h0.9M25.1 687.6h0.9M24.5 686.7h0.9M25.2 688.6h0.9M24.4 689.4h0.9M24.4 688.8h0.9M25.2 690.6h0.9M24.5 690.8h0.9M24.4 691.0h0.9M24.9 690.8h0.9M24.7 692.6h0.9M25.1 692.4h0.9M24.6 691.9h0.9M24.7 692.9h0.9M24.4 693.0h0.9M24.7 693.8h0.9M24.6 694.2h0.9M24.7 694.0h0.9M25.1 694.4h0.9M25.3 694.2h0.9M24.9 694.3h0.9M24.9 695.2h0.9M24.5 695.1h0.9M25.3 695.0h0.9M24.5 695.4h0.9M24.8 695.3h0.9M24.5 695.2h0.9M24.4 696.0h0.9M24.4 695.7h0.9M25.1 696.5h0.9M24.3 695.9h0.9M24.5 696.1h0.9M24.9 696.9h0.9M24.7 697.4h0.9M24.3 698.4h0.9M25.1 698.4h0.9M24.9 698.1h0.9M24.4 698.1h0.9M25.1 699.3h0.9M25.1 700.3h0.9M24.9 699.8h0.9M24.8 700.6h0.9M25.0 700.6h0.9M24.7 701.5h0.9M24.7 702.1h0.9M24.7 702.2h0.9M25.9 662.0h0.9M26.3 674.2h0.9M25.9 673.8h0.9M26.1 674.0h0.9M25.8 675.1h0.9M25.8 676.2h0.9M25.6 676.1h0.9M25.4 675.9h0.9M25.9 677.4h0.9M25.5 680.3h0.9M25.8 681.1h0.9M26.3 680.8h0.9M25.8 681.5h0.9M26.1 682.6h0.9M26.2 682.8h0.9M25.4 685.3h0.9M26.1 685.0h0.9M26.1 685.1h0.9M25.8 685.4h0.9M26.0 686.5h0.9M26.1 686.3h0.9M26.0 687.5h0.9M25.8 687.0h0.9M25.7 686.9h0.9M26.1 687.2h0.9M25.4 687.8h0.9M25.8 687.8h0.9M26.0 687.9h0.9M26.3 688.3h0.9M26.0 690.6h0.9M25.7 690.5h0.9M26.3 690.7h0.9M26.0 691.6h0.9M25.7 691.5h0.9M25.4 691.8h0.9M25.7 692.1h0.9M26.0 692.7h0.9M26.3 691.8h0.9M25.4 693.6h0.9M26.0 693.2h0.9M25.4 694.4h0.9M25.4 694.2h0.9M25.5 693.8h0.9M25.4 694.1h0.9M25.5 695.1h0.9M26.3 694.8h0.9M26.2 695.5h0.9M25.8 695.4h0.9M26.2 696.4h0.9M26.3 695.8h0.9M25.9 696.4h0.9M26.0 697.1h0.9M26.1 697.6h0.9M26.2 698.5h0.9M25.4 698.7h0.9M25.7 699.1h0.9M25.4 698.9h0.9M26.2 699.4h0.9M26.3 700.6h0.9M25.9 700.7h0.9M25.7 700.9h0.9M25.4 701.4h0.9M26.1 702.3h0.9M26.7 667.7h0.9M27.2 673.6h0.9M27.1 674.6h0.9M26.6 676.0h0.9M26.5 678.0h0.9M27.1 678.0h0.9M26.7 678.6h0.9M26.9 678.1h0.9M26.5 679.3h0.9M26.5 680.4h0.9M26.6 679.8h0.9M26.6 680.1h0.9M27.0 681.1h0.9M26.4 682.6h0.9M27.3 682.6h0.9M26.4 681.9h0.9M26.6 681.9h0.9M26.6 681.8h0.9M27.2 683.3h0.9M27.2 683.0h0.9M26.9 683.3h0.9M27.1 685.2h0.9M26.5 685.7h0.9M26.6 686.7h0.9M27.1 685.8h0.9M27.0 685.8h0.9M26.8 687.7h0.9M26.4 687.1h0.9M27.3 688.4h0.9M26.6 687.9h0.9M26.8 688.4h0.9M27.1 688.0h0.9M26.5 687.8h0.9M26.3 689.1h0.9M26.5 689.9h0.9M27.1 690.4h0.9M27.0 690.5h0.9M26.5 690.7h0.9M26.3 691.5h0.9M26.5 691.7h0.9M27.2 691.0h0.9M26.6 692.0h0.9M26.7 692.6h0.9M26.9 692.3h0.9M27.1 691.8h0.9M26.9 692.5h0.9M26.4 692.6h0.9M27.3 693.1h0.9M26.6 694.4h0.9M26.7 694.2h0.9M26.7 694.5h0.9M26.9 694.1h0.9M27.0 695.6h0.9M26.4 695.0h0.9M27.1 695.4h0.9M26.9 695.4h0.9M26.7 695.9h0.9M27.3 695.8h0.9M26.7 696.1h0.9M27.0 695.7h0.9M27.0 695.7h0.9M26.5 696.1h0.9M26.5 697.0h0.9M26.4 697.5h0.9M26.9 697.5h0.9M27.3 698.0h0.9M27.0 698.5h0.9M26.7 699.0h0.9M26.8 699.3h0.9M27.0 699.5h0.9M27.0 699.0h0.9M26.7 700.6h0.9M26.7 699.9h0.9M26.4 700.4h0.9M26.5 702.2h0.9M27.3 668.5h0.9M28.0 674.7h0.9M27.4 673.9h0.9M27.4 676.7h0.9M28.0 677.2h0.9M28.3 678.4h0.9M27.4 679.6h0.9M27.8 678.9h0.9M27.5 680.1h0.9M28.3 679.8h0.9M27.8 680.8h0.9M28.1 681.0h0.9M27.4 681.7h0.9M28.1 682.9h0.9M28.0 683.1h0.9M28.3 683.6h0.9M27.7 683.8h0.9M27.5 683.7h0.9M28.0 685.6h0.9M27.9 686.1h0.9M28.3 685.7h0.9M28.3 686.0h0.9M28.0 686.4h0.9M27.8 686.5h0.9M28.3 687.5h0.9M27.9 687.3h0.9M27.6 687.9h0.9M28.2 689.2h0.9M28.2 688.9h0.9M27.4 690.3h0.9M27.4 690.6h0.9M27.6 690.0h0.9M27.7 690.2h0.9M28.3 689.8h0.9M27.7 691.1h0.9M27.5 690.8h0.9M28.3 691.4h0.9M27.4 691.5h0.9M27.7 691.1h0.9M28.1 691.0h0.9M28.1 692.3h0.9M27.7 692.6h0.9M27.9 692.7h0.9M27.5 692.5h0.9M27.9 692.8h0.9M27.4 692.8h0.9M27.4 693.0h0.9M28.1 693.3h0.9M28.2 694.0h0.9M28.0 694.6h0.9M27.8 694.0h0.9M27.4 694.4h0.9M28.0 694.4h0.9M27.4 694.0h0.9M27.6 695.6h0.9M28.2 695.3h0.9M28.3 696.0h0.9M28.3 696.0h0.9M27.4 696.0h0.9M28.2 696.6h0.9M27.9 697.1h0.9M27.6 697.6h0.9M28.0 697.2h0.9M28.3 696.9h0.9M27.5 697.7h0.9M27.4 697.4h0.9M28.3 698.4h0.9M28.0 699.5h0.9M27.7 700.2h0.9M27.5 701.2h0.9M27.5 701.4h0.9M27.9 701.9h0.9M27.4 702.2h0.9M28.9 671.1h0.9M28.9 675.9h0.9M29.3 676.7h0.9M29.3 677.7h0.9M29.1 677.9h0.9M29.2 678.5h0.9M29.0 678.5h0.9M28.7 678.5h0.9M29.3 678.3h0.9M28.7 679.4h0.9M28.3 680.2h0.9M29.2 680.7h0.9M29.1 682.3h0.9M29.0 681.8h0.9M28.5 682.6h0.9M28.6 683.8h0.9M28.6 684.3h0.9M28.5 684.1h0.9M28.8 684.0h0.9M29.0 684.6h0.9M29.2 685.6h0.9M28.4 684.7h0.9M28.5 686.5h0.9M28.8 686.3h0.9M29.3 687.6h0.9M29.3 687.7h0.9M28.7 688.0h0.9M29.1 688.1h0.9M28.4 688.1h0.9M28.6 690.2h0.9M28.9 690.6h0.9M29.0 690.0h0.9M29.3 690.3h0.9M28.4 690.2h0.9M28.6 690.1h0.9M28.9 690.5h0.9M29.3 690.8h0.9M28.9 690.9h0.9M28.9 690.9h0.9M28.9 690.9h0.9M29.3 691.6h0.9M28.8 690.9h0.9M29.0 692.0h0.9M28.5 691.9h0.9M28.4 692.6h0.9M28.5 691.8h0.9M28.6 691.7h0.9M29.3 693.5h0.9M29.0 692.8h0.9M29.1 693.5h0.9M29.3 693.1h0.9M28.7 693.6h0.9M28.8 693.4h0.9M29.1 692.9h0.9M28.9 693.5h0.9M28.3 694.4h0.9M29.1 694.1h0.9M28.5 694.1h0.9M28.5 694.3h0.9M28.8 695.6h0.9M29.0 694.8h0.9M28.4 695.8h0.9M29.2 696.1h0.9M28.7 695.8h0.9M28.3 697.1h0.9M28.9 697.2h0.9M29.1 697.1h0.9M28.8 696.9h0.9M28.7 696.9h0.9M28.5 698.5h0.9M29.2 697.9h0.9M28.5 698.3h0.9M28.4 698.2h0.9M28.4 699.2h0.9M28.8 699.1h0.9M28.8 699.0h0.9M28.8 700.0h0.9M29.0 700.5h0.9M29.0 701.6h0.9M29.2 701.1h0.9M28.5 701.2h0.9M28.5 701.0h0.9M30.1 674.6h0.9M29.7 674.4h0.9M30.0 676.1h0.9M29.9 679.7h0.9M29.4 680.3h0.9M29.7 680.4h0.9M29.6 680.0h0.9M29.8 681.6h0.9M29.4 681.5h0.9M29.8 680.8h0.9M30.0 681.7h0.9M29.9 681.8h0.9M29.7 682.7h0.9M29.5 683.2h0.9M29.6 683.2h0.9M30.3 684.3h0.9M30.3 685.1h0.9M29.4 686.6h0.9M30.1 686.7h0.9M30.0 686.1h0.9M29.8 687.6h0.9M30.1 687.7h0.9M29.4 687.7h0.9M29.5 688.3h0.9M29.7 688.3h0.9M30.2 688.0h0.9M29.4 689.6h0.9M30.3 689.1h0.9M29.5 688.8h0.9M29.7 688.9h0.9M29.7 689.0h0.9M29.4 690.2h0.9M29.6 690.0h0.9M30.2 690.7h0.9M29.8 690.6h0.9M29.4 691.4h0.9M29.9 691.0h0.9M29.6 691.4h0.9M30.1 690.8h0.9M29.7 691.0h0.9M29.6 691.5h0.9M29.3 691.0h0.9M30.1 690.8h0.9M29.8 691.7h0.9M29.8 691.7h0.9M29.4 692.2h0.9M30.2 692.1h0.9M29.8 691.8h0.9M29.9 692.6h0.9M29.8 693.6h0.9M30.1 693.3h0.9M29.5 693.4h0.9M29.7 694.0h0.9M29.7 694.2h0.9M29.9 695.3h0.9M30.0 695.4h0.9M30.1 694.8h0.9M29.6 695.0h0.9M30.0 695.6h0.9M29.6 696.2h0.9M30.2 696.4h0.9M29.4 697.0h0.9M30.0 697.4h0.9M29.5 697.0h0.9M30.3 697.3h0.9M30.1 697.7h0.9M29.4 696.8h0.9M29.9 697.9h0.9M29.4 697.8h0.9M30.1 698.7h0.9M30.1 698.6h0.9M29.8 697.8h0.9M30.2 698.2h0.9M29.9 698.4h0.9M29.6 698.6h0.9M29.5 699.4h0.9M30.0 699.2h0.9M30.1 699.2h0.9M29.5 699.0h0.9M29.6 699.1h0.9M29.5 699.8h0.9M29.8 699.8h0.9M29.8 700.8h0.9M29.8 702.5h0.9M30.1 701.8h0.9M30.6 673.8h0.9M30.6 675.0h0.9M30.9 675.2h0.9M30.9 676.8h0.9M31.3 676.9h0.9M30.4 677.2h0.9M31.1 678.3h0.9M30.9 678.8h0.9M31.1 678.9h0.9M30.4 680.2h0.9M30.9 679.9h0.9M30.9 681.0h0.9M30.4 680.7h0.9M31.1 681.7h0.9M30.5 682.7h0.9M31.2 681.7h0.9M30.5 682.7h0.9M31.2 683.6h0.9M30.8 684.3h0.9M31.3 684.6h0.9M31.1 684.2h0.9M30.7 684.7h0.9M30.8 685.6h0.9M30.8 685.4h0.9M30.8 685.6h0.9M31.2 685.0h0.9M30.4 686.1h0.9M31.0 686.6h0.9M30.7 686.4h0.9M30.9 686.6h0.9M31.2 685.7h0.9M30.7 686.7h0.9M30.9 686.7h0.9M30.4 687.3h0.9M31.2 688.5h0.9M30.4 689.4h0.9M30.6 689.3h0.9M31.1 689.2h0.9M30.6 689.6h0.9M30.9 690.3h0.9M30.5 690.4h0.9M30.8 690.6h0.9M30.7 691.2h0.9M31.1 691.6h0.9M30.5 691.0h0.9M30.4 691.2h0.9M30.6 691.0h0.9M30.5 692.0h0.9M31.2 692.2h0.9M31.3 691.7h0.9M30.5 692.6h0.9M30.4 692.3h0.9M30.5 691.8h0.9M30.5 693.7h0.9M31.1 693.2h0.9M30.7 693.0h0.9M30.7 694.6h0.9M31.3 694.4h0.9M30.7 694.7h0.9M31.2 695.2h0.9M30.7 695.3h0.9M30.8 696.6h0.9M31.1 696.6h0.9M30.8 696.7h0.9M30.4 696.5h0.9M31.0 695.7h0.9M31.0 697.1h0.9M30.7 697.5h0.9M31.2 696.7h0.9M30.6 697.2h0.9M30.5 698.7h0.9M30.4 698.0h0.9M31.3 698.5h0.9M30.5 698.1h0.9M31.3 698.0h0.9M31.1 698.0h0.9M30.8 698.6h0.9M31.0 698.1h0.9M30.5 699.0h0.9M30.5 699.4h0.9M31.1 698.7h0.9M31.1 699.5h0.9M30.8 699.7h0.9M30.4 699.8h0.9M31.2 701.4h0.9M30.9 701.0h0.9M30.8 702.3h0.9M31.0 702.2h0.9M30.5 702.4h0.9M31.6 656.5h0.9M32.1 675.1h0.9M31.5 675.2h0.9M31.6 677.2h0.9M31.7 677.4h0.9M31.4 678.8h0.9M31.5 679.2h0.9M31.4 682.5h0.9M31.7 683.1h0.9M31.9 682.9h0.9M32.2 684.4h0.9M31.9 684.1h0.9M31.4 683.8h0.9M32.2 684.2h0.9M31.7 684.6h0.9M31.8 684.0h0.9M32.1 685.4h0.9M32.3 685.1h0.9M31.5 685.7h0.9M31.6 685.5h0.9M31.6 686.3h0.9M32.3 686.3h0.9M31.9 686.1h0.9M31.6 686.5h0.9M31.9 687.7h0.9M31.7 687.8h0.9M32.2 688.4h0.9M32.2 687.7h0.9M32.2 688.9h0.9M31.6 688.7h0.9M31.9 689.3h0.9M31.4 688.8h0.9M31.9 690.3h0.9M31.7 690.3h0.9M31.7 690.4h0.9M31.8 689.8h0.9M31.8 691.4h0.9M31.7 690.7h0.9M31.5 691.1h0.9M31.8 692.3h0.9M31.5 692.6h0.9M31.5 692.4h0.9M31.8 692.5h0.9M31.4 691.8h0.9M31.5 693.3h0.9M31.5 692.7h0.9M31.6 693.1h0.9M31.8 692.9h0.9M31.5 693.5h0.9M32.0 693.8h0.9M32.3 694.6h0.9M32.3 694.4h0.9M31.8 694.3h0.9M32.1 694.6h0.9M31.4 695.3h0.9M31.4 695.5h0.9M31.6 695.1h0.9M32.2 695.4h0.9M31.9 696.2h0.9M31.8 696.3h0.9M31.7 696.5h0.9M32.0 696.0h0.9M32.3 697.1h0.9M31.6 697.3h0.9M31.4 697.1h0.9M32.2 696.7h0.9M31.8 698.3h0.9M31.4 698.4h0.9M31.9 698.3h0.9M31.7 699.5h0.9M31.7 699.3h0.9M32.0 699.1h0.9M31.5 699.4h0.9M31.8 699.2h0.9M31.9 700.5h0.9M32.1 700.5h0.9M31.4 700.6h0.9M31.8 700.0h0.9M31.4 701.4h0.9M32.1 701.4h0.9M31.8 702.3h0.9M31.6 702.6h0.9M32.8 668.8h0.9M32.5 674.0h0.9M32.6 675.0h0.9M32.5 675.9h0.9M33.3 677.2h0.9M32.4 676.8h0.9M33.1 678.4h0.9M32.5 679.2h0.9M32.6 679.5h0.9M32.5 679.2h0.9M32.4 679.7h0.9M32.8 680.1h0.9M32.9 680.8h0.9M32.3 681.1h0.9M32.4 681.9h0.9M32.5 681.8h0.9M32.5 682.7h0.9M33.1 683.3h0.9M32.9 683.3h0.9M32.4 683.3h0.9M32.9 683.6h0.9M32.6 683.9h0.9M32.9 684.0h0.9M32.6 684.4h0.9M32.8 685.4h0.9M33.2 685.5h0.9M33.2 685.3h0.9M32.9 685.8h0.9M33.1 686.9h0.9M32.4 687.0h0.9M33.0 687.3h0.9M32.5 687.8h0.9M33.3 687.9h0.9M32.4 689.4h0.9M33.3 689.4h0.9M32.3 689.4h0.9M32.4 688.9h0.9M32.7 689.4h0.9M32.7 689.0h0.9M33.1 689.7h0.9M32.9 690.0h0.9M33.0 689.9h0.9M32.8 690.4h0.9M32.5 690.9h0.9M32.7 690.7h0.9M32.5 691.1h0.9M33.1 691.7h0.9M32.8 691.8h0.9M32.8 692.6h0.9M32.8 692.1h0.9M32.4 693.5h0.9M32.6 692.8h0.9M32.7 692.9h0.9M33.0 692.7h0.9M33.2 693.3h0.9M32.4 693.4h0.9M32.7 693.3h0.9M32.6 692.9h0.9M33.2 693.8h0.9M32.5 694.0h0.9M33.0 694.1h0.9M32.7 693.9h0.9M33.1 694.4h0.9M33.0 694.6h0.9M32.4 694.5h0.9M33.1 694.2h0.9M32.4 695.5h0.9M33.2 695.5h0.9M32.9 695.3h0.9M32.4 695.4h0.9M32.6 695.5h0.9M32.4 694.9h0.9M32.9 695.7h0.9M32.8 696.3h0.9M32.9 695.7h0.9M32.9 696.6h0.9M32.7 696.0h0.9M33.0 696.9h0.9M33.0 696.8h0.9M32.8 697.3h0.9M33.0 697.0h0.9M32.9 697.6h0.9M32.5 697.7h0.9M33.0 698.3h0.9M32.4 698.7h0.9M33.3 699.0h0.9M32.7 699.2h0.9M32.6 699.6h0.9M32.8 698.8h0.9M32.7 699.5h0.9M33.2 698.8h0.9M32.9 700.6h0.9M33.0 700.6h0.9M32.4 701.1h0.9M32.3 701.6h0.9M32.4 701.6h0.9M33.0 702.3h0.9M34.1 669.9h0.9M33.5 676.4h0.9M33.7 676.3h0.9M33.6 676.8h0.9M34.3 677.8h0.9M34.0 679.3h0.9M33.3 679.2h0.9M34.0 679.0h0.9M33.6 678.8h0.9M33.4 681.0h0.9M34.3 682.5h0.9M33.8 681.8h0.9M33.5 683.3h0.9M33.7 684.3h0.9M33.4 683.9h0.9M33.4 684.5h0.9M34.0 683.9h0.9M34.2 683.9h0.9M34.1 685.3h0.9M33.8 686.0h0.9M34.0 686.5h0.9M34.0 685.8h0.9M33.7 686.1h0.9M34.3 686.0h0.9M33.6 685.8h0.9M33.4 686.1h0.9M33.7 686.3h0.9M33.4 686.6h0.9M33.6 686.9h0.9M33.9 687.4h0.9M34.1 687.1h0.9M33.4 686.8h0.9M34.1 688.2h0.9M33.6 688.1h0.9M34.0 689.5h0.9M34.3 689.5h0.9M33.6 688.9h0.9M34.3 689.6h0.9M34.0 688.8h0.9M33.5 689.3h0.9M34.3 689.4h0.9M33.3 690.1h0.9M33.6 690.1h0.9M33.4 690.1h0.9M33.7 690.5h0.9M33.7 690.4h0.9M33.9 690.3h0.9M34.1 690.6h0.9M33.5 690.0h0.9M33.4 690.3h0.9M33.4 690.0h0.9M33.5 690.7h0.9M34.2 691.5h0.9M34.1 691.5h0.9M33.9 690.8h0.9M33.5 691.4h0.9M33.5 691.3h0.9M33.7 691.6h0.9M33.8 691.8h0.9M33.7 692.4h0.9M34.3 691.8h0.9M33.7 692.2h0.9M34.3 692.6h0.9M33.7 693.2h0.9M33.5 692.9h0.9M33.7 692.7h0.9M33.7 693.2h0.9M34.2 694.6h0.9M34.2 693.9h0.9M34.2 694.0h0.9M33.7 694.0h0.9M34.1 694.3h0.9M33.5 694.0h0.9M33.9 694.5h0.9M33.6 695.1h0.9M34.3 695.1h0.9M33.5 695.1h0.9M33.6 695.4h0.9M33.5 695.4h0.9M33.8 695.1h0.9M33.9 695.7h0.9M34.0 696.6h0.9M33.4 696.0h0.9M33.4 696.2h0.9M34.3 697.5h0.9M33.9 697.3h0.9M33.6 696.9h0.9M33.8 697.0h0.9M33.3 697.6h0.9M33.5 697.7h0.9M33.8 697.0h0.9M33.7 696.8h0.9M33.9 697.0h0.9M33.7 699.1h0.9M33.8 699.0h0.9M33.9 699.5h0.9M34.2 699.1h0.9M33.9 698.8h0.9M33.3 700.0h0.9M33.7 700.2h0.9M33.7 700.7h0.9M33.9 700.7h0.9M34.0 701.0h0.9M34.0 701.2h0.9M33.9 701.7h0.9M33.9 702.1h0.9M34.1 702.4h0.9M34.0 702.7h0.9M34.9 675.3h0.9M34.8 676.5h0.9M35.1 678.4h0.9M35.1 678.4h0.9M34.4 679.3h0.9M34.7 679.0h0.9M35.2 678.9h0.9M34.5 680.5h0.9M34.7 680.7h0.9M34.7 680.1h0.9M34.5 681.0h0.9M35.1 681.0h0.9M34.7 681.1h0.9M34.3 681.5h0.9M35.0 681.8h0.9M35.3 682.3h0.9M34.9 682.4h0.9M34.9 682.5h0.9M34.6 683.1h0.9M34.7 683.2h0.9M35.3 683.9h0.9M34.4 684.4h0.9M35.1 684.4h0.9M34.7 685.5h0.9M35.2 685.7h0.9M34.9 686.0h0.9M34.6 687.3h0.9M35.3 687.7h0.9M34.8 687.3h0.9M35.0 686.8h0.9M34.6 687.3h0.9M35.2 687.1h0.9M35.1 688.2h0.9M35.2 687.8h0.9M34.8 688.5h0.9M34.5 688.2h0.9M35.2 688.5h0.9M34.5 688.1h0.9M35.2 689.4h0.9M34.4 689.1h0.9M34.5 689.0h0.9M35.1 689.5h0.9M34.3 690.6h0.9M34.4 690.3h0.9M34.9 691.1h0.9M34.4 691.3h0.9M34.9 690.8h0.9M34.8 690.9h0.9M34.7 691.3h0.9M34.6 691.0h0.9M34.7 692.3h0.9M34.9 691.8h0.9M34.8 692.6h0.9M34.6 692.3h0.9M35.3 691.8h0.9M35.0 693.3h0.9M34.4 693.4h0.9M34.8 692.8h0.9M34.7 693.6h0.9M35.0 693.6h0.9M34.5 694.6h0.9M34.4 694.4h0.9M35.3 695.5h0.9M35.0 696.3h0.9M34.4 696.7h0.9M34.5 696.3h0.9M34.6 696.2h0.9M35.1 695.8h0.9M35.0 697.0h0.9M35.0 696.9h0.9M35.3 697.5h0.9M35.1 697.2h0.9M34.9 697.2h0.9M35.0 696.8h0.9M34.8 697.1h0.9M34.5 698.5h0.9M35.0 697.9h0.9M35.0 697.9h0.9M35.1 697.8h0.9M35.2 698.1h0.9M35.2 698.2h0.9M34.5 698.8h0.9M34.7 699.2h0.9M34.9 699.6h0.9M34.4 699.9h0.9M34.5 700.2h0.9M34.9 699.8h0.9M34.9 700.6h0.9M35.2 700.6h0.9M35.2 700.2h0.9M35.3 701.1h0.9M35.8 666.4h0.9M35.4 671.3h0.9M36.0 674.1h0.9M36.0 674.2h0.9M35.3 676.4h0.9M36.1 677.4h0.9M35.4 678.5h0.9M35.6 678.4h0.9M35.5 679.1h0.9M35.4 678.7h0.9M35.7 678.8h0.9M35.9 680.4h0.9M35.4 679.7h0.9M35.5 681.4h0.9M35.8 681.2h0.9M35.8 683.1h0.9M35.6 684.6h0.9M35.7 684.3h0.9M36.1 684.4h0.9M35.5 683.7h0.9M35.6 684.2h0.9M35.5 684.9h0.9M35.8 684.8h0.9M36.2 686.1h0.9M36.0 686.7h0.9M35.8 685.8h0.9M36.0 686.0h0.9M36.0 686.7h0.9M36.3 687.0h0.9M35.6 687.2h0.9M36.3 687.9h0.9M35.7 688.1h0.9M35.4 688.2h0.9M35.5 688.6h0.9M35.5 687.9h0.9M35.5 689.2h0.9M35.6 688.9h0.9M36.3 689.5h0.9M35.6 689.5h0.9M35.5 688.9h0.9M35.6 689.6h0.9M36.2 689.7h0.9M36.3 690.0h0.9M36.2 690.3h0.9M35.3 690.1h0.9M35.8 690.6h0.9M36.0 689.8h0.9M35.7 690.7h0.9M35.8 691.3h0.9M36.2 691.4h0.9M35.9 691.5h0.9M36.1 691.0h0.9M35.4 691.6h0.9M36.1 692.0h0.9M35.4 692.1h0.9M35.7 692.6h0.9M35.5 691.7h0.9M36.3 692.2h0.9M36.3 693.2h0.9M35.9 693.5h0.9M36.0 692.7h0.9M36.0 693.0h0.9M35.9 693.5h0.9M35.4 692.8h0.9M35.3 694.4h0.9M35.5 693.7h0.9M35.8 694.6h0.9M35.4 694.2h0.9M36.2 694.2h0.9M36.3 694.6h0.9M35.4 693.9h0.9M36.1 693.9h0.9M35.8 694.3h0.9M35.4 694.1h0.9M35.4 695.4h0.9M36.1 695.1h0.9M36.0 695.7h0.9M35.6 695.2h0.9M35.7 696.4h0.9M36.1 696.3h0.9M36.3 696.4h0.9M35.8 696.0h0.9M36.3 696.2h0.9M36.0 695.7h0.9M35.5 696.9h0.9M35.9 696.7h0.9M36.0 697.5h0.9M35.5 697.4h0.9M35.5 697.7h0.9M36.0 697.6h0.9M35.6 696.7h0.9M36.0 697.6h0.9M36.0 698.4h0.9M36.1 698.5h0.9M36.3 698.6h0.9M36.0 698.0h0.9M35.8 697.8h0.9M35.7 698.1h0.9M35.7 698.5h0.9M35.4 698.1h0.9M35.6 699.3h0.9M36.0 698.9h0.9M36.3 699.3h0.9M35.3 699.0h0.9M36.0 699.0h0.9M35.9 699.3h0.9M36.3 698.7h0.9M35.4 699.0h0.9M36.2 699.1h0.9M35.7 699.5h0.9M35.8 699.7h0.9M35.8 700.1h0.9M35.3 700.3h0.9M35.7 700.3h0.9M36.2 700.6h0.9M35.7 700.3h0.9M35.5 701.7h0.9M35.9 700.9h0.9M36.2 701.6h0.9M36.2 702.6h0.9M36.2 702.0h0.9M36.7 671.4h0.9M36.8 676.5h0.9M36.7 675.9h0.9M37.0 676.8h0.9M37.1 677.1h0.9M36.5 678.5h0.9M37.3 678.3h0.9M36.5 678.3h0.9M36.6 678.2h0.9M37.0 679.3h0.9M36.5 679.1h0.9M36.6 679.8h0.9M36.5 680.4h0.9M36.7 679.9h0.9M36.6 680.0h0.9M36.7 680.3h0.9M36.5 681.2h0.9M36.6 680.7h0.9M36.7 680.8h0.9M36.8 681.2h0.9M36.5 681.6h0.9M36.4 682.1h0.9M36.9 681.8h0.9M37.2 683.3h0.9M36.8 683.9h0.9M37.3 684.2h0.9M36.6 684.6h0.9M37.2 683.9h0.9M37.0 685.2h0.9M37.2 685.4h0.9M37.2 685.4h0.9M37.0 685.6h0.9M37.2 686.5h0.9M36.6 686.2h0.9M36.5 686.5h0.9M36.9 687.2h0.9M36.6 687.6h0.9M37.0 687.1h0.9M36.9 688.3h0.9M36.7 688.7h0.9M37.3 688.3h0.9M36.8 689.0h0.9M36.4 689.0h0.9M36.7 689.0h0.9M36.4 689.5h0.9M37.2 690.4h0.9M36.8 690.2h0.9M36.9 689.8h0.9M36.5 690.3h0.9M36.9 690.4h0.9M36.4 690.5h0.9M36.4 690.0h0.9M37.0 691.4h0.9M37.2 692.5h0.9M37.1 692.6h0.9M36.6 692.6h0.9M36.9 692.5h0.9M37.0 692.3h0.9M36.4 692.6h0.9M37.0 691.9h0.9M37.3 693.6h0.9M36.5 693.4h0.9M36.4 693.5h0.9M36.7 692.9h0.9M37.2 694.6h0.9M37.1 694.3h0.9M37.1 694.0h0.9M37.0 694.7h0.9M36.5 694.5h0.9M37.3 695.4h0.9M37.1 695.2h0.9M36.5 695.0h0.9M37.1 695.6h0.9M36.5 696.7h0.9M37.0 696.5h0.9M37.3 696.5h0.9M36.9 696.0h0.9M36.7 696.6h0.9M36.4 697.0h0.9M36.9 697.6h0.9M37.2 697.2h0.9M36.5 697.2h0.9M36.6 697.7h0.9M36.3 697.1h0.9M36.6 697.2h0.9M37.3 698.0h0.9M36.8 698.2h0.9M36.7 699.6h0.9M36.4 699.4h0.9M37.1 699.6h0.9M37.0 698.8h0.9M36.5 700.6h0.9M36.9 700.0h0.9M36.8 700.4h0.9M36.6 700.2h0.9M37.1 700.4h0.9M36.4 701.1h0.9M36.6 701.6h0.9M37.0 701.4h0.9M36.9 701.7h0.9M36.8 700.9h0.9M37.3 701.0h0.9M36.5 701.9h0.9M36.7 702.1h0.9M36.5 702.3h0.9M37.2 702.2h0.9M37.1 702.1h0.9M36.7 702.3h0.9M37.6 664.5h0.9M37.3 673.6h0.9M37.8 675.1h0.9M38.3 676.1h0.9M37.9 676.3h0.9M37.5 676.2h0.9M37.4 677.3h0.9M38.2 679.6h0.9M38.0 679.0h0.9M38.2 679.2h0.9M37.7 680.2h0.9M37.4 680.9h0.9M37.8 681.1h0.9M37.4 681.8h0.9M37.3 682.0h0.9M37.4 683.2h0.9M38.3 683.2h0.9M37.6 684.4h0.9M38.0 684.2h0.9M37.8 685.1h0.9M37.6 686.0h0.9M37.9 686.2h0.9M38.2 687.0h0.9M38.1 687.5h0.9M38.2 687.4h0.9M38.2 687.0h0.9M37.6 688.3h0.9M38.0 687.8h0.9M37.4 688.6h0.9M37.4 688.1h0.9M38.0 687.9h0.9M37.6 689.0h0.9M38.2 688.9h0.9M38.1 689.0h0.9M38.3 689.3h0.9M38.3 689.7h0.9M38.2 690.2h0.9M37.9 689.7h0.9M38.2 689.8h0.9M37.9 690.8h0.9M37.9 691.6h0.9M37.9 691.5h0.9M37.7 691.2h0.9M37.7 691.3h0.9M38.0 691.0h0.9M38.0 691.9h0.9M37.3 691.8h0.9M37.5 692.7h0.9M38.3 691.9h0.9M37.8 692.5h0.9M38.1 692.6h0.9M37.7 693.1h0.9M38.2 693.4h0.9M37.7 693.2h0.9M37.7 693.3h0.9M37.7 693.9h0.9M37.8 694.1h0.9M37.6 693.9h0.9M38.0 694.3h0.9M37.6 694.9h0.9M37.9 694.8h0.9M37.9 695.8h0.9M38.0 696.8h0.9M37.7 697.2h0.9M38.1 697.3h0.9M38.1 697.0h0.9M38.2 697.1h0.9M38.1 697.0h0.9M37.6 696.8h0.9M37.6 698.6h0.9M38.0 698.7h0.9M37.7 697.8h0.9M37.8 698.1h0.9M37.8 698.6h0.9M38.1 698.0h0.9M38.0 698.4h0.9M38.0 699.1h0.9M37.3 699.0h0.9M38.3 699.3h0.9M37.7 698.8h0.9M37.4 698.7h0.9M37.5 700.1h0.9M38.2 699.9h0.9M37.4 699.9h0.9M37.8 700.5h0.9M37.6 700.3h0.9M37.7 700.3h0.9M37.6 701.1h0.9M37.4 701.3h0.9M37.8 702.3h0.9M38.0 701.7h0.9M39.3 672.4h0.9M38.7 674.9h0.9M39.2 678.4h0.9M38.4 678.4h0.9M38.6 678.0h0.9M38.7 678.3h0.9M39.0 679.6h0.9M39.0 679.9h0.9M38.9 682.0h0.9M38.5 681.8h0.9M38.9 682.0h0.9M38.5 682.5h0.9M38.4 683.0h0.9M38.3 683.7h0.9M38.6 684.5h0.9M39.1 684.0h0.9M38.5 685.1h0.9M38.7 685.7h0.9M38.7 684.9h0.9M38.5 684.9h0.9M38.9 684.7h0.9M38.6 685.5h0.9M39.1 686.2h0.9M38.4 686.6h0.9M38.7 687.6h0.9M38.6 688.7h0.9M38.8 688.6h0.9M38.4 688.4h0.9M38.9 687.9h0.9M39.0 689.2h0.9M38.4 688.8h0.9M38.5 689.3h0.9M38.7 689.5h0.9M38.5 689.7h0.9M38.4 689.4h0.9M38.9 690.0h0.9M39.2 690.0h0.9M38.9 689.7h0.9M38.5 689.9h0.9M39.2 689.8h0.9M39.1 689.9h0.9M38.9 690.3h0.9M39.3 691.2h0.9M39.1 691.1h0.9M39.3 690.8h0.9M39.2 690.9h0.9M38.9 691.6h0.9M39.1 691.6h0.9M38.4 692.2h0.9M38.7 691.9h0.9M39.0 692.3h0.9M38.9 692.7h0.9M38.5 692.6h0.9M39.0 692.0h0.9M39.3 692.3h0.9M38.3 691.8h0.9M39.0 693.3h0.9M39.2 692.8h0.9M38.9 693.1h0.9M39.2 694.1h0.9M38.6 694.2h0.9M39.2 694.3h0.9M39.1 694.4h0.9M38.7 694.5h0.9M38.9 693.8h0.9M38.5 693.8h0.9M38.8 693.9h0.9M38.7 695.1h0.9M38.5 695.5h0.9M38.8 694.9h0.9M38.6 694.9h0.9M38.8 695.6h0.9M39.3 695.2h0.9M38.9 696.3h0.9M38.4 696.6h0.9M38.9 696.2h0.9M38.5 696.0h0.9M39.3 697.1h0.9M38.6 697.6h0.9M39.0 696.9h0.9M38.6 697.0h0.9M38.4 696.7h0.9M39.3 697.3h0.9M38.5 697.2h0.9M39.2 696.9h0.9M38.6 698.6h0.9M38.6 697.7h0.9M39.1 698.7h0.9M38.7 698.0h0.9M38.8 698.2h0.9M38.7 698.4h0.9M38.7 699.2h0.9M38.4 700.1h0.9M38.4 700.0h0.9M38.4 700.0h0.9M38.5 701.5h0.9M39.1 701.1h0.9M39.1 700.8h0.9M39.2 701.0h0.9M38.8 700.8h0.9M38.9 701.9h0.9M38.8 702.3h0.9M40.0 671.6h0.9M40.0 675.8h0.9M39.4 677.0h0.9M39.6 677.2h0.9M39.8 678.2h0.9M40.2 678.5h0.9M39.7 677.8h0.9M40.3 678.9h0.9M39.9 681.0h0.9M40.0 682.0h0.9M39.7 682.5h0.9M39.5 683.9h0.9M39.6 683.9h0.9M39.9 684.5h0.9M40.2 685.2h0.9M39.6 686.6h0.9M39.7 686.5h0.9M39.5 686.8h0.9M40.2 687.7h0.9M40.2 688.3h0.9M39.7 688.1h0.9M40.2 689.3h0.9M40.2 689.3h0.9M40.2 688.8h0.9M39.7 689.4h0.9M40.3 688.9h0.9M40.0 690.3h0.9M40.0 689.9h0.9M39.4 690.2h0.9M40.3 690.3h0.9M39.6 690.4h0.9M39.4 690.9h0.9M39.5 691.8h0.9M40.2 692.4h0.9M39.7 691.9h0.9M40.3 692.7h0.9M39.9 692.1h0.9M40.2 692.3h0.9M39.5 693.0h0.9M39.6 693.0h0.9M40.2 693.3h0.9M39.3 693.5h0.9M39.5 693.5h0.9M39.6 693.7h0.9M40.0 693.3h0.9M39.6 693.6h0.9M39.4 693.5h0.9M39.9 693.1h0.9M39.8 694.1h0.9M39.5 694.3h0.9M39.4 695.4h0.9M39.5 695.4h0.9M39.7 694.8h0.9M40.3 696.2h0.9M40.1 695.9h0.9M40.3 695.9h0.9M40.0 696.6h0.9M39.6 697.0h0.9M39.6 697.5h0.9M39.5 697.0h0.9M39.5 696.9h0.9M40.2 696.7h0.9M39.4 697.5h0.9M39.8 698.3h0.9M39.3 698.1h0.9M39.5 697.7h0.9M40.1 697.7h0.9M40.0 699.3h0.9M40.3 699.1h0.9M40.2 699.0h0.9M39.7 700.6h0.9M39.7 699.9h0.9M39.6 700.5h0.9M39.9 700.1h0.9M39.5 700.0h0.9M39.6 700.2h0.9M39.4 700.2h0.9M40.2 700.9h0.9M39.7 701.3h0.9M39.4 701.5h0.9M40.1 701.4h0.9M39.5 701.9h0.9M41.0 678.4h0.9M40.8 679.4h0.9M40.7 678.7h0.9M40.9 678.8h0.9M40.7 682.4h0.9M40.8 683.0h0.9M41.2 683.1h0.9M41.1 684.2h0.9M41.0 684.0h0.9M41.0 683.9h0.9M40.6 685.3h0.9M40.6 684.9h0.9M41.0 684.8h0.9M41.2 687.4h0.9M40.5 687.5h0.9M40.9 687.6h0.9M40.4 688.0h0.9M41.1 689.3h0.9M40.9 689.0h0.9M40.9 689.4h0.9M40.5 689.3h0.9M40.9 689.3h0.9M41.0 689.6h0.9M40.7 690.1h0.9M40.5 690.5h0.9M40.9 690.7h0.9M40.8 690.7h0.9M41.3 689.8h0.9M40.9 690.3h0.9M41.2 690.1h0.9M41.1 690.0h0.9M40.4 690.9h0.9M41.2 691.6h0.9M40.6 691.2h0.9M40.7 691.3h0.9M41.3 692.5h0.9M40.9 691.8h0.9M41.3 693.6h0.9M41.0 693.1h0.9M41.2 692.7h0.9M40.6 693.3h0.9M41.2 693.0h0.9M41.0 693.6h0.9M41.1 693.2h0.9M41.0 693.9h0.9M40.5 694.1h0.9M40.8 694.5h0.9M40.6 694.4h0.9M40.4 694.0h0.9M40.6 693.8h0.9M40.9 694.0h0.9M40.8 695.0h0.9M41.3 694.8h0.9M40.4 694.8h0.9M40.7 695.6h0.9M41.3 695.4h0.9M41.3 694.9h0.9M40.9 695.0h0.9M40.9 695.6h0.9M40.4 696.0h0.9M40.8 695.7h0.9M40.7 697.5h0.9M40.4 697.2h0.9M40.5 697.4h0.9M40.5 698.1h0.9M41.3 698.0h0.9M40.8 698.2h0.9M41.2 697.9h0.9M40.9 699.1h0.9M40.7 699.4h0.9M40.4 698.8h0.9M40.5 699.7h0.9M40.5 699.1h0.9M41.0 700.0h0.9M40.9 699.7h0.9M41.2 700.1h0.9M41.0 700.3h0.9M40.9 700.0h0.9M41.0 699.9h0.9M41.2 700.2h0.9M40.4 700.8h0.9M40.9 701.8h0.9M41.7 677.1h0.9M41.9 678.2h0.9M41.6 678.5h0.9M42.1 680.0h0.9M41.9 681.1h0.9M42.1 681.5h0.9M41.9 684.3h0.9M41.4 684.4h0.9M41.4 684.2h0.9M41.8 684.2h0.9M42.0 685.0h0.9M41.8 684.9h0.9M42.3 685.1h0.9M41.9 685.6h0.9M41.8 686.1h0.9M41.9 686.4h0.9M42.2 687.1h0.9M41.4 687.3h0.9M41.9 687.3h0.9M42.0 687.0h0.9M42.1 687.8h0.9M41.9 687.9h0.9M42.0 689.3h0.9M41.6 689.7h0.9M41.8 688.7h0.9M42.0 690.4h0.9M42.0 689.8h0.9M41.6 690.1h0.9M42.1 690.3h0.9M42.0 690.6h0.9M42.0 690.5h0.9M41.6 690.4h0.9M42.2 690.4h0.9M41.6 690.6h0.9M41.7 690.3h0.9M41.7 690.2h0.9M42.1 691.4h0.9M42.0 690.9h0.9M42.2 691.1h0.9M41.8 690.7h0.9M41.5 691.6h0.9M41.6 691.6h0.9M41.5 691.4h0.9M41.9 692.2h0.9M41.6 692.3h0.9M42.0 692.8h0.9M42.2 693.7h0.9M42.0 694.5h0.9M42.1 694.3h0.9M42.0 694.8h0.9M42.1 695.2h0.9M41.8 695.1h0.9M41.7 695.1h0.9M41.8 694.8h0.9M41.8 696.2h0.9M41.7 695.8h0.9M41.8 696.6h0.9M41.8 697.3h0.9M41.8 697.5h0.9M41.8 698.3h0.9M42.0 698.3h0.9M42.0 697.9h0.9M41.8 698.2h0.9M41.4 697.9h0.9M42.0 698.2h0.9M41.8 698.6h0.9M42.2 698.3h0.9M41.9 698.5h0.9M42.3 698.3h0.9M41.6 698.9h0.9M42.2 699.3h0.9M41.9 698.7h0.9M41.5 699.8h0.9M42.1 700.2h0.9M41.6 700.5h0.9M41.8 700.3h0.9M41.6 700.7h0.9M42.1 702.0h0.9M42.1 702.3h0.9M43.0 669.1h0.9M42.5 678.1h0.9M42.5 678.8h0.9M42.4 681.1h0.9M42.9 682.1h0.9M42.5 682.1h0.9M42.4 683.6h0.9M43.3 683.4h0.9M43.2 683.3h0.9M42.5 683.0h0.9M42.7 683.3h0.9M43.0 684.2h0.9M43.0 685.4h0.9M43.3 685.5h0.9M43.1 686.0h0.9M42.8 686.7h0.9M43.0 687.6h0.9M42.5 687.9h0.9M43.0 689.5h0.9M42.4 690.0h0.9M43.0 690.7h0.9M42.4 690.5h0.9M42.5 690.6h0.9M42.8 690.0h0.9M42.8 691.1h0.9M42.7 691.0h0.9M43.2 690.9h0.9M42.4 690.7h0.9M43.0 690.7h0.9M43.2 691.3h0.9M42.6 691.1h0.9M43.2 690.8h0.9M42.9 691.2h0.9M42.9 691.5h0.9M42.4 692.3h0.9M43.1 692.3h0.9M42.4 692.3h0.9M43.2 692.5h0.9M43.0 693.2h0.9M42.4 693.0h0.9M42.3 694.0h0.9M43.1 694.2h0.9M42.5 693.8h0.9M43.0 694.2h0.9M42.4 694.1h0.9M43.2 694.7h0.9M42.5 695.1h0.9M43.1 695.1h0.9M42.5 695.3h0.9M42.8 695.2h0.9M43.1 696.1h0.9M43.0 695.8h0.9M42.6 696.3h0.9M42.6 697.4h0.9M42.3 697.5h0.9M42.9 697.1h0.9M42.8 697.5h0.9M42.6 697.1h0.9M43.2 697.7h0.9M43.1 698.3h0.9M43.0 697.7h0.9M42.4 698.2h0.9M42.6 697.9h0.9M43.2 698.0h0.9M42.5 697.9h0.9M42.6 698.0h0.9M42.4 699.2h0.9M42.6 699.2h0.9M43.0 699.2h0.9M42.9 699.2h0.9M43.3 699.4h0.9M43.0 700.0h0.9M42.6 700.0h0.9M42.6 700.1h0.9M42.7 700.8h0.9M43.2 702.5h0.9M42.6 701.9h0.9M42.8 702.2h0.9M42.9 702.2h0.9M42.5 702.3h0.9M43.3 702.6h0.9M44.0 665.2h0.9M43.7 676.2h0.9M44.2 677.9h0.9M44.2 680.8h0.9M43.4 681.4h0.9M43.8 680.9h0.9M43.7 682.1h0.9M43.9 682.2h0.9M44.1 683.1h0.9M43.6 684.4h0.9M43.9 685.5h0.9M44.3 684.7h0.9M43.9 687.1h0.9M43.7 689.3h0.9M44.2 689.3h0.9M44.1 689.0h0.9M44.1 690.4h0.9M44.2 690.1h0.9M43.6 690.6h0.9M43.4 690.2h0.9M43.6 689.8h0.9M44.0 691.1h0.9M43.4 691.3h0.9M43.4 690.8h0.9M43.5 691.6h0.9M43.3 692.5h0.9M43.6 692.6h0.9M43.4 692.5h0.9M44.2 692.5h0.9M44.1 692.7h0.9M43.9 692.7h0.9M43.5 693.2h0.9M44.2 693.5h0.9M44.0 694.2h0.9M43.7 694.1h0.9M44.1 693.9h0.9M43.9 694.9h0.9M44.1 694.9h0.9M43.9 695.0h0.9M44.0 695.7h0.9M44.1 695.1h0.9M43.8 695.4h0.9M43.5 696.4h0.9M44.3 696.3h0.9M44.2 696.3h0.9M43.7 696.2h0.9M43.5 697.0h0.9M43.4 697.3h0.9M43.5 696.8h0.9M43.4 697.1h0.9M44.3 697.2h0.9M43.8 697.1h0.9M43.3 697.7h0.9M43.6 698.6h0.9M43.9 697.9h0.9M43.9 698.3h0.9M44.1 698.4h0.9M44.0 698.0h0.9M43.6 697.8h0.9M44.0 699.5h0.9M43.9 699.1h0.9M43.5 699.5h0.9M43.5 699.8h0.9M44.2 700.7h0.9M44.2 700.5h0.9M43.9 700.5h0.9M43.9 701.2h0.9M44.2 702.4h0.9M43.6 701.9h0.9M44.8 679.8h0.9M45.2 680.0h0.9M44.6 681.6h0.9M44.8 681.7h0.9M45.1 682.5h0.9M44.6 683.4h0.9M44.5 683.5h0.9M44.9 683.9h0.9M44.6 685.3h0.9M44.6 685.6h0.9M45.0 685.6h0.9M44.4 685.2h0.9M44.4 685.7h0.9M44.4 686.2h0.9M44.5 687.5h0.9M44.7 688.2h0.9M44.5 688.4h0.9M45.2 689.5h0.9M44.8 688.9h0.9M44.4 689.5h0.9M45.3 689.4h0.9M44.5 690.6h0.9M44.6 690.1h0.9M44.4 689.8h0.9M44.7 690.6h0.9M45.1 691.3h0.9M45.0 691.0h0.9M44.8 691.1h0.9M44.8 691.0h0.9M45.1 690.8h0.9M44.7 692.0h0.9M44.5 692.5h0.9M45.0 691.9h0.9M45.0 692.3h0.9M44.3 692.5h0.9M45.0 691.8h0.9M45.2 693.1h0.9M45.0 693.3h0.9M44.7 693.1h0.9M44.3 693.0h0.9M44.4 693.2h0.9M44.7 692.9h0.9M44.3 694.3h0.9M44.6 694.3h0.9M45.0 695.1h0.9M45.1 695.4h0.9M45.0 695.2h0.9M44.8 696.2h0.9M45.2 695.9h0.9M45.3 696.4h0.9M44.9 697.1h0.9M44.6 697.6h0.9M44.9 697.7h0.9M45.0 696.8h0.9M45.2 698.1h0.9M44.8 697.9h0.9M44.7 698.0h0.9M45.2 698.1h0.9M44.4 698.6h0.9M44.4 698.9h0.9M45.1 699.4h0.9M44.9 698.9h0.9M44.8 700.2h0.9M44.9 700.1h0.9M44.4 700.6h0.9M45.2 700.6h0.9M44.4 701.5h0.9M44.6 701.0h0.9M44.8 701.4h0.9M45.0 701.6h0.9M44.8 702.6h0.9M45.0 702.2h0.9M44.9 701.8h0.9M45.3 701.9h0.9M44.7 702.0h0.9M44.3 701.7h0.9M45.6 678.9h0.9M46.0 678.7h0.9M46.1 680.8h0.9M45.8 681.5h0.9M46.2 681.5h0.9M45.9 681.4h0.9M45.4 682.2h0.9M45.5 681.8h0.9M45.6 684.1h0.9M46.2 685.2h0.9M46.1 685.2h0.9M45.9 686.4h0.9M45.8 686.9h0.9M45.8 686.8h0.9M46.3 687.7h0.9M45.5 686.8h0.9M46.1 687.9h0.9M45.8 688.6h0.9M45.5 688.1h0.9M46.3 689.0h0.9M46.1 690.3h0.9M46.3 690.4h0.9M46.2 691.1h0.9M46.2 691.9h0.9M46.3 692.4h0.9M45.5 692.5h0.9M46.3 692.4h0.9M45.8 691.9h0.9M45.5 692.2h0.9M45.7 691.9h0.9M45.5 693.0h0.9M46.1 693.1h0.9M46.0 693.1h0.9M45.6 693.5h0.9M46.0 694.0h0.9M46.3 694.4h0.9M46.2 694.8h0.9M45.8 695.3h0.9M45.9 695.0h0.9M45.7 695.5h0.9M46.0 695.8h0.9M46.1 695.8h0.9M45.9 696.2h0.9M46.1 696.5h0.9M45.8 696.6h0.9M46.1 696.0h0.9M45.9 696.4h0.9M46.2 696.2h0.9M45.6 696.6h0.9M46.3 695.9h0.9M45.4 697.5h0.9M45.6 696.9h0.9M46.1 697.1h0.9M46.0 696.8h0.9M45.3 697.2h0.9M45.9 698.7h0.9M46.1 698.4h0.9M46.3 698.5h0.9M45.9 697.8h0.9M46.0 698.4h0.9M46.2 697.8h0.9M45.4 699.2h0.9M45.5 699.3h0.9M46.3 699.4h0.9M46.2 699.5h0.9M45.5 698.8h0.9M45.9 700.2h0.9M45.7 699.9h0.9M45.8 700.3h0.9M45.5 700.4h0.9M45.8 700.1h0.9M45.7 700.3h0.9M45.5 700.3h0.9M45.8 699.8h0.9M45.6 699.8h0.9M45.5 701.3h0.9M46.1 701.7h0.9M46.6 674.3h0.9M46.4 679.8h0.9M47.1 680.0h0.9M47.3 683.0h0.9M46.4 683.9h0.9M46.5 684.3h0.9M46.7 684.4h0.9M47.0 684.8h0.9M46.8 685.2h0.9M46.8 685.5h0.9M46.8 686.5h0.9M47.1 687.6h0.9M46.6 687.3h0.9M46.8 687.4h0.9M46.3 688.2h0.9M46.5 688.0h0.9M46.8 688.2h0.9M47.2 689.4h0.9M47.2 690.0h0.9M47.0 689.9h0.9M46.7 690.4h0.9M46.8 689.8h0.9M47.3 691.4h0.9M46.4 691.2h0.9M47.2 691.1h0.9M46.9 691.0h0.9M47.3 691.0h0.9M46.9 692.0h0.9M46.7 691.7h0.9M47.1 692.4h0.9M46.7 691.9h0.9M46.5 691.8h0.9M46.9 692.3h0.9M46.9 692.5h0.9M47.2 693.5h0.9M46.9 693.4h0.9M47.3 693.0h0.9M47.3 692.9h0.9M46.5 694.0h0.9M47.0 694.7h0.9M46.9 693.8h0.9M46.8 694.4h0.9M46.9 694.8h0.9M46.4 694.8h0.9M46.7 695.6h0.9M47.3 694.9h0.9M46.5 696.0h0.9M46.4 696.1h0.9M47.3 696.2h0.9M46.7 696.4h0.9M46.6 695.9h0.9M47.0 696.7h0.9M46.5 695.7h0.9M47.2 696.6h0.9M46.8 696.9h0.9M46.7 696.8h0.9M46.8 698.4h0.9M47.0 697.7h0.9M47.0 698.4h0.9M46.7 698.0h0.9M47.1 698.2h0.9M46.6 698.3h0.9M46.4 698.1h0.9M47.1 697.9h0.9M46.6 698.2h0.9M46.5 699.5h0.9M46.6 699.7h0.9M47.0 698.9h0.9M46.9 699.5h0.9M46.6 699.7h0.9M46.8 699.2h0.9M46.5 698.8h0.9M46.8 699.6h0.9M47.2 700.3h0.9M46.8 700.3h0.9M47.1 699.9h0.9M46.8 700.5h0.9M47.2 700.3h0.9M47.1 700.3h0.9M47.1 700.4h0.9M46.8 701.1h0.9M46.6 701.4h0.9M46.5 701.3h0.9M46.5 700.9h0.9M46.9 701.2h0.9M46.5 700.8h0.9M46.7 702.1h0.9M46.6 701.9h0.9M47.3 701.8h0.9M46.8 701.9h0.9M47.7 676.2h0.9M48.2 678.2h0.9M47.8 681.6h0.9M48.3 681.5h0.9M48.3 682.6h0.9M48.1 681.8h0.9M47.4 683.8h0.9M48.1 684.9h0.9M48.2 685.0h0.9M47.4 686.3h0.9M48.3 686.0h0.9M48.0 686.0h0.9M47.8 686.9h0.9M47.9 686.7h0.9M47.6 686.8h0.9M47.4 687.9h0.9M48.3 687.9h0.9M48.3 688.8h0.9M47.7 689.2h0.9M48.0 688.9h0.9M47.8 689.5h0.9M47.5 690.2h0.9M47.6 690.9h0.9M47.9 691.2h0.9M48.2 690.9h0.9M48.0 691.4h0.9M47.4 692.7h0.9M47.5 692.2h0.9M47.9 691.9h0.9M48.2 691.9h0.9M47.4 693.6h0.9M47.9 692.7h0.9M47.6 693.1h0.9M47.6 693.1h0.9M47.8 693.1h0.9M47.7 692.7h0.9M47.4 694.1h0.9M47.5 693.8h0.9M47.5 693.8h0.9M47.9 694.3h0.9M48.2 694.1h0.9M47.4 694.5h0.9M47.8 694.1h0.9M48.2 693.9h0.9M47.4 694.6h0.9M48.3 694.6h0.9M48.0 695.3h0.9M48.1 695.6h0.9M47.9 695.2h0.9M48.3 696.2h0.9M48.2 696.5h0.9M47.5 696.6h0.9M47.7 696.2h0.9M47.4 697.5h0.9M48.1 696.8h0.9M47.8 697.2h0.9M48.0 696.9h0.9M48.3 697.4h0.9M47.5 697.7h0.9M48.2 698.4h0.9M47.4 698.3h0.9M48.1 697.9h0.9M48.2 698.4h0.9M47.7 698.2h0.9M48.3 698.7h0.9M47.5 698.7h0.9M47.9 698.7h0.9M47.6 699.6h0.9M47.6 699.1h0.9M47.7 699.5h0.9M47.4 699.1h0.9M47.4 699.7h0.9M47.9 700.4h0.9M47.4 700.3h0.9M48.1 700.6h0.9M48.2 700.4h0.9M47.4 700.4h0.9M48.0 700.1h0.9M47.5 700.1h0.9M47.4 700.4h0.9M48.2 701.2h0.9M48.1 700.7h0.9M48.2 701.5h0.9M47.8 700.9h0.9M48.3 702.4h0.9M47.3 701.8h0.9M47.8 702.0h0.9M48.8 672.1h0.9M48.9 678.7h0.9M48.7 680.6h0.9M49.1 681.1h0.9M48.6 681.8h0.9M48.8 683.1h0.9M48.5 684.2h0.9M48.9 685.1h0.9M49.2 686.7h0.9M49.2 688.4h0.9M48.8 688.3h0.9M49.2 689.0h0.9M48.5 689.2h0.9M48.4 690.0h0.9M49.0 690.4h0.9M48.4 691.2h0.9M48.9 691.2h0.9M48.6 691.3h0.9M48.9 691.3h0.9M48.5 691.2h0.9M48.6 692.5h0.9M48.9 692.2h0.9M49.1 692.0h0.9M48.9 692.6h0.9M48.5 693.4h0.9M49.0 693.3h0.9M48.7 692.8h0.9M49.1 693.5h0.9M49.0 693.4h0.9M49.2 694.1h0.9M48.4 694.4h0.9M49.0 693.7h0.9M48.6 694.2h0.9M49.1 694.8h0.9M48.8 695.3h0.9M48.9 695.7h0.9M48.6 695.0h0.9M48.7 696.2h0.9M48.8 695.8h0.9M48.5 696.5h0.9M49.3 695.9h0.9M48.8 696.1h0.9M49.3 697.7h0.9M48.9 697.4h0.9M49.3 698.5h0.9M48.4 698.5h0.9M48.6 698.4h0.9M48.5 698.6h0.9M48.9 698.8h0.9M49.0 699.2h0.9M49.1 698.9h0.9M48.9 699.1h0.9M48.5 700.5h0.9M49.1 700.6h0.9M49.1 700.1h0.9M49.0 701.7h0.9M49.0 702.5h0.9M48.8 702.5h0.9M49.0 701.9h0.9M49.0 702.4h0.9M49.0 702.0h0.9M48.4 702.2h0.9M50.2 679.2h0.9M49.6 681.0h0.9M49.5 682.6h0.9M49.6 683.2h0.9M49.6 684.3h0.9M50.0 684.3h0.9M49.7 685.8h0.9M49.5 686.6h0.9M49.8 688.7h0.9M49.6 688.5h0.9M49.9 688.4h0.9M50.3 688.5h0.9M49.9 689.5h0.9M49.6 688.9h0.9M50.3 690.5h0.9M49.4 691.3h0.9M49.9 691.7h0.9M50.2 692.5h0.9M49.7 692.6h0.9M50.2 692.3h0.9M50.1 693.3h0.9M50.1 692.9h0.9M50.3 694.3h0.9M50.0 694.0h0.9M50.1 693.7h0.9M49.9 694.7h0.9M49.7 695.6h0.9M49.8 695.1h0.9M49.4 695.6h0.9M49.8 695.7h0.9M49.8 696.2h0.9M50.1 695.9h0.9M49.7 696.4h0.9M49.3 696.2h0.9M49.8 696.6h0.9M50.3 696.4h0.9M49.5 697.5h0.9M50.3 696.8h0.9M50.0 697.4h0.9M50.3 697.4h0.9M50.1 697.3h0.9M49.5 698.3h0.9M49.6 698.7h0.9M50.0 698.5h0.9M49.7 698.2h0.9M49.9 698.4h0.9M49.8 698.1h0.9M50.2 699.1h0.9M49.7 699.7h0.9M49.7 699.0h0.9M50.3 699.4h0.9M49.8 699.3h0.9M49.4 699.0h0.9M49.7 699.8h0.9M49.5 700.6h0.9M50.2 700.0h0.9M49.5 700.4h0.9M49.7 700.0h0.9M50.2 699.8h0.9M50.0 700.7h0.9M49.4 700.3h0.9M49.4 700.3h0.9M49.4 700.3h0.9M50.2 701.3h0.9M50.0 701.2h0.9M50.3 701.2h0.9M49.8 702.1h0.9M49.6 702.0h0.9M50.8 676.2h0.9M51.2 680.7h0.9M50.5 682.2h0.9M50.9 683.4h0.9M50.5 683.6h0.9M51.0 684.2h0.9M50.3 685.0h0.9M50.4 686.5h0.9M50.8 688.2h0.9M51.0 690.3h0.9M50.4 691.5h0.9M50.5 690.9h0.9M51.0 691.3h0.9M51.0 690.8h0.9M50.6 692.3h0.9M50.6 692.4h0.9M50.7 691.7h0.9M50.4 691.7h0.9M51.0 692.5h0.9M50.9 693.5h0.9M51.2 693.1h0.9M51.2 693.0h0.9M50.9 693.4h0.9M51.0 693.4h0.9M51.2 694.2h0.9M51.0 694.6h0.9M50.7 694.2h0.9M50.8 694.0h0.9M50.8 694.3h0.9M50.4 694.3h0.9M50.7 693.9h0.9M50.4 695.4h0.9M50.5 695.5h0.9M50.8 695.1h0.9M51.2 695.0h0.9M51.2 695.4h0.9M51.0 695.5h0.9M51.3 696.6h0.9M50.6 696.0h0.9M51.0 696.7h0.9M50.8 696.1h0.9M50.8 695.8h0.9M50.9 697.2h0.9M50.6 696.8h0.9M50.9 696.8h0.9M51.1 697.6h0.9M50.5 697.4h0.9M50.9 697.3h0.9M50.6 696.9h0.9M50.8 697.8h0.9M51.2 698.4h0.9M50.6 698.1h0.9M50.5 697.9h0.9M50.4 699.4h0.9M51.1 699.5h0.9M50.4 699.6h0.9M50.5 699.3h0.9M51.3 699.4h0.9M50.6 700.4h0.9M50.9 699.9h0.9M50.9 700.2h0.9M50.8 700.5h0.9M51.0 700.6h0.9M50.5 700.6h0.9M51.2 699.7h0.9M50.8 700.6h0.9M50.6 700.6h0.9M50.8 701.2h0.9M50.7 701.0h0.9M51.1 701.1h0.9M51.3 702.7h0.9M52.0 680.5h0.9M52.1 681.9h0.9M52.1 682.4h0.9M52.1 684.2h0.9M52.2 683.7h0.9M51.6 686.4h0.9M52.3 686.2h0.9M51.8 687.5h0.9M51.7 686.7h0.9M51.4 688.0h0.9M51.9 688.0h0.9M51.8 688.4h0.9M51.8 688.1h0.9M51.9 689.2h0.9M52.2 689.1h0.9M51.5 690.6h0.9M51.4 689.7h0.9M51.7 690.4h0.9M52.0 689.8h0.9M52.0 690.4h0.9M51.4 690.8h0.9M51.8 691.3h0.9M51.9 691.4h0.9M52.2 691.8h0.9M52.0 692.1h0.9M51.8 692.6h0.9M51.5 692.5h0.9M52.2 692.5h0.9M51.6 693.2h0.9M51.7 693.6h0.9M52.3 693.4h0.9M51.9 693.6h0.9M52.2 694.2h0.9M51.6 695.5h0.9M51.7 695.2h0.9M51.7 694.8h0.9M52.2 695.4h0.9M52.1 695.0h0.9M52.3 695.2h0.9M51.7 694.7h0.9M52.0 695.4h0.9M51.4 696.2h0.9M51.4 696.4h0.9M51.6 696.5h0.9M51.7 696.1h0.9M52.0 696.9h0.9M51.4 697.0h0.9M51.8 697.7h0.9M51.6 697.4h0.9M51.8 696.8h0.9M52.3 696.9h0.9M51.4 696.8h0.9M51.4 697.3h0.9M51.6 698.5h0.9M51.5 698.5h0.9M51.7 699.3h0.9M52.2 699.3h0.9M51.8 699.0h0.9M52.0 699.4h0.9M52.1 699.1h0.9M51.5 700.7h0.9M51.7 700.6h0.9M52.3 700.0h0.9M52.2 700.6h0.9M52.1 700.8h0.9M52.2 701.0h0.9M52.0 700.7h0.9M51.7 701.2h0.9M51.8 701.2h0.9M52.3 701.5h0.9M51.5 702.5h0.9M52.9 678.2h0.9M52.5 680.9h0.9M52.9 683.2h0.9M52.5 682.8h0.9M52.9 684.1h0.9M52.9 684.0h0.9M52.6 684.9h0.9M52.6 686.3h0.9M52.8 686.6h0.9M52.8 687.0h0.9M52.4 687.8h0.9M53.2 688.6h0.9M52.7 687.8h0.9M52.5 688.5h0.9M52.7 688.4h0.9M52.5 689.0h0.9M52.6 689.2h0.9M52.4 690.5h0.9M52.8 690.5h0.9M52.3 689.7h0.9M53.2 691.1h0.9M53.3 690.8h0.9M52.7 691.6h0.9M52.8 691.8h0.9M52.4 692.3h0.9M53.0 692.6h0.9M52.4 692.5h0.9M52.8 692.4h0.9M52.6 692.2h0.9M53.1 692.0h0.9M53.3 693.2h0.9M52.9 692.8h0.9M53.1 693.3h0.9M53.3 694.5h0.9M53.3 694.5h0.9M52.9 693.9h0.9M53.1 694.5h0.9M53.3 694.4h0.9M52.5 694.8h0.9M52.4 695.1h0.9M52.4 695.4h0.9M52.4 695.7h0.9M52.4 696.0h0.9M52.6 696.3h0.9M52.7 696.0h0.9M52.7 696.4h0.9M53.3 696.5h0.9M52.5 696.6h0.9M53.0 697.3h0.9M52.9 698.2h0.9M52.8 697.8h0.9M53.0 698.1h0.9M53.2 697.7h0.9M52.6 698.6h0.9M52.8 699.2h0.9M52.6 698.9h0.9M52.8 699.3h0.9M53.2 699.4h0.9M52.6 699.8h0.9M53.1 700.4h0.9M53.2 699.7h0.9M53.0 700.2h0.9M52.4 700.1h0.9M53.3 699.9h0.9M53.0 701.3h0.9M52.8 700.9h0.9M52.9 700.9h0.9M53.1 700.8h0.9M53.1 701.2h0.9M52.9 701.6h0.9M52.9 701.8h0.9M52.7 701.9h0.9M52.6 702.2h0.9M52.7 701.8h0.9M52.7 702.3h0.9M53.0 702.5h0.9M52.9 702.1h0.9M53.4 675.9h0.9M53.5 681.5h0.9M54.2 683.0h0.9M53.8 684.4h0.9M53.7 685.1h0.9M53.5 685.0h0.9M53.7 685.8h0.9M53.6 686.7h0.9M54.3 689.5h0.9M53.7 689.1h0.9M53.7 689.6h0.9M53.6 690.1h0.9M54.0 691.3h0.9M54.0 691.6h0.9M54.1 691.3h0.9M53.4 690.8h0.9M53.5 692.1h0.9M54.0 693.1h0.9M54.2 693.1h0.9M53.5 693.3h0.9M53.7 693.7h0.9M53.5 693.4h0.9M54.0 693.5h0.9M53.9 692.8h0.9M53.4 694.1h0.9M54.2 694.4h0.9M54.1 694.2h0.9M53.8 693.8h0.9M53.8 695.3h0.9M53.9 695.2h0.9M53.5 695.6h0.9M54.3 695.5h0.9M54.2 695.7h0.9M53.4 694.9h0.9M54.2 696.3h0.9M54.0 696.5h0.9M54.1 696.7h0.9M53.4 696.3h0.9M53.5 696.9h0.9M54.3 697.6h0.9M54.2 697.4h0.9M53.9 697.5h0.9M53.5 698.6h0.9M54.3 698.0h0.9M53.3 697.8h0.9M54.0 698.3h0.9M54.1 698.4h0.9M53.9 698.4h0.9M54.2 698.2h0.9M54.3 699.5h0.9M53.8 699.5h0.9M54.3 698.7h0.9M54.0 699.1h0.9M53.8 700.2h0.9M53.6 699.7h0.9M54.0 700.2h0.9M54.2 699.8h0.9M54.0 700.1h0.9M53.5 700.9h0.9M54.2 700.7h0.9M54.1 702.6h0.9M55.1 681.0h0.9M54.6 680.7h0.9M54.6 682.4h0.9M55.0 684.8h0.9M54.5 686.1h0.9M55.0 687.2h0.9M55.0 686.8h0.9M54.8 687.0h0.9M54.4 688.3h0.9M54.5 688.7h0.9M55.0 690.1h0.9M54.8 690.5h0.9M54.7 689.8h0.9M54.9 689.9h0.9M54.9 691.2h0.9M54.5 691.6h0.9M55.1 691.4h0.9M54.4 691.2h0.9M55.2 692.2h0.9M54.8 692.3h0.9M54.9 691.9h0.9M55.1 692.1h0.9M54.5 693.3h0.9M54.7 693.2h0.9M54.7 693.2h0.9M54.4 693.0h0.9M54.9 693.1h0.9M55.0 692.9h0.9M54.8 693.0h0.9M55.3 693.7h0.9M54.5 693.8h0.9M54.8 694.3h0.9M55.2 694.2h0.9M54.5 693.9h0.9M54.3 694.1h0.9M54.9 695.0h0.9M54.9 695.1h0.9M55.1 695.1h0.9M54.4 695.1h0.9M54.6 696.1h0.9M54.6 696.1h0.9M54.6 696.5h0.9M54.6 696.5h0.9M55.2 696.0h0.9M54.6 696.3h0.9M55.3 695.8h0.9M55.2 696.8h0.9M55.0 696.7h0.9M54.8 696.7h0.9M55.0 697.2h0.9M54.5 696.9h0.9M54.5 697.7h0.9M54.5 698.3h0.9M54.5 697.7h0.9M54.4 699.3h0.9M54.9 699.6h0.9M55.3 698.7h0.9M54.6 700.2h0.9M55.0 700.6h0.9M54.4 699.9h0.9M54.7 699.9h0.9M54.6 701.7h0.9M55.1 701.2h0.9M54.3 701.3h0.9M54.3 702.6h0.9M54.9 701.9h0.9M54.5 702.4h0.9M56.1 682.4h0.9M55.5 683.2h0.9M56.3 685.8h0.9M56.3 686.4h0.9M55.9 687.1h0.9M56.2 687.8h0.9M55.7 688.3h0.9M55.8 687.8h0.9M56.1 689.4h0.9M56.2 689.2h0.9M55.8 689.2h0.9M55.8 689.8h0.9M55.5 690.5h0.9M56.2 692.5h0.9M55.5 692.7h0.9M56.0 692.5h0.9M56.1 692.0h0.9M55.7 692.0h0.9M55.5 692.3h0.9M55.8 693.7h0.9M56.2 693.4h0.9M56.1 692.7h0.9M56.1 693.3h0.9M55.4 694.2h0.9M55.4 694.3h0.9M55.3 695.7h0.9M56.2 695.5h0.9M55.8 695.5h0.9M55.9 696.6h0.9M55.9 695.9h0.9M55.4 695.9h0.9M56.3 695.7h0.9M55.5 696.8h0.9M56.0 697.3h0.9M55.3 697.1h0.9M55.4 697.3h0.9M55.6 697.3h0.9M55.5 697.6h0.9M56.0 697.4h0.9M56.1 698.3h0.9M55.9 697.9h0.9M55.5 697.8h0.9M55.7 698.4h0.9M55.4 699.7h0.9M56.1 698.8h0.9M56.3 699.1h0.9M55.9 700.2h0.9M55.4 699.8h0.9M55.6 700.5h0.9M56.0 699.8h0.9M56.0 700.5h0.9M55.5 700.2h0.9M56.3 700.9h0.9M55.5 700.8h0.9M56.0 701.1h0.9M55.9 701.4h0.9M56.0 702.6h0.9M55.5 702.3h0.9M56.4 682.1h0.9M57.2 684.3h0.9M56.7 684.9h0.9M57.2 686.7h0.9M57.2 686.9h0.9M57.1 686.8h0.9M56.7 688.3h0.9M56.7 688.4h0.9M56.7 692.6h0.9M57.1 692.6h0.9M56.7 692.8h0.9M57.2 693.0h0.9M56.8 693.4h0.9M56.4 693.1h0.9M56.7 693.6h0.9M57.2 694.6h0.9M56.7 694.7h0.9M56.9 694.4h0.9M57.0 695.2h0.9M56.8 695.2h0.9M56.7 695.9h0.9M56.8 696.3h0.9M56.7 696.1h0.9M56.8 696.2h0.9M57.0 696.0h0.9M56.7 696.0h0.9M56.4 696.5h0.9M57.0 697.6h0.9M56.8 696.8h0.9M57.1 697.0h0.9M57.1 697.5h0.9M56.6 699.2h0.9M56.6 699.0h0.9M57.3 699.1h0.9M57.1 699.0h0.9M56.8 699.3h0.9M56.4 699.4h0.9M56.8 699.4h0.9M56.6 700.6h0.9M57.1 699.9h0.9M57.0 701.7h0.9M56.7 701.5h0.9M56.7 701.0h0.9M56.8 701.7h0.9M58.1 661.5h0.9M58.0 680.3h0.9M58.1 680.8h0.9M58.2 684.0h0.9M57.9 684.8h0.9M57.6 685.6h0.9M58.0 685.8h0.9M58.1 686.6h0.9M57.5 687.2h0.9M57.6 688.5h0.9M58.0 689.6h0.9M57.8 689.5h0.9M57.8 690.4h0.9M57.7 690.9h0.9M58.2 691.7h0.9M57.5 691.3h0.9M57.3 691.2h0.9M57.7 691.3h0.9M57.8 690.9h0.9M57.6 691.6h0.9M57.6 691.6h0.9M57.7 692.6h0.9M57.6 692.5h0.9M58.0 694.1h0.9M57.7 693.7h0.9M57.7 694.3h0.9M57.9 693.8h0.9M57.7 694.3h0.9M58.3 694.5h0.9M57.4 695.6h0.9M58.1 695.1h0.9M58.2 695.1h0.9M57.8 695.4h0.9M57.3 694.8h0.9M57.8 695.0h0.9M58.1 695.6h0.9M57.4 695.4h0.9M58.2 695.0h0.9M57.5 696.0h0.9M57.7 696.0h0.9M58.1 696.4h0.9M58.2 695.9h0.9M57.5 696.6h0.9M58.3 696.0h0.9M58.1 697.1h0.9M57.5 696.8h0.9M57.4 697.2h0.9M58.3 696.7h0.9M57.9 697.3h0.9M57.8 697.3h0.9M58.0 698.0h0.9M57.9 698.1h0.9M57.9 699.5h0.9M58.2 699.2h0.9M57.6 699.0h0.9M58.3 698.8h0.9M58.2 699.2h0.9M57.5 700.0h0.9M58.1 700.2h0.9M57.4 700.4h0.9M58.1 699.8h0.9M57.8 700.4h0.9M58.3 701.8h0.9M57.7 702.7h0.9M58.5 685.5h0.9M59.0 685.0h0.9M58.6 686.7h0.9M58.9 688.5h0.9M58.5 689.9h0.9M59.1 690.2h0.9M59.1 689.7h0.9M58.8 690.8h0.9M58.6 692.5h0.9M58.6 692.5h0.9M58.5 692.1h0.9M58.6 691.9h0.9M58.9 691.8h0.9M59.1 693.6h0.9M58.5 693.6h0.9M59.1 693.9h0.9M59.2 694.2h0.9M58.7 694.7h0.9M59.3 693.9h0.9M58.8 694.2h0.9M58.9 694.2h0.9M58.9 695.0h0.9M58.4 695.2h0.9M59.2 695.6h0.9M58.8 694.9h0.9M59.2 695.0h0.9M59.0 694.9h0.9M58.9 696.6h0.9M58.8 696.5h0.9M58.7 696.6h0.9M58.7 696.7h0.9M59.2 696.0h0.9M58.5 696.5h0.9M58.4 696.3h0.9M58.5 696.2h0.9M59.1 697.4h0.9M58.6 697.3h0.9M58.4 696.8h0.9M58.4 698.3h0.9M58.4 697.9h0.9M58.4 697.8h0.9M59.1 697.9h0.9M59.2 698.0h0.9M58.7 698.4h0.9M59.1 698.9h0.9M59.3 699.4h0.9M58.7 699.5h0.9M59.0 700.0h0.9M58.7 700.5h0.9M59.0 700.5h0.9M58.4 701.6h0.9M59.3 701.0h0.9M58.6 701.5h0.9M58.4 700.9h0.9M58.6 701.0h0.9M59.6 680.5h0.9M60.0 683.1h0.9M60.1 684.2h0.9M60.0 685.0h0.9M59.9 685.9h0.9M60.1 686.3h0.9M59.6 687.7h0.9M59.5 688.7h0.9M59.5 689.7h0.9M60.1 690.0h0.9M60.3 690.3h0.9M59.4 690.9h0.9M59.9 692.0h0.9M59.6 692.0h0.9M59.3 692.4h0.9M60.3 691.9h0.9M60.3 692.3h0.9M59.5 693.4h0.9M59.9 693.2h0.9M59.7 694.2h0.9M59.4 693.7h0.9M60.2 694.1h0.9M59.7 694.5h0.9M60.0 693.9h0.9M59.9 694.3h0.9M59.8 694.6h0.9M59.8 695.7h0.9M60.0 694.9h0.9M60.3 695.6h0.9M59.4 695.5h0.9M59.8 694.7h0.9M59.9 696.4h0.9M60.3 696.2h0.9M60.1 696.3h0.9M60.3 695.9h0.9M60.2 695.9h0.9M60.3 696.0h0.9M59.7 697.5h0.9M59.4 697.1h0.9M59.8 696.8h0.9M59.6 697.4h0.9M59.9 697.1h0.9M59.8 697.3h0.9M59.8 697.8h0.9M60.3 698.6h0.9M59.6 698.3h0.9M59.7 697.8h0.9M59.8 699.2h0.9M59.8 699.6h0.9M59.6 699.1h0.9M59.7 699.8h0.9M59.5 700.3h0.9M60.3 700.3h0.9M59.8 701.6h0.9M59.7 701.2h0.9M59.7 700.8h0.9M59.8 701.1h0.9M60.2 701.8h0.9M60.2 702.3h0.9M61.3 683.9h0.9M60.4 686.4h0.9M61.2 688.0h0.9M60.6 690.1h0.9M60.6 691.3h0.9M60.8 690.8h0.9M60.7 692.6h0.9M60.8 692.4h0.9M61.0 692.1h0.9M60.5 692.1h0.9M60.8 693.4h0.9M61.3 693.5h0.9M60.7 694.6h0.9M61.3 694.6h0.9M61.1 694.2h0.9M61.2 695.1h0.9M60.8 695.6h0.9M61.0 695.4h0.9M60.4 695.6h0.9M61.3 696.1h0.9M60.9 696.1h0.9M61.2 697.0h0.9M61.1 697.6h0.9M61.0 697.2h0.9M61.1 697.6h0.9M61.0 697.4h0.9M60.8 698.0h0.9M61.1 698.5h0.9M60.4 698.0h0.9M60.7 698.1h0.9M61.1 698.8h0.9M61.2 698.8h0.9M60.5 699.0h0.9M61.3 699.0h0.9M60.5 698.9h0.9M61.3 700.3h0.9M60.8 700.4h0.9M61.2 701.3h0.9M61.3 701.7h0.9M60.7 700.8h0.9M60.4 702.2h0.9M60.9 702.5h0.9M60.8 701.8h0.9M61.0 702.7h0.9M61.4 681.8h0.9M61.5 682.8h0.9M61.7 685.7h0.9M62.1 685.3h0.9M61.4 687.1h0.9M61.9 688.7h0.9M61.6 688.8h0.9M62.0 690.6h0.9M62.2 690.6h0.9M62.0 690.3h0.9M61.9 691.7h0.9M62.1 690.8h0.9M61.5 692.7h0.9M62.0 691.9h0.9M61.7 692.3h0.9M61.9 693.5h0.9M61.8 693.6h0.9M61.8 694.4h0.9M61.5 694.2h0.9M61.9 693.8h0.9M62.3 694.8h0.9M61.5 695.6h0.9M62.3 695.2h0.9M61.6 695.0h0.9M61.6 695.5h0.9M61.7 696.6h0.9M61.3 696.4h0.9M61.8 696.5h0.9M62.3 695.8h0.9M61.5 696.6h0.9M61.9 695.7h0.9M61.5 695.7h0.9M61.6 696.4h0.9M61.9 696.8h0.9M62.1 696.9h0.9M61.7 697.2h0.9M61.4 697.4h0.9M61.7 697.6h0.9M62.2 696.8h0.9M61.4 697.3h0.9M62.2 697.5h0.9M61.7 697.5h0.9M61.4 697.5h0.9M62.2 697.8h0.9M61.5 697.8h0.9M61.6 698.1h0.9M61.8 699.5h0.9M62.2 698.8h0.9M61.7 698.7h0.9M62.3 698.7h0.9M62.1 699.3h0.9M62.3 698.8h0.9M61.9 698.9h0.9M61.4 699.8h0.9M61.8 699.8h0.9M61.4 701.5h0.9M61.8 701.2h0.9M62.1 701.8h0.9M61.9 702.5h0.9M62.3 702.0h0.9M62.9 663.1h0.9M62.8 683.2h0.9M62.9 688.2h0.9M62.9 688.7h0.9M63.2 687.8h0.9M63.3 689.5h0.9M62.4 689.6h0.9M63.0 690.0h0.9M63.1 691.6h0.9M62.9 690.8h0.9M63.3 691.0h0.9M62.9 691.2h0.9M63.0 693.5h0.9M62.9 692.8h0.9M62.7 693.3h0.9M62.3 694.0h0.9M62.5 694.2h0.9M62.4 694.2h0.9M62.6 694.0h0.9M62.7 694.4h0.9M62.9 694.4h0.9M63.2 694.7h0.9M62.9 695.1h0.9M62.3 695.1h0.9M62.9 696.3h0.9M63.0 696.6h0.9M62.7 696.2h0.9M63.2 696.4h0.9M62.9 697.3h0.9M63.3 696.9h0.9M62.4 697.3h0.9M62.9 696.7h0.9M62.6 698.1h0.9M62.6 698.0h0.9M63.1 698.4h0.9M63.1 698.3h0.9M62.6 698.3h0.9M62.6 698.1h0.9M62.7 698.4h0.9M62.8 699.0h0.9M62.6 699.4h0.9M62.7 699.6h0.9M63.2 698.9h0.9M63.0 698.7h0.9M62.4 700.5h0.9M63.1 700.5h0.9M62.5 699.9h0.9M63.1 700.8h0.9M63.0 700.9h0.9M63.1 701.2h0.9M63.1 701.1h0.9M62.8 700.9h0.9M62.4 700.9h0.9M63.2 700.7h0.9M62.8 702.1h0.9M63.3 702.5h0.9M63.3 701.9h0.9M63.7 687.1h0.9M63.5 687.3h0.9M63.7 688.7h0.9M63.4 688.6h0.9M63.5 688.0h0.9M63.6 688.7h0.9M64.0 690.9h0.9M63.4 690.8h0.9M64.2 692.6h0.9M63.5 693.2h0.9M63.3 693.8h0.9M64.3 694.5h0.9M63.6 694.9h0.9M63.4 695.0h0.9M64.1 695.2h0.9M63.7 695.1h0.9M64.2 696.0h0.9M63.9 695.7h0.9M63.3 696.4h0.9M63.7 697.4h0.9M63.9 697.1h0.9M63.9 697.3h0.9M63.5 696.7h0.9M63.7 697.7h0.9M64.3 698.3h0.9M63.9 697.9h0.9M64.1 698.7h0.9M63.5 699.3h0.9M64.0 700.3h0.9M63.7 700.1h0.9M63.5 701.2h0.9M63.6 701.3h0.9M63.6 701.0h0.9M64.0 700.8h0.9M64.2 701.3h0.9M64.0 701.2h0.9M63.7 700.9h0.9M64.1 701.1h0.9M64.2 702.5h0.9M63.5 702.6h0.9M65.2 684.0h0.9M65.2 685.5h0.9M64.7 685.0h0.9M64.5 686.5h0.9M65.3 689.2h0.9M64.9 689.0h0.9M64.6 688.9h0.9M65.1 689.2h0.9M65.2 690.4h0.9M64.6 690.2h0.9M64.5 690.5h0.9M64.9 690.9h0.9M65.2 692.9h0.9M65.1 693.5h0.9M64.7 693.6h0.9M64.4 693.7h0.9M64.9 694.3h0.9M65.1 694.9h0.9M64.9 695.3h0.9M65.2 694.8h0.9M65.1 696.4h0.9M64.6 695.9h0.9M65.2 696.1h0.9M64.9 696.0h0.9M64.6 695.8h0.9M65.1 697.6h0.9M65.0 696.9h0.9M65.0 697.1h0.9M64.4 698.0h0.9M65.2 698.1h0.9M64.9 699.1h0.9M65.3 699.2h0.9M64.4 699.5h0.9M64.8 699.0h0.9M65.1 700.4h0.9M65.1 700.5h0.9M65.1 700.3h0.9M64.7 700.2h0.9M64.9 700.4h0.9M64.4 700.5h0.9M64.7 700.4h0.9M65.1 700.2h0.9M65.1 701.3h0.9M64.5 701.6h0.9M65.2 701.0h0.9M64.7 702.4h0.9M65.6 681.9h0.9M66.0 683.2h0.9M65.4 686.3h0.9M65.6 686.4h0.9M65.8 689.5h0.9M66.0 690.7h0.9M66.2 689.8h0.9M65.5 690.2h0.9M65.6 690.1h0.9M66.3 691.5h0.9M65.6 690.8h0.9M66.3 691.3h0.9M66.1 691.2h0.9M66.2 692.4h0.9M66.3 692.5h0.9M65.6 692.2h0.9M65.5 693.2h0.9M66.3 694.3h0.9M66.0 694.5h0.9M65.5 694.9h0.9M66.3 695.6h0.9M65.7 694.9h0.9M65.3 695.5h0.9M65.8 695.0h0.9M65.9 696.6h0.9M66.3 696.2h0.9M65.9 696.1h0.9M65.6 696.5h0.9M65.8 696.6h0.9M65.9 695.8h0.9M66.1 696.7h0.9M66.2 695.7h0.9M65.9 696.5h0.9M66.2 697.2h0.9M65.6 697.4h0.9M66.2 696.9h0.9M65.5 696.9h0.9M65.4 697.5h0.9M65.4 696.9h0.9M65.7 696.8h0.9M66.2 698.0h0.9M65.5 698.3h0.9M66.2 698.1h0.9M65.4 698.2h0.9M66.2 698.0h0.9M66.2 698.4h0.9M65.4 699.2h0.9M65.3 699.7h0.9M66.2 699.3h0.9M65.7 700.1h0.9M66.1 700.2h0.9M65.4 700.4h0.9M65.7 699.9h0.9M66.3 700.1h0.9M65.4 700.7h0.9M65.9 700.9h0.9M66.2 701.5h0.9M66.2 702.1h0.9M65.6 702.3h0.9M66.9 688.2h0.9M66.5 690.0h0.9M66.4 690.4h0.9M67.1 690.1h0.9M66.6 690.7h0.9M66.7 690.4h0.9M66.9 689.9h0.9M67.2 690.3h0.9M66.9 691.3h0.9M66.8 693.3h0.9M66.4 694.8h0.9M66.8 695.5h0.9M66.8 695.0h0.9M67.0 696.6h0.9M66.5 696.1h0.9M66.4 695.7h0.9M67.1 697.2h0.9M66.5 697.5h0.9M66.8 696.9h0.9M67.0 697.5h0.9M66.8 697.1h0.9M66.6 696.8h0.9M67.1 696.9h0.9M67.0 696.9h0.9M66.7 698.1h0.9M67.2 697.7h0.9M67.2 698.0h0.9M67.2 699.2h0.9M66.7 699.5h0.9M66.7 699.0h0.9M66.6 699.6h0.9M66.6 699.5h0.9M67.2 699.3h0.9M66.4 699.8h0.9M67.3 700.1h0.9M66.4 699.7h0.9M66.7 700.4h0.9M66.5 700.6h0.9M66.7 700.7h0.9M66.5 701.2h0.9M66.7 700.9h0.9M67.2 702.4h0.9M68.2 681.7h0.9M67.4 685.6h0.9M68.2 685.8h0.9M67.6 687.8h0.9M67.5 689.5h0.9M67.7 690.4h0.9M67.9 690.6h0.9M67.9 690.5h0.9M67.6 691.1h0.9M67.4 692.6h0.9M67.8 694.0h0.9M68.0 693.9h0.9M67.8 695.4h0.9M68.2 695.7h0.9M67.6 695.4h0.9M68.2 695.0h0.9M68.0 696.5h0.9M67.9 696.3h0.9M68.1 696.6h0.9M68.0 696.4h0.9M68.3 696.9h0.9M68.2 698.7h0.9M67.7 698.2h0.9M67.4 698.0h0.9M67.6 697.9h0.9M67.9 697.7h0.9M67.9 699.1h0.9M67.9 700.2h0.9M67.3 700.0h0.9M67.5 699.8h0.9M68.2 699.8h0.9M67.5 700.1h0.9M67.9 700.6h0.9M67.4 700.8h0.9M67.3 700.8h0.9M67.9 701.3h0.9M68.2 701.5h0.9M68.0 702.2h0.9M68.2 702.2h0.9M67.4 702.0h0.9M68.3 701.9h0.9M69.0 685.7h0.9M68.5 688.7h0.9M68.6 688.1h0.9M68.9 689.6h0.9M68.5 689.5h0.9M69.3 690.5h0.9M69.2 690.3h0.9M69.2 691.1h0.9M69.1 690.9h0.9M68.7 691.3h0.9M68.6 692.8h0.9M68.5 692.8h0.9M68.7 693.4h0.9M68.8 694.4h0.9M68.8 694.4h0.9M69.2 694.7h0.9M68.9 695.5h0.9M68.9 694.7h0.9M69.0 696.3h0.9M69.3 696.4h0.9M69.3 696.2h0.9M68.7 696.0h0.9M68.5 696.7h0.9M68.4 697.3h0.9M69.0 697.4h0.9M68.6 697.6h0.9M68.8 697.8h0.9M68.8 698.5h0.9M69.3 698.5h0.9M68.8 698.5h0.9M68.9 697.9h0.9M68.6 698.2h0.9M69.0 698.0h0.9M68.5 698.9h0.9M69.0 698.9h0.9M68.4 699.0h0.9M68.6 699.3h0.9M68.9 700.2h0.9M69.3 700.3h0.9M68.9 700.1h0.9M68.5 700.2h0.9M69.1 700.7h0.9M68.9 700.4h0.9M68.4 700.8h0.9M68.7 701.6h0.9M68.8 700.9h0.9M69.2 700.8h0.9M68.8 701.4h0.9M68.4 701.7h0.9M69.2 701.4h0.9M68.5 700.9h0.9M68.9 701.9h0.9M68.4 702.4h0.9M68.8 702.2h0.9M68.6 701.8h0.9M70.3 684.3h0.9M69.8 685.8h0.9M70.1 686.7h0.9M69.3 689.5h0.9M69.9 689.5h0.9M70.1 689.7h0.9M70.1 690.6h0.9M69.9 691.3h0.9M69.8 692.1h0.9M69.4 692.4h0.9M69.4 691.9h0.9M69.6 692.7h0.9M69.4 693.7h0.9M70.1 694.3h0.9M69.6 693.8h0.9M69.4 694.5h0.9M69.5 694.5h0.9M69.4 695.1h0.9M69.6 696.4h0.9M69.4 696.2h0.9M70.1 696.5h0.9M69.4 696.3h0.9M69.7 695.7h0.9M69.4 697.5h0.9M70.0 697.5h0.9M70.3 697.9h0.9M69.9 697.7h0.9M69.8 697.9h0.9M70.2 699.3h0.9M69.7 698.8h0.9M70.2 699.2h0.9M69.6 698.9h0.9M70.0 700.2h0.9M70.2 700.1h0.9M69.4 700.0h0.9M70.0 700.3h0.9M69.6 702.2h0.9M70.1 702.6h0.9M69.5 702.4h0.9M69.7 702.2h0.9M71.1 685.7h0.9M70.7 687.5h0.9M70.4 689.7h0.9M71.0 689.8h0.9M70.6 690.8h0.9M70.4 692.4h0.9M70.8 693.0h0.9M70.7 694.4h0.9M70.4 695.2h0.9M71.2 696.3h0.9M70.3 696.3h0.9M70.8 695.9h0.9M70.7 696.7h0.9M70.5 697.1h0.9M71.1 697.5h0.9M71.1 697.2h0.9M71.0 696.7h0.9M70.5 697.2h0.9M71.0 697.9h0.9M70.7 698.2h0.9M70.5 699.0h0.9M71.1 700.6h0.9M70.7 700.6h0.9M70.8 701.7h0.9M70.7 701.4h0.9M71.3 702.2h0.9M71.0 702.4h0.9M71.6 683.9h0.9M72.0 687.3h0.9M71.4 688.3h0.9M71.4 688.0h0.9M72.0 689.6h0.9M71.5 689.1h0.9M72.0 689.6h0.9M71.4 690.3h0.9M71.8 691.0h0.9M71.6 691.6h0.9M72.2 691.6h0.9M72.0 690.9h0.9M72.0 693.9h0.9M72.0 694.7h0.9M71.6 695.4h0.9M71.7 696.1h0.9M71.5 696.4h0.9M71.9 695.8h0.9M71.6 696.8h0.9M71.8 697.6h0.9M71.4 698.7h0.9M72.2 697.8h0.9M71.6 699.2h0.9M72.2 699.0h0.9M71.7 699.4h0.9M71.4 700.0h0.9M71.6 700.0h0.9M71.4 700.3h0.9M71.4 701.5h0.9M71.7 701.3h0.9M72.0 700.8h0.9M73.0 680.4h0.9M72.9 687.5h0.9M72.4 688.0h0.9M73.2 688.1h0.9M72.5 688.3h0.9M72.3 689.5h0.9M73.0 690.6h0.9M72.7 693.2h0.9M73.2 693.8h0.9M72.8 694.0h0.9M72.9 693.8h0.9M73.1 694.6h0.9M72.4 694.4h0.9M73.1 695.0h0.9M73.2 696.7h0.9M72.9 695.9h0.9M73.2 696.8h0.9M72.7 699.9h0.9M72.5 700.3h0.9M73.1 700.6h0.9M73.1 700.4h0.9M72.8 699.9h0.9M72.4 699.9h0.9M72.8 701.3h0.9M72.8 700.8h0.9M72.7 701.8h0.9M72.6 702.0h0.9M73.9 677.1h0.9M74.2 684.3h0.9M74.0 684.9h0.9M74.1 686.6h0.9M73.8 688.8h0.9M73.6 691.7h0.9M74.2 691.2h0.9M73.6 694.0h0.9M74.3 694.1h0.9M74.1 694.5h0.9M73.8 696.5h0.9M73.5 696.4h0.9M73.7 697.6h0.9M73.8 698.7h0.9M73.3 698.2h0.9M74.2 698.2h0.9M74.0 698.4h0.9M74.2 698.2h0.9M74.1 700.6h0.9M74.2 699.8h0.9M73.5 701.5h0.9M73.9 701.0h0.9M74.1 700.8h0.9M73.9 701.5h0.9M74.6 687.2h0.9M74.7 687.3h0.9M74.6 686.7h0.9M75.0 687.0h0.9M74.5 687.0h0.9M74.9 688.3h0.9M74.4 689.6h0.9M74.4 691.4h0.9M74.9 691.9h0.9M74.5 692.0h0.9M74.9 693.8h0.9M75.2 696.6h0.9M74.7 696.7h0.9M75.1 696.8h0.9M74.7 698.5h0.9M74.5 698.3h0.9M74.7 699.0h0.9M75.2 699.4h0.9M75.1 699.9h0.9M74.7 699.9h0.9M74.6 701.7h0.9M74.8 702.6h0.9M75.1 702.5h0.9M74.9 701.8h0.9M76.2 684.7h0.9M75.5 686.9h0.9M75.6 687.9h0.9M75.8 688.6h0.9M76.3 689.3h0.9M76.2 689.1h0.9M75.4 688.8h0.9M76.1 689.2h0.9M75.7 690.5h0.9M75.9 691.2h0.9M75.7 690.8h0.9M75.6 692.3h0.9M75.6 691.9h0.9M76.0 692.2h0.9M76.0 693.5h0.9M75.5 694.3h0.9M76.2 693.8h0.9M75.8 694.7h0.9M76.0 696.6h0.9M75.8 697.3h0.9M75.4 697.1h0.9M75.6 698.7h0.9M75.9 697.9h0.9M76.3 698.4h0.9M75.7 700.7h0.9M75.8 701.2h0.9M75.6 701.6h0.9M75.8 701.7h0.9M76.1 701.9h0.9M76.4 683.6h0.9M76.8 684.7h0.9M76.6 686.3h0.9M76.9 687.3h0.9M77.3 689.2h0.9M76.6 689.4h0.9M76.4 691.0h0.9M77.2 692.0h0.9M76.7 693.9h0.9M76.4 693.9h0.9M76.5 694.8h0.9M77.1 695.6h0.9M76.7 694.7h0.9M77.0 696.4h0.9M76.6 696.4h0.9M77.3 695.8h0.9M77.3 696.3h0.9M77.1 698.1h0.9M76.7 699.1h0.9M76.7 699.0h0.9M76.5 699.2h0.9M76.4 699.7h0.9M76.5 699.9h0.9M77.2 701.1h0.9M77.3 701.2h0.9M76.6 701.1h0.9M77.4 680.8h0.9M77.4 685.0h0.9M78.0 686.5h0.9M77.4 686.7h0.9M78.1 688.2h0.9M77.6 688.5h0.9M77.4 690.0h0.9M77.8 690.1h0.9M78.1 690.1h0.9M77.8 691.6h0.9M78.2 690.7h0.9M77.6 691.3h0.9M77.7 693.7h0.9M77.6 694.1h0.9M77.9 695.3h0.9M78.3 695.0h0.9M77.9 694.8h0.9M77.3 696.1h0.9M77.9 697.5h0.9M78.0 698.5h0.9M78.2 698.1h0.9M78.1 697.8h0.9M78.1 698.8h0.9M77.4 699.8h0.9M77.4 699.9h0.9M78.1 701.0h0.9M77.8 701.3h0.9M78.3 701.5h0.9M77.4 701.8h0.9M79.0 680.6h0.9M78.5 686.1h0.9M79.3 688.5h0.9M78.4 688.7h0.9M79.1 691.3h0.9M78.5 692.2h0.9M79.0 692.6h0.9M78.7 692.7h0.9M79.0 693.9h0.9M78.5 695.9h0.9M78.5 696.1h0.9M79.2 697.6h0.9M79.3 697.6h0.9M78.4 697.6h0.9M79.1 697.0h0.9M79.2 698.1h0.9M79.2 698.5h0.9M79.1 699.3h0.9M78.9 699.2h0.9M79.0 699.0h0.9M79.1 698.8h0.9M78.5 700.2h0.9M78.9 701.2h0.9M78.6 700.9h0.9M79.1 701.1h0.9M79.2 701.5h0.9M79.0 701.4h0.9M78.8 702.4h0.9M78.4 702.7h0.9M79.7 675.5h0.9M80.3 683.9h0.9M80.2 691.0h0.9M79.6 693.2h0.9M79.7 694.7h0.9M80.0 695.4h0.9M79.3 695.3h0.9M79.5 696.0h0.9M79.7 697.7h0.9M79.5 697.7h0.9M80.2 697.7h0.9M80.1 698.5h0.9M79.7 699.1h0.9M80.0 700.0h0.9M79.6 701.4h0.9M80.2 702.4h0.9M79.8 702.6h0.9M80.4 680.1h0.9M80.9 687.4h0.9M80.5 689.4h0.9M80.6 691.3h0.9M80.9 691.5h0.9M81.3 691.2h0.9M80.5 692.4h0.9M80.6 692.5h0.9M80.4 696.1h0.9M80.5 696.7h0.9M81.1 697.3h0.9M80.6 696.9h0.9M81.2 699.4h0.9M81.1 699.2h0.9M80.6 699.3h0.9M80.4 699.2h0.9M80.9 700.7h0.9M80.7 702.5h0.9M82.0 683.8h0.9M82.2 685.8h0.9M82.1 687.4h0.9M82.2 687.5h0.9M81.8 689.4h0.9M82.1 690.1h0.9M82.2 695.2h0.9M81.6 695.6h0.9M81.5 695.1h0.9M82.0 695.0h0.9M82.3 695.8h0.9M81.7 697.7h0.9M82.2 698.1h0.9M82.2 698.2h0.9M81.7 700.2h0.9M81.5 700.8h0.9M81.4 700.9h0.9M81.4 702.0h0.9M82.4 673.6h0.9M83.2 688.6h0.9M82.9 688.9h0.9M83.3 693.3h0.9M82.6 693.8h0.9M82.6 697.1h0.9M82.6 698.2h0.9M82.3 698.2h0.9M82.7 700.1h0.9M82.4 701.6h0.9M82.7 702.4h0.9M84.0 686.5h0.9M84.2 686.6h0.9M83.4 690.7h0.9M83.9 691.8h0.9M83.7 693.0h0.9M84.2 694.2h0.9M84.2 694.9h0.9M83.8 695.8h0.9M83.4 696.7h0.9M83.8 697.9h0.9M84.1 700.8h0.9M83.3 701.6h0.9M84.1 702.0h0.9M84.8 685.0h0.9M84.3 685.9h0.9M84.7 685.9h0.9M84.9 686.8h0.9M84.3 689.0h0.9M84.6 690.2h0.9M84.8 689.9h0.9M85.1 691.0h0.9M85.1 692.5h0.9M85.0 692.6h0.9M84.5 694.3h0.9M85.0 696.7h0.9M84.9 697.4h0.9M84.9 696.9h0.9M85.2 697.3h0.9M85.0 697.3h0.9M84.4 698.1h0.9M84.9 698.7h0.9M85.2 699.9h0.9M84.7 700.2h0.9M85.2 701.3h0.9M84.8 701.4h0.9M84.9 701.0h0.9M85.0 701.3h0.9M84.6 702.0h0.9M85.7 665.5h0.9M85.5 670.8h0.9M85.5 687.6h0.9M85.9 689.1h0.9M85.7 689.6h0.9M85.6 690.7h0.9M86.3 692.0h0.9M85.8 693.3h0.9M85.6 693.5h0.9M86.0 693.7h0.9M85.4 693.5h0.9M85.9 694.4h0.9M85.5 694.3h0.9M85.6 695.6h0.9M85.9 696.3h0.9M85.9 696.0h0.9M85.4 696.2h0.9M85.4 696.5h0.9M85.5 696.7h0.9M85.9 697.6h0.9M86.2 699.6h0.9M86.0 700.3h0.9M85.5 701.3h0.9M85.5 700.8h0.9M86.3 702.7h0.9M87.1 686.7h0.9M87.2 688.1h0.9M86.7 688.5h0.9M86.7 689.6h0.9M86.7 690.4h0.9M86.8 690.7h0.9M86.9 691.7h0.9M86.5 692.6h0.9M86.8 693.6h0.9M86.4 692.8h0.9M87.0 694.1h0.9M86.5 695.2h0.9M86.8 694.9h0.9M87.2 695.6h0.9M87.1 696.9h0.9M87.2 698.2h0.9M86.4 699.9h0.9M87.0 699.9h0.9M87.0 702.0h0.9M87.9 685.9h0.9M87.5 688.2h0.9M87.8 689.7h0.9M88.0 690.6h0.9M87.7 690.5h0.9M88.1 692.0h0.9M87.4 692.7h0.9M87.9 692.9h0.9M87.5 693.5h0.9M87.5 694.0h0.9M88.2 694.3h0.9M88.0 694.3h0.9M87.8 694.0h0.9M88.1 695.5h0.9M88.1 695.0h0.9M88.1 695.8h0.9M88.2 695.8h0.9M87.5 696.1h0.9M88.2 696.5h0.9M88.3 696.2h0.9M88.3 696.3h0.9M88.0 698.2h0.9M88.3 700.5h0.9M87.9 701.7h0.9M87.5 701.5h0.9M87.4 701.3h0.9M88.9 661.9h0.9M88.6 675.7h0.9M89.2 683.7h0.9M88.6 689.0h0.9M88.8 689.5h0.9M88.4 689.4h0.9M88.7 691.6h0.9M89.3 691.2h0.9M88.6 691.8h0.9M89.3 691.7h0.9M89.0 693.7h0.9M88.5 693.5h0.9M89.2 692.9h0.9M89.3 694.2h0.9M88.4 693.9h0.9M88.7 695.3h0.9M89.2 695.7h0.9M88.8 696.2h0.9M89.0 696.2h0.9M89.1 696.3h0.9M89.1 696.4h0.9M88.7 695.8h0.9M89.2 696.8h0.9M88.9 697.6h0.9M88.7 697.1h0.9M88.9 697.6h0.9M89.3 696.9h0.9M89.0 697.6h0.9M89.0 696.9h0.9M89.2 697.8h0.9M89.1 698.3h0.9M88.8 698.3h0.9M88.7 697.8h0.9M88.9 697.8h0.9M88.6 697.7h0.9M89.3 697.8h0.9M88.4 698.7h0.9M89.1 699.0h0.9M89.2 698.9h0.9M88.6 700.4h0.9M89.2 701.0h0.9M89.2 702.3h0.9M89.4 687.7h0.9M89.8 688.6h0.9M89.5 688.4h0.9M89.8 688.9h0.9M89.6 689.7h0.9M89.9 690.1h0.9M90.0 691.3h0.9M90.2 690.9h0.9M90.2 692.0h0.9M90.2 693.4h0.9M89.7 693.1h0.9M90.2 694.2h0.9M90.2 693.9h0.9M89.8 694.7h0.9M89.6 694.5h0.9M89.4 694.4h0.9M90.1 695.2h0.9M89.6 695.4h0.9M89.5 695.5h0.9M90.1 696.4h0.9M89.6 696.2h0.9M89.9 695.9h0.9M89.8 697.4h0.9M89.7 696.7h0.9M89.6 697.1h0.9M89.4 697.2h0.9M89.8 698.2h0.9M90.1 698.2h0.9M90.1 697.8h0.9M90.2 698.2h0.9M90.0 698.2h0.9M90.0 699.2h0.9M89.8 699.0h0.9M89.4 699.6h0.9M89.8 700.7h0.9M90.0 701.6h0.9M90.0 701.4h0.9M90.5 676.2h0.9M91.1 685.6h0.9M91.0 688.3h0.9M90.5 688.3h0.9M91.3 688.8h0.9M90.7 688.8h0.9M90.4 691.1h0.9M91.3 691.6h0.9M90.7 692.0h0.9M91.0 691.7h0.9M91.2 692.2h0.9M91.1 693.6h0.9M90.8 693.6h0.9M90.5 693.7h0.9M91.2 693.1h0.9M91.3 693.4h0.9M91.2 693.8h0.9M91.0 694.7h0.9M90.4 693.8h0.9M90.9 694.0h0.9M91.2 694.5h0.9M91.0 695.5h0.9M91.3 695.1h0.9M91.0 695.1h0.9M90.5 694.9h0.9M90.8 695.4h0.9M90.9 694.9h0.9M90.7 695.7h0.9M90.5 696.3h0.9M90.9 696.0h0.9M91.3 696.2h0.9M90.6 696.1h0.9M90.5 696.8h0.9M90.6 697.0h0.9M90.9 698.1h0.9M90.9 698.5h0.9M90.8 698.2h0.9M91.3 698.5h0.9M90.8 698.2h0.9M91.2 698.6h0.9M91.3 699.5h0.9M91.1 698.8h0.9M90.9 699.6h0.9M90.7 699.4h0.9M91.0 699.5h0.9M91.1 700.0h0.9M90.9 699.9h0.9M91.1 700.6h0.9M91.1 701.2h0.9M90.4 701.4h0.9M91.4 674.3h0.9M91.6 675.4h0.9M91.4 684.1h0.9M91.7 686.1h0.9M91.6 688.5h0.9M91.4 688.7h0.9M91.6 690.6h0.9M91.6 691.6h0.9M92.1 691.9h0.9M91.6 692.2h0.9M91.4 692.0h0.9M91.5 691.8h0.9M91.4 692.6h0.9M91.7 693.2h0.9M91.6 692.9h0.9M92.1 693.2h0.9M91.8 692.8h0.9M91.4 693.8h0.9M91.6 694.5h0.9M91.7 693.7h0.9M91.5 694.2h0.9M92.3 693.8h0.9M91.4 694.2h0.9M91.9 695.6h0.9M92.2 695.0h0.9M91.6 694.8h0.9M92.2 695.2h0.9M91.4 695.2h0.9M91.9 695.0h0.9M91.7 695.3h0.9M91.9 695.2h0.9M91.5 696.0h0.9M91.6 696.3h0.9M91.7 696.0h0.9M91.4 696.4h0.9M91.5 696.8h0.9M91.9 697.6h0.9M91.6 696.9h0.9M92.2 697.5h0.9M92.1 697.5h0.9M92.2 698.1h0.9M92.1 698.1h0.9M92.0 697.8h0.9M92.1 697.9h0.9M91.4 697.9h0.9M91.5 698.0h0.9M91.6 697.8h0.9M92.0 699.5h0.9M91.9 698.7h0.9M91.4 699.3h0.9M91.5 698.8h0.9M91.9 698.9h0.9M91.4 699.0h0.9M91.5 699.0h0.9M92.1 700.5h0.9M91.9 699.9h0.9M91.9 700.3h0.9M91.5 700.6h0.9M91.4 701.3h0.9M91.4 701.7h0.9M91.9 701.5h0.9M92.0 701.5h0.9M92.0 701.5h0.9M92.1 701.6h0.9M92.8 681.6h0.9M92.4 683.4h0.9M92.9 684.5h0.9M93.2 685.4h0.9M92.6 687.4h0.9M92.4 686.9h0.9M92.8 688.4h0.9M92.7 688.6h0.9M93.1 689.4h0.9M92.6 689.5h0.9M93.1 690.1h0.9M93.2 690.0h0.9M92.7 691.2h0.9M92.7 691.1h0.9M93.2 691.0h0.9M92.5 692.6h0.9M93.2 691.7h0.9M92.6 692.3h0.9M93.2 692.6h0.9M93.0 692.5h0.9M92.5 693.7h0.9M92.4 693.3h0.9M93.1 693.3h0.9M92.7 693.1h0.9M92.5 693.0h0.9M92.6 693.0h0.9M92.9 693.2h0.9M92.9 694.6h0.9M92.7 694.0h0.9M93.1 694.7h0.9M92.9 695.5h0.9M92.7 696.4h0.9M92.4 696.1h0.9M92.8 696.2h0.9M92.7 696.5h0.9M92.9 696.7h0.9M92.7 697.4h0.9M93.3 697.0h0.9M93.0 697.6h0.9M92.7 697.6h0.9M93.2 697.8h0.9M92.8 698.2h0.9M93.3 697.7h0.9M92.7 698.6h0.9M92.5 698.0h0.9M93.1 698.4h0.9M92.7 698.4h0.9M92.3 698.8h0.9M92.7 699.6h0.9M92.8 699.5h0.9M92.4 699.2h0.9M92.3 700.2h0.9M92.9 699.9h0.9M93.2 700.2h0.9M92.6 700.0h0.9M92.4 700.7h0.9M92.6 700.2h0.9M93.3 700.8h0.9M92.7 700.8h0.9M92.6 701.6h0.9M93.3 702.5h0.9M93.6 665.1h0.9M94.1 685.1h0.9M93.7 687.2h0.9M94.2 688.0h0.9M93.6 688.6h0.9M93.6 687.8h0.9M93.9 689.4h0.9M94.1 689.4h0.9M94.2 690.4h0.9M93.8 690.9h0.9M93.7 690.8h0.9M93.9 691.0h0.9M93.6 692.1h0.9M93.9 692.0h0.9M93.8 692.0h0.9M93.6 692.4h0.9M93.5 692.1h0.9M93.8 691.7h0.9M93.4 692.4h0.9M94.1 693.7h0.9M93.3 693.2h0.9M93.8 692.9h0.9M94.1 694.6h0.9M93.5 694.5h0.9M93.5 694.5h0.9M93.9 694.0h0.9M93.8 694.5h0.9M94.3 694.2h0.9M93.9 695.6h0.9M93.7 694.9h0.9M94.0 695.1h0.9M93.5 695.0h0.9M94.0 695.5h0.9M93.4 695.7h0.9M93.8 696.3h0.9M93.9 696.4h0.9M93.7 696.3h0.9M93.5 696.5h0.9M93.8 696.6h0.9M93.5 696.3h0.9M93.7 696.7h0.9M93.7 696.3h0.9M93.9 697.6h0.9M93.8 697.5h0.9M93.4 697.0h0.9M93.9 696.8h0.9M93.5 696.8h0.9M93.9 696.8h0.9M93.4 697.5h0.9M94.3 697.8h0.9M93.3 698.0h0.9M93.7 698.6h0.9M94.0 699.7h0.9M93.6 699.0h0.9M93.4 699.4h0.9M94.0 700.4h0.9M93.9 700.4h0.9M94.1 700.1h0.9M93.8 700.4h0.9M94.3 699.7h0.9M94.3 700.0h0.9M94.3 700.2h0.9M94.0 700.0h0.9M93.7 700.9h0.9M95.2 686.4h0.9M94.8 685.9h0.9M95.0 686.8h0.9M94.8 688.0h0.9M95.1 688.1h0.9M94.7 687.8h0.9M94.4 688.6h0.9M95.3 687.9h0.9M95.2 688.4h0.9M94.7 690.4h0.9M95.2 690.2h0.9M94.9 690.0h0.9M95.2 690.2h0.9M94.4 691.4h0.9M95.1 691.1h0.9M94.7 691.3h0.9M94.6 691.6h0.9M94.6 692.2h0.9M94.7 692.6h0.9M94.6 691.9h0.9M95.0 692.4h0.9M94.8 692.5h0.9M94.5 692.0h0.9M94.8 693.0h0.9M94.9 693.1h0.9M94.6 693.6h0.9M94.8 692.7h0.9M95.1 693.6h0.9M95.1 693.6h0.9M94.3 692.8h0.9M95.1 693.0h0.9M95.3 693.6h0.9M94.6 692.8h0.9M94.9 694.4h0.9M95.0 694.2h0.9M94.9 694.7h0.9M95.3 693.9h0.9M94.4 694.5h0.9M95.0 694.9h0.9M94.4 695.4h0.9M94.4 695.0h0.9M95.3 695.2h0.9M94.5 695.4h0.9M94.6 694.7h0.9M94.9 696.5h0.9M94.9 697.5h0.9M95.1 697.0h0.9M94.5 697.0h0.9M94.8 698.1h0.9M94.8 698.0h0.9M94.7 698.0h0.9M95.1 697.8h0.9M95.3 699.0h0.9M94.8 699.6h0.9M94.9 699.4h0.9M94.9 699.6h0.9M95.2 700.1h0.9M94.7 699.8h0.9M94.7 700.0h0.9M94.4 700.1h0.9M95.1 701.3h0.9M95.0 700.9h0.9M95.0 701.2h0.9M94.4 701.5h0.9M95.3 701.0h0.9M94.3 702.6h0.9M95.9 687.4h0.9M95.9 688.2h0.9M95.4 688.1h0.9M95.8 689.3h0.9M95.3 690.6h0.9M96.2 691.4h0.9M95.5 691.7h0.9M95.7 691.6h0.9M95.9 691.8h0.9M95.8 692.1h0.9M95.9 692.7h0.9M95.5 692.2h0.9M95.9 693.0h0.9M95.9 693.5h0.9M96.3 693.1h0.9M96.3 693.4h0.9M95.9 693.7h0.9M96.3 693.9h0.9M96.0 694.9h0.9M95.6 695.8h0.9M95.8 695.7h0.9M95.9 696.5h0.9M95.8 696.0h0.9M95.6 696.1h0.9M95.8 696.7h0.9M95.7 696.6h0.9M95.8 696.2h0.9M95.9 697.1h0.9M95.7 697.5h0.9M95.5 696.9h0.9M95.5 697.7h0.9M95.8 696.8h0.9M95.5 697.2h0.9M95.7 697.1h0.9M96.3 696.7h0.9M95.9 698.6h0.9M96.2 698.3h0.9M96.1 697.9h0.9M95.5 698.3h0.9M95.8 698.2h0.9M95.5 697.8h0.9M95.6 699.0h0.9M95.5 699.4h0.9M96.3 699.3h0.9M95.8 699.0h0.9M95.7 699.4h0.9M96.1 699.4h0.9M95.9 698.9h0.9M95.4 698.7h0.9M95.7 700.0h0.9M95.4 700.5h0.9M96.2 700.1h0.9M95.6 700.2h0.9M96.3 700.6h0.9M96.0 701.6h0.9M95.8 701.1h0.9M96.0 701.2h0.9M96.1 701.1h0.9M95.6 702.3h0.9M95.6 702.6h0.9M95.6 702.2h0.9M97.3 685.0h0.9M96.9 686.1h0.9M96.7 687.0h0.9M97.1 687.0h0.9M96.9 687.6h0.9M97.1 688.2h0.9M96.9 688.7h0.9M96.3 688.8h0.9M97.2 689.3h0.9M97.0 689.2h0.9M97.0 689.7h0.9M96.8 690.2h0.9M96.8 690.7h0.9M96.6 692.2h0.9M96.7 691.8h0.9M97.0 691.7h0.9M96.4 691.9h0.9M97.3 693.4h0.9M96.7 693.3h0.9M97.2 694.2h0.9M97.2 694.5h0.9M96.7 694.3h0.9M97.1 694.0h0.9M96.7 694.6h0.9M97.3 694.6h0.9M96.6 694.6h0.9M97.0 695.4h0.9M97.2 695.6h0.9M96.6 694.8h0.9M96.9 695.1h0.9M96.9 696.6h0.9M96.4 696.5h0.9M96.4 697.3h0.9M96.6 697.0h0.9M96.9 697.5h0.9M97.1 696.9h0.9M96.4 697.1h0.9M96.5 698.2h0.9M96.9 697.8h0.9M97.1 698.5h0.9M96.9 698.1h0.9M96.3 698.1h0.9M96.5 698.3h0.9M97.1 698.1h0.9M97.3 698.3h0.9M96.6 699.4h0.9M97.0 699.3h0.9M97.1 699.1h0.9M96.9 699.1h0.9M96.7 699.4h0.9M97.1 699.0h0.9M97.1 699.8h0.9M96.6 699.9h0.9M97.1 701.2h0.9M96.5 700.9h0.9M96.7 701.0h0.9M96.5 701.1h0.9M96.9 701.8h0.9" stroke="#111" stroke-width="0.9" fill="none"/>
<line x1="23.20" y1="653.10" x2="23.20" y2="703.80" stroke="#1a1a1a" stroke-width="1.2" />
<line x1="23.20" y1="653.10" x2="98.80" y2="653.10" stroke="#1a1a1a" stroke-width="1.0" />
<rect x="78.50" y="663.60" width="19.90" height="18.60" fill="none" stroke="#222" stroke-width="0.9"/>
<line x1="23.20" y1="657.00" x2="24.80" y2="657.00" stroke="#1a1a1a" stroke-width="0.6" />
<line x1="23.20" y1="664.00" x2="24.80" y2="664.00" stroke="#1a1a1a" stroke-width="0.6" />
<line x1="23.20" y1="671.00" x2="24.80" y2="671.00" stroke="#1a1a1a" stroke-width="0.6" />
<line x1="23.20" y1="678.00" x2="24.80" y2="678.00" stroke="#1a1a1a" stroke-width="0.6" />
<line x1="23.20" y1="685.00" x2="24.80" y2="685.00" stroke="#1a1a1a" stroke-width="0.6" />
<line x1="23.20" y1="692.00" x2="24.80" y2="692.00" stroke="#1a1a1a" stroke-width="0.6" />
<line x1="23.20" y1="699.00" x2="24.80" y2="699.00" stroke="#1a1a1a" stroke-width="0.6" />
<text x="170.20" y="557.80" font-size="14.3" font-weight="bold" stroke="#111" stroke-width="0.35" fill="#111" >F</text>
<line x1="211.20" y1="551.50" x2="211.20" y2="681.30" stroke="#1a1a1a" stroke-width="1.15" />
<line x1="210.70" y1="680.80" x2="258.40" y2="680.80" stroke="#1a1a1a" stroke-width="1.15" />
<line x1="207.20" y1="680.80" x2="211.20" y2="680.80" stroke="#1a1a1a" stroke-width="1.15" />
<text x="206.30" y="683.80" font-size="8.2" font-weight="bold" stroke="#111" stroke-width="0.35" text-anchor="end" fill="#111" >0</text>
<line x1="207.20" y1="662.40" x2="211.20" y2="662.40" stroke="#1a1a1a" stroke-width="1.15" />
<text x="206.30" y="665.40" font-size="8.2" font-weight="bold" stroke="#111" stroke-width="0.35" text-anchor="end" fill="#111" >10</text>
<line x1="207.20" y1="644.00" x2="211.20" y2="644.00" stroke="#1a1a1a" stroke-width="1.15" />
<text x="206.30" y="647.00" font-size="8.2" font-weight="bold" stroke="#111" stroke-width="0.35" text-anchor="end" fill="#111" >20</text>
<line x1="207.20" y1="625.60" x2="211.20" y2="625.60" stroke="#1a1a1a" stroke-width="1.15" />
<text x="206.30" y="628.60" font-size="8.2" font-weight="bold" stroke="#111" stroke-width="0.35" text-anchor="end" fill="#111" >30</text>
<line x1="207.20" y1="607.20" x2="211.20" y2="607.20" stroke="#1a1a1a" stroke-width="1.15" />
<text x="206.30" y="610.20" font-size="8.2" font-weight="bold" stroke="#111" stroke-width="0.35" text-anchor="end" fill="#111" >40</text>
<line x1="207.20" y1="588.80" x2="211.20" y2="588.80" stroke="#1a1a1a" stroke-width="1.15" />
<text x="206.30" y="591.80" font-size="8.2" font-weight="bold" stroke="#111" stroke-width="0.35" text-anchor="end" fill="#111" >50</text>
<line x1="207.20" y1="570.40" x2="211.20" y2="570.40" stroke="#1a1a1a" stroke-width="1.15" />
<text x="206.30" y="573.40" font-size="8.2" font-weight="bold" stroke="#111" stroke-width="0.35" text-anchor="end" fill="#111" >60</text>
<line x1="207.20" y1="552.00" x2="211.20" y2="552.00" stroke="#1a1a1a" stroke-width="1.15" />
<text x="206.30" y="555.00" font-size="8.2" font-weight="bold" stroke="#111" stroke-width="0.35" text-anchor="end" fill="#111" >70</text>
<line x1="223.40" y1="568.20" x2="223.40" y2="585.00" stroke="#1a1a1a" stroke-width="1.0" />
<line x1="219.30" y1="568.20" x2="227.50" y2="568.20" stroke="#1a1a1a" stroke-width="1.0" />
<rect x="216.70" y="583.90" width="13.70" height="96.90" fill="#000" stroke="#1a1a1a" stroke-width="1.0"/>
<line x1="246.20" y1="665.80" x2="246.20" y2="673.00" stroke="#1a1a1a" stroke-width="1.0" />
<line x1="242.10" y1="665.80" x2="250.30" y2="665.80" stroke="#1a1a1a" stroke-width="1.0" />
<rect x="239.00" y="672.70" width="14.40" height="8.10" fill="#d4d4d4" stroke="#1a1a1a" stroke-width="1.0"/>
<text x="247.30" y="665.30" font-size="9.5" font-weight="bold" stroke="#111" stroke-width="0.35" text-anchor="middle" fill="#111" >**</text>
<text x="185.60" y="647.30" font-size="9.4" font-weight="bold" stroke="#111" stroke-width="0.35" textLength="61.0" lengthAdjust="spacingAndGlyphs" transform="rotate(-90 185.60 647.30)" fill="#111" >IL-12 (pg/mL)</text>
<line x1="310.00" y1="551.50" x2="310.00" y2="681.30" stroke="#1a1a1a" stroke-width="1.15" />
<line x1="309.50" y1="680.80" x2="357.40" y2="680.80" stroke="#1a1a1a" stroke-width="1.15" />
<line x1="306.00" y1="680.80" x2="310.00" y2="680.80" stroke="#1a1a1a" stroke-width="1.15" />
<text x="305.60" y="683.80" font-size="8.0" font-weight="bold" stroke="#111" stroke-width="0.35" text-anchor="end" fill="#111" >0</text>
<line x1="306.00" y1="655.04" x2="310.00" y2="655.04" stroke="#1a1a1a" stroke-width="1.15" />
<text x="305.60" y="658.04" font-size="8.0" font-weight="bold" stroke="#111" stroke-width="0.35" text-anchor="end" fill="#111" >200</text>
<line x1="306.00" y1="629.28" x2="310.00" y2="629.28" stroke="#1a1a1a" stroke-width="1.15" />
<text x="305.60" y="632.28" font-size="8.0" font-weight="bold" stroke="#111" stroke-width="0.35" text-anchor="end" fill="#111" >400</text>
<line x1="306.00" y1="603.52" x2="310.00" y2="603.52" stroke="#1a1a1a" stroke-width="1.15" />
<text x="305.60" y="606.52" font-size="8.0" font-weight="bold" stroke="#111" stroke-width="0.35" text-anchor="end" fill="#111" >600</text>
<line x1="306.00" y1="577.76" x2="310.00" y2="577.76" stroke="#1a1a1a" stroke-width="1.15" />
<text x="305.60" y="580.76" font-size="8.0" font-weight="bold" stroke="#111" stroke-width="0.35" text-anchor="end" fill="#111" >800</text>
<line x1="306.00" y1="552.00" x2="310.00" y2="552.00" stroke="#1a1a1a" stroke-width="1.15" />
<text x="305.60" y="555.00" font-size="8.0" font-weight="bold" stroke="#111" stroke-width="0.35" text-anchor="end" fill="#111" >1000</text>
<line x1="322.60" y1="568.20" x2="322.60" y2="600.00" stroke="#1a1a1a" stroke-width="1.0" />
<line x1="318.50" y1="568.20" x2="326.70" y2="568.20" stroke="#1a1a1a" stroke-width="1.0" />
<rect x="315.80" y="598.70" width="13.90" height="82.10" fill="#000" stroke="#1a1a1a" stroke-width="1.0"/>
<rect x="338.50" y="680.00" width="14.00" height="0.80" fill="#888" stroke="none" stroke-width="0"/>
<text x="345.40" y="679.00" font-size="9.5" font-weight="bold" stroke="#111" stroke-width="0.35" text-anchor="middle" fill="#111" >**</text>
<text x="284.50" y="646.60" font-size="9.4" font-weight="bold" stroke="#111" stroke-width="0.35" textLength="59.3" lengthAdjust="spacingAndGlyphs" transform="rotate(-90 284.50 646.60)" fill="#111" >IFNγ (pg/mL)</text>
<rect x="182.40" y="688.20" width="190.40" height="36.30" fill="#fff" stroke="#2a2a2a" stroke-width="1.15"/>
<rect x="190.00" y="696.70" width="14.40" height="7.30" fill="#000" stroke="#1a1a1a" stroke-width="1.0"/>
<rect x="190.00" y="711.50" width="14.40" height="7.30" fill="#d4d4d4" stroke="#1a1a1a" stroke-width="1.2"/>
<text x="212.00" y="703.40" font-size="10.5" stroke="#3c3c3c" stroke-width="0.2" textLength="113.0" lengthAdjust="spacingAndGlyphs" fill="#3c3c3c" >KRN7000 (B6.WT + DT)</text>
<text x="212.00" y="718.80" font-size="10.5" stroke="#3c3c3c" stroke-width="0.2" textLength="152.6" lengthAdjust="spacingAndGlyphs" fill="#3c3c3c" >KRN7000 (B6.CD11c DTR + DT)</text>
<text x="386.10" y="557.80" font-size="14.3" font-weight="bold" stroke="#111" stroke-width="0.35" fill="#111" >G</text>
<path d="M424.53 605.50 L425.00 565.78 L426.38 562.55 L427.77 564.40 L429.15 561.17 L430.54 564.40 L432.15 564.86 L433.77 570.40 L435.15 577.33 L436.54 585.41 L437.92 592.34 L439.54 597.65 L442.31 600.88 L445.77 602.73 L450.39 604.11 L455.47 605.27 L458.47 605.50 Z" fill="#0a0a0a" stroke="#0a0a0a" stroke-width="0.5"/>
<path d="M412.30 605.50 L412.30 583.10 L413.45 579.64 L414.61 576.17 L415.76 572.71 L416.92 573.87 L418.07 569.25 L419.23 566.94 L420.38 568.09 L421.53 562.32 L422.69 559.32 L423.84 563.47 L425.00 560.70 L425.92 565.32 L426.84 563.01 L427.77 568.09 L428.92 577.33 L430.31 588.87 L431.69 598.11 L433.31 603.19 L435.38 605.50 Z" fill="#c4c4c4" stroke="none"/>
<path d="M412.30 605.50 L412.30 583.10 L413.45 579.64 L414.61 576.17 L415.76 572.71 L416.92 573.87 L418.07 569.25 L419.23 566.94 L420.38 568.09 L421.53 562.32 L422.69 559.32 L423.84 563.47 L425.00 560.70 L425.92 565.32 L426.84 563.01 L427.77 568.09 L428.92 577.33 L430.31 588.87 L431.69 598.11 L433.31 603.19" fill="none" stroke="#666" stroke-width="0.7"/>
<rect x="412.30" y="554.70" width="83.10" height="50.80" fill="none" stroke="#b0b0b0" stroke-width="0.8"/>
<line x1="412.30" y1="605.50" x2="412.30" y2="607.00" stroke="#aaa" stroke-width="0.6" />
<rect x="411.70" y="607.50" width="2.2" height="1.6" fill="#bbb"/>
<line x1="433.07" y1="605.50" x2="433.07" y2="607.00" stroke="#aaa" stroke-width="0.6" />
<rect x="432.47" y="607.50" width="2.2" height="1.6" fill="#bbb"/>
<line x1="453.85" y1="605.50" x2="453.85" y2="607.00" stroke="#aaa" stroke-width="0.6" />
<rect x="453.25" y="607.50" width="2.2" height="1.6" fill="#bbb"/>
<line x1="474.62" y1="605.50" x2="474.62" y2="607.00" stroke="#aaa" stroke-width="0.6" />
<rect x="474.02" y="607.50" width="2.2" height="1.6" fill="#bbb"/>
<line x1="495.40" y1="605.50" x2="495.40" y2="607.00" stroke="#aaa" stroke-width="0.6" />
<rect x="494.80" y="607.50" width="2.2" height="1.6" fill="#bbb"/>
<rect x="410.10" y="595.13" width="1.5" height="1.2" fill="#ccc"/>
<rect x="410.10" y="585.36" width="1.5" height="1.2" fill="#ccc"/>
<rect x="410.10" y="575.59" width="1.5" height="1.2" fill="#ccc"/>
<rect x="410.10" y="565.82" width="1.5" height="1.2" fill="#ccc"/>
<rect x="410.10" y="556.05" width="1.5" height="1.2" fill="#ccc"/>
<text x="455.50" y="568.80" font-size="7.4" font-weight="bold" stroke="#111" stroke-width="0.35" textLength="33.0" lengthAdjust="spacingAndGlyphs" fill="#111" >NK cells</text>
<path d="M426.16 680.70 L426.62 641.94 L428.00 638.48 L429.62 640.78 L431.01 636.17 L431.93 634.32 L433.08 639.63 L434.24 643.09 L435.39 650.01 L436.55 658.09 L437.70 665.01 L438.86 670.32 L440.47 672.62 L442.32 671.93 L443.94 674.47 L446.25 673.55 L448.56 676.09 L451.56 677.01 L455.49 678.16 L460.80 679.08 L466.57 679.78 L472.34 680.47 L474.65 680.70 Z" fill="#0a0a0a" stroke="#0a0a0a" stroke-width="0.5"/>
<path d="M412.30 680.70 L412.30 656.93 L413.45 654.63 L414.61 651.17 L415.76 652.32 L416.92 647.71 L418.07 648.86 L419.23 644.24 L420.38 645.40 L421.77 640.78 L423.15 641.94 L424.54 632.71 L425.46 640.78 L426.62 637.32 L427.54 641.94 L428.47 639.63 L429.39 646.55 L430.54 656.93 L431.93 667.32 L433.32 675.39 L434.93 679.32 L436.55 680.70 Z" fill="#c4c4c4" stroke="none"/>
<path d="M412.30 680.70 L412.30 656.93 L413.45 654.63 L414.61 651.17 L415.76 652.32 L416.92 647.71 L418.07 648.86 L419.23 644.24 L420.38 645.40 L421.77 640.78 L423.15 641.94 L424.54 632.71 L425.46 640.78 L426.62 637.32 L427.54 641.94 L428.47 639.63 L429.39 646.55 L430.54 656.93 L431.93 667.32 L433.32 675.39 L434.93 679.32" fill="none" stroke="#666" stroke-width="0.7"/>
<rect x="412.30" y="630.40" width="83.60" height="50.30" fill="none" stroke="#b0b0b0" stroke-width="0.8"/>
<line x1="412.30" y1="680.70" x2="412.30" y2="682.20" stroke="#aaa" stroke-width="0.6" />
<rect x="411.70" y="682.70" width="2.2" height="1.6" fill="#bbb"/>
<line x1="433.20" y1="680.70" x2="433.20" y2="682.20" stroke="#aaa" stroke-width="0.6" />
<rect x="432.60" y="682.70" width="2.2" height="1.6" fill="#bbb"/>
<line x1="454.10" y1="680.70" x2="454.10" y2="682.20" stroke="#aaa" stroke-width="0.6" />
<rect x="453.50" y="682.70" width="2.2" height="1.6" fill="#bbb"/>
<line x1="475.00" y1="680.70" x2="475.00" y2="682.20" stroke="#aaa" stroke-width="0.6" />
<rect x="474.40" y="682.70" width="2.2" height="1.6" fill="#bbb"/>
<line x1="495.90" y1="680.70" x2="495.90" y2="682.20" stroke="#aaa" stroke-width="0.6" />
<rect x="495.30" y="682.70" width="2.2" height="1.6" fill="#bbb"/>
<rect x="410.10" y="670.43" width="1.5" height="1.2" fill="#ccc"/>
<rect x="410.10" y="660.75" width="1.5" height="1.2" fill="#ccc"/>
<rect x="410.10" y="651.08" width="1.5" height="1.2" fill="#ccc"/>
<rect x="410.10" y="641.41" width="1.5" height="1.2" fill="#ccc"/>
<rect x="410.10" y="631.73" width="1.5" height="1.2" fill="#ccc"/>
<text x="464.90" y="644.20" font-size="7.4" font-weight="bold" stroke="#111" stroke-width="0.35" textLength="25.2" lengthAdjust="spacingAndGlyphs" fill="#111" >T cells</text>
<line x1="412.20" y1="689.50" x2="444.50" y2="689.50" stroke="#1a1a1a" stroke-width="1.4" />
<path d="M450.0 689.5 L443.2 686.4 L443.2 692.6 Z" fill="#111"/>
<text x="415.00" y="701.00" font-size="8.8" font-weight="bold" stroke="#111" stroke-width="0.35" textLength="18.3" lengthAdjust="spacingAndGlyphs" fill="#111" >IFNγ</text>
</g>
</svg>
</body></html>
